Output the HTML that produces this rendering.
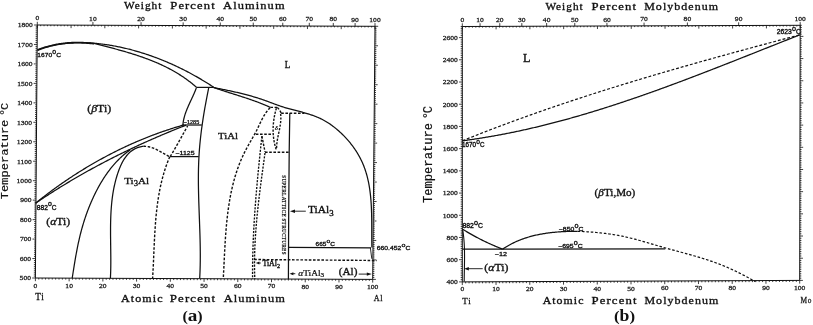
<!DOCTYPE html>
<html><head><meta charset="utf-8"><style>
html,body{margin:0;padding:0;background:#fff;overflow:hidden;}
svg{display:block;filter:grayscale(1);}
</style></head><body>
<svg width="813" height="325" viewBox="0 0 813 325">
<rect width="813" height="325" fill="#fff"/>
<path d="M37.3 25 L375 26.3 L372.7 279.4 L35.4 278 L37.3 25" fill="none" stroke="#111" stroke-width="1"/>
<line x1="32.2" y1="278" x2="35.4" y2="278" stroke="#111" stroke-width="0.8"/>
<line x1="372.7" y1="279.4" x2="375.9" y2="279.4" stroke="#111" stroke-width="0.8"/>
<g transform="translate(31 280.3) scale(0.19 0.17)"><text font-family="Liberation Serif" font-size="40" text-anchor="end" fill="#222" stroke="#222" stroke-width="1.6">500</text></g>
<line x1="33.81" y1="276.05" x2="35.41" y2="276.05" stroke="#111" stroke-width="0.8"/>
<line x1="372.72" y1="277.45" x2="374.32" y2="277.45" stroke="#111" stroke-width="0.8"/>
<line x1="33.83" y1="274.11" x2="35.43" y2="274.11" stroke="#111" stroke-width="0.8"/>
<line x1="372.74" y1="275.51" x2="374.34" y2="275.51" stroke="#111" stroke-width="0.8"/>
<line x1="33.84" y1="272.16" x2="35.44" y2="272.16" stroke="#111" stroke-width="0.8"/>
<line x1="372.75" y1="273.56" x2="374.35" y2="273.56" stroke="#111" stroke-width="0.8"/>
<line x1="33.86" y1="270.22" x2="35.46" y2="270.22" stroke="#111" stroke-width="0.8"/>
<line x1="372.77" y1="271.61" x2="374.37" y2="271.61" stroke="#111" stroke-width="0.8"/>
<line x1="33.87" y1="268.27" x2="35.47" y2="268.27" stroke="#111" stroke-width="0.8"/>
<line x1="372.79" y1="269.67" x2="374.39" y2="269.67" stroke="#111" stroke-width="0.8"/>
<line x1="33.89" y1="266.32" x2="35.49" y2="266.32" stroke="#111" stroke-width="0.8"/>
<line x1="372.81" y1="267.72" x2="374.41" y2="267.72" stroke="#111" stroke-width="0.8"/>
<line x1="33.9" y1="264.38" x2="35.5" y2="264.38" stroke="#111" stroke-width="0.8"/>
<line x1="372.82" y1="265.77" x2="374.42" y2="265.77" stroke="#111" stroke-width="0.8"/>
<line x1="33.92" y1="262.43" x2="35.52" y2="262.43" stroke="#111" stroke-width="0.8"/>
<line x1="372.84" y1="263.82" x2="374.44" y2="263.82" stroke="#111" stroke-width="0.8"/>
<line x1="33.93" y1="260.48" x2="35.53" y2="260.48" stroke="#111" stroke-width="0.8"/>
<line x1="372.86" y1="261.88" x2="374.46" y2="261.88" stroke="#111" stroke-width="0.8"/>
<line x1="32.35" y1="258.54" x2="35.55" y2="258.54" stroke="#111" stroke-width="0.8"/>
<line x1="372.88" y1="259.93" x2="376.08" y2="259.93" stroke="#111" stroke-width="0.8"/>
<g transform="translate(31.15 260.83) scale(0.19 0.17)"><text font-family="Liberation Serif" font-size="40" text-anchor="end" fill="#222" stroke="#222" stroke-width="1.6">600</text></g>
<line x1="33.96" y1="256.59" x2="35.56" y2="256.59" stroke="#111" stroke-width="0.8"/>
<line x1="372.89" y1="257.98" x2="374.49" y2="257.98" stroke="#111" stroke-width="0.8"/>
<line x1="33.98" y1="254.65" x2="35.58" y2="254.65" stroke="#111" stroke-width="0.8"/>
<line x1="372.91" y1="256.04" x2="374.51" y2="256.04" stroke="#111" stroke-width="0.8"/>
<line x1="33.99" y1="252.7" x2="35.59" y2="252.7" stroke="#111" stroke-width="0.8"/>
<line x1="372.93" y1="254.09" x2="374.53" y2="254.09" stroke="#111" stroke-width="0.8"/>
<line x1="34" y1="250.75" x2="35.6" y2="250.75" stroke="#111" stroke-width="0.8"/>
<line x1="372.95" y1="252.14" x2="374.55" y2="252.14" stroke="#111" stroke-width="0.8"/>
<line x1="34.02" y1="248.81" x2="35.62" y2="248.81" stroke="#111" stroke-width="0.8"/>
<line x1="372.97" y1="250.2" x2="374.57" y2="250.2" stroke="#111" stroke-width="0.8"/>
<line x1="34.03" y1="246.86" x2="35.63" y2="246.86" stroke="#111" stroke-width="0.8"/>
<line x1="372.98" y1="248.25" x2="374.58" y2="248.25" stroke="#111" stroke-width="0.8"/>
<line x1="34.05" y1="244.92" x2="35.65" y2="244.92" stroke="#111" stroke-width="0.8"/>
<line x1="373" y1="246.3" x2="374.6" y2="246.3" stroke="#111" stroke-width="0.8"/>
<line x1="34.06" y1="242.97" x2="35.66" y2="242.97" stroke="#111" stroke-width="0.8"/>
<line x1="373.02" y1="244.36" x2="374.62" y2="244.36" stroke="#111" stroke-width="0.8"/>
<line x1="34.08" y1="241.02" x2="35.68" y2="241.02" stroke="#111" stroke-width="0.8"/>
<line x1="373.04" y1="242.41" x2="374.64" y2="242.41" stroke="#111" stroke-width="0.8"/>
<line x1="32.49" y1="239.08" x2="35.69" y2="239.08" stroke="#111" stroke-width="0.8"/>
<line x1="373.05" y1="240.46" x2="376.25" y2="240.46" stroke="#111" stroke-width="0.8"/>
<g transform="translate(31.29 241.37) scale(0.19 0.17)"><text font-family="Liberation Serif" font-size="40" text-anchor="end" fill="#222" stroke="#222" stroke-width="1.6">700</text></g>
<line x1="34.11" y1="237.13" x2="35.71" y2="237.13" stroke="#111" stroke-width="0.8"/>
<line x1="373.07" y1="238.51" x2="374.67" y2="238.51" stroke="#111" stroke-width="0.8"/>
<line x1="34.12" y1="235.18" x2="35.72" y2="235.18" stroke="#111" stroke-width="0.8"/>
<line x1="373.09" y1="236.57" x2="374.69" y2="236.57" stroke="#111" stroke-width="0.8"/>
<line x1="34.14" y1="233.24" x2="35.74" y2="233.24" stroke="#111" stroke-width="0.8"/>
<line x1="373.11" y1="234.62" x2="374.71" y2="234.62" stroke="#111" stroke-width="0.8"/>
<line x1="34.15" y1="231.29" x2="35.75" y2="231.29" stroke="#111" stroke-width="0.8"/>
<line x1="373.12" y1="232.67" x2="374.72" y2="232.67" stroke="#111" stroke-width="0.8"/>
<line x1="34.17" y1="229.35" x2="35.77" y2="229.35" stroke="#111" stroke-width="0.8"/>
<line x1="373.14" y1="230.73" x2="374.74" y2="230.73" stroke="#111" stroke-width="0.8"/>
<line x1="34.18" y1="227.4" x2="35.78" y2="227.4" stroke="#111" stroke-width="0.8"/>
<line x1="373.16" y1="228.78" x2="374.76" y2="228.78" stroke="#111" stroke-width="0.8"/>
<line x1="34.19" y1="225.45" x2="35.79" y2="225.45" stroke="#111" stroke-width="0.8"/>
<line x1="373.18" y1="226.83" x2="374.78" y2="226.83" stroke="#111" stroke-width="0.8"/>
<line x1="34.21" y1="223.51" x2="35.81" y2="223.51" stroke="#111" stroke-width="0.8"/>
<line x1="373.2" y1="224.89" x2="374.8" y2="224.89" stroke="#111" stroke-width="0.8"/>
<line x1="34.22" y1="221.56" x2="35.82" y2="221.56" stroke="#111" stroke-width="0.8"/>
<line x1="373.21" y1="222.94" x2="374.81" y2="222.94" stroke="#111" stroke-width="0.8"/>
<line x1="32.64" y1="219.62" x2="35.84" y2="219.62" stroke="#111" stroke-width="0.8"/>
<line x1="373.23" y1="220.99" x2="376.43" y2="220.99" stroke="#111" stroke-width="0.8"/>
<g transform="translate(31.44 221.91) scale(0.19 0.17)"><text font-family="Liberation Serif" font-size="40" text-anchor="end" fill="#222" stroke="#222" stroke-width="1.6">800</text></g>
<line x1="34.25" y1="217.67" x2="35.85" y2="217.67" stroke="#111" stroke-width="0.8"/>
<line x1="373.25" y1="219.05" x2="374.85" y2="219.05" stroke="#111" stroke-width="0.8"/>
<line x1="34.27" y1="215.72" x2="35.87" y2="215.72" stroke="#111" stroke-width="0.8"/>
<line x1="373.27" y1="217.1" x2="374.87" y2="217.1" stroke="#111" stroke-width="0.8"/>
<line x1="34.28" y1="213.78" x2="35.88" y2="213.78" stroke="#111" stroke-width="0.8"/>
<line x1="373.28" y1="215.15" x2="374.88" y2="215.15" stroke="#111" stroke-width="0.8"/>
<line x1="34.3" y1="211.83" x2="35.9" y2="211.83" stroke="#111" stroke-width="0.8"/>
<line x1="373.3" y1="213.2" x2="374.9" y2="213.2" stroke="#111" stroke-width="0.8"/>
<line x1="34.31" y1="209.88" x2="35.91" y2="209.88" stroke="#111" stroke-width="0.8"/>
<line x1="373.32" y1="211.26" x2="374.92" y2="211.26" stroke="#111" stroke-width="0.8"/>
<line x1="34.33" y1="207.94" x2="35.93" y2="207.94" stroke="#111" stroke-width="0.8"/>
<line x1="373.34" y1="209.31" x2="374.94" y2="209.31" stroke="#111" stroke-width="0.8"/>
<line x1="34.34" y1="205.99" x2="35.94" y2="205.99" stroke="#111" stroke-width="0.8"/>
<line x1="373.35" y1="207.36" x2="374.95" y2="207.36" stroke="#111" stroke-width="0.8"/>
<line x1="34.36" y1="204.05" x2="35.96" y2="204.05" stroke="#111" stroke-width="0.8"/>
<line x1="373.37" y1="205.42" x2="374.97" y2="205.42" stroke="#111" stroke-width="0.8"/>
<line x1="34.37" y1="202.1" x2="35.97" y2="202.1" stroke="#111" stroke-width="0.8"/>
<line x1="373.39" y1="203.47" x2="374.99" y2="203.47" stroke="#111" stroke-width="0.8"/>
<line x1="32.78" y1="200.15" x2="35.98" y2="200.15" stroke="#111" stroke-width="0.8"/>
<line x1="373.41" y1="201.52" x2="376.61" y2="201.52" stroke="#111" stroke-width="0.8"/>
<g transform="translate(31.58 202.45) scale(0.19 0.17)"><text font-family="Liberation Serif" font-size="40" text-anchor="end" fill="#222" stroke="#222" stroke-width="1.6">900</text></g>
<line x1="34.4" y1="198.21" x2="36" y2="198.21" stroke="#111" stroke-width="0.8"/>
<line x1="373.43" y1="199.58" x2="375.03" y2="199.58" stroke="#111" stroke-width="0.8"/>
<line x1="34.41" y1="196.26" x2="36.01" y2="196.26" stroke="#111" stroke-width="0.8"/>
<line x1="373.44" y1="197.63" x2="375.04" y2="197.63" stroke="#111" stroke-width="0.8"/>
<line x1="34.43" y1="194.32" x2="36.03" y2="194.32" stroke="#111" stroke-width="0.8"/>
<line x1="373.46" y1="195.68" x2="375.06" y2="195.68" stroke="#111" stroke-width="0.8"/>
<line x1="34.44" y1="192.37" x2="36.04" y2="192.37" stroke="#111" stroke-width="0.8"/>
<line x1="373.48" y1="193.74" x2="375.08" y2="193.74" stroke="#111" stroke-width="0.8"/>
<line x1="34.46" y1="190.42" x2="36.06" y2="190.42" stroke="#111" stroke-width="0.8"/>
<line x1="373.5" y1="191.79" x2="375.1" y2="191.79" stroke="#111" stroke-width="0.8"/>
<line x1="34.47" y1="188.48" x2="36.07" y2="188.48" stroke="#111" stroke-width="0.8"/>
<line x1="373.51" y1="189.84" x2="375.11" y2="189.84" stroke="#111" stroke-width="0.8"/>
<line x1="34.49" y1="186.53" x2="36.09" y2="186.53" stroke="#111" stroke-width="0.8"/>
<line x1="373.53" y1="187.89" x2="375.13" y2="187.89" stroke="#111" stroke-width="0.8"/>
<line x1="34.5" y1="184.58" x2="36.1" y2="184.58" stroke="#111" stroke-width="0.8"/>
<line x1="373.55" y1="185.95" x2="375.15" y2="185.95" stroke="#111" stroke-width="0.8"/>
<line x1="34.52" y1="182.64" x2="36.12" y2="182.64" stroke="#111" stroke-width="0.8"/>
<line x1="373.57" y1="184" x2="375.17" y2="184" stroke="#111" stroke-width="0.8"/>
<line x1="32.93" y1="180.69" x2="36.13" y2="180.69" stroke="#111" stroke-width="0.8"/>
<line x1="373.58" y1="182.05" x2="376.78" y2="182.05" stroke="#111" stroke-width="0.8"/>
<g transform="translate(31.73 182.99) scale(0.19 0.17)"><text font-family="Liberation Serif" font-size="40" text-anchor="end" fill="#222" stroke="#222" stroke-width="1.6">1000</text></g>
<line x1="34.55" y1="178.75" x2="36.15" y2="178.75" stroke="#111" stroke-width="0.8"/>
<line x1="373.6" y1="180.11" x2="375.2" y2="180.11" stroke="#111" stroke-width="0.8"/>
<line x1="34.56" y1="176.8" x2="36.16" y2="176.8" stroke="#111" stroke-width="0.8"/>
<line x1="373.62" y1="178.16" x2="375.22" y2="178.16" stroke="#111" stroke-width="0.8"/>
<line x1="34.57" y1="174.85" x2="36.17" y2="174.85" stroke="#111" stroke-width="0.8"/>
<line x1="373.64" y1="176.21" x2="375.24" y2="176.21" stroke="#111" stroke-width="0.8"/>
<line x1="34.59" y1="172.91" x2="36.19" y2="172.91" stroke="#111" stroke-width="0.8"/>
<line x1="373.66" y1="174.27" x2="375.26" y2="174.27" stroke="#111" stroke-width="0.8"/>
<line x1="34.6" y1="170.96" x2="36.2" y2="170.96" stroke="#111" stroke-width="0.8"/>
<line x1="373.67" y1="172.32" x2="375.27" y2="172.32" stroke="#111" stroke-width="0.8"/>
<line x1="34.62" y1="169.02" x2="36.22" y2="169.02" stroke="#111" stroke-width="0.8"/>
<line x1="373.69" y1="170.37" x2="375.29" y2="170.37" stroke="#111" stroke-width="0.8"/>
<line x1="34.63" y1="167.07" x2="36.23" y2="167.07" stroke="#111" stroke-width="0.8"/>
<line x1="373.71" y1="168.43" x2="375.31" y2="168.43" stroke="#111" stroke-width="0.8"/>
<line x1="34.65" y1="165.12" x2="36.25" y2="165.12" stroke="#111" stroke-width="0.8"/>
<line x1="373.73" y1="166.48" x2="375.33" y2="166.48" stroke="#111" stroke-width="0.8"/>
<line x1="34.66" y1="163.18" x2="36.26" y2="163.18" stroke="#111" stroke-width="0.8"/>
<line x1="373.74" y1="164.53" x2="375.34" y2="164.53" stroke="#111" stroke-width="0.8"/>
<line x1="33.08" y1="161.23" x2="36.28" y2="161.23" stroke="#111" stroke-width="0.8"/>
<line x1="373.76" y1="162.58" x2="376.96" y2="162.58" stroke="#111" stroke-width="0.8"/>
<g transform="translate(31.88 163.53) scale(0.19 0.17)"><text font-family="Liberation Serif" font-size="40" text-anchor="end" fill="#222" stroke="#222" stroke-width="1.6">1100</text></g>
<line x1="34.69" y1="159.28" x2="36.29" y2="159.28" stroke="#111" stroke-width="0.8"/>
<line x1="373.78" y1="160.64" x2="375.38" y2="160.64" stroke="#111" stroke-width="0.8"/>
<line x1="34.71" y1="157.34" x2="36.31" y2="157.34" stroke="#111" stroke-width="0.8"/>
<line x1="373.8" y1="158.69" x2="375.4" y2="158.69" stroke="#111" stroke-width="0.8"/>
<line x1="34.72" y1="155.39" x2="36.32" y2="155.39" stroke="#111" stroke-width="0.8"/>
<line x1="373.81" y1="156.74" x2="375.41" y2="156.74" stroke="#111" stroke-width="0.8"/>
<line x1="34.74" y1="153.45" x2="36.34" y2="153.45" stroke="#111" stroke-width="0.8"/>
<line x1="373.83" y1="154.8" x2="375.43" y2="154.8" stroke="#111" stroke-width="0.8"/>
<line x1="34.75" y1="151.5" x2="36.35" y2="151.5" stroke="#111" stroke-width="0.8"/>
<line x1="373.85" y1="152.85" x2="375.45" y2="152.85" stroke="#111" stroke-width="0.8"/>
<line x1="34.76" y1="149.55" x2="36.36" y2="149.55" stroke="#111" stroke-width="0.8"/>
<line x1="373.87" y1="150.9" x2="375.47" y2="150.9" stroke="#111" stroke-width="0.8"/>
<line x1="34.78" y1="147.61" x2="36.38" y2="147.61" stroke="#111" stroke-width="0.8"/>
<line x1="373.89" y1="148.96" x2="375.49" y2="148.96" stroke="#111" stroke-width="0.8"/>
<line x1="34.79" y1="145.66" x2="36.39" y2="145.66" stroke="#111" stroke-width="0.8"/>
<line x1="373.9" y1="147.01" x2="375.5" y2="147.01" stroke="#111" stroke-width="0.8"/>
<line x1="34.81" y1="143.72" x2="36.41" y2="143.72" stroke="#111" stroke-width="0.8"/>
<line x1="373.92" y1="145.06" x2="375.52" y2="145.06" stroke="#111" stroke-width="0.8"/>
<line x1="33.22" y1="141.77" x2="36.42" y2="141.77" stroke="#111" stroke-width="0.8"/>
<line x1="373.94" y1="143.12" x2="377.14" y2="143.12" stroke="#111" stroke-width="0.8"/>
<g transform="translate(32.02 144.06) scale(0.19 0.17)"><text font-family="Liberation Serif" font-size="40" text-anchor="end" fill="#222" stroke="#222" stroke-width="1.6">1200</text></g>
<line x1="34.84" y1="139.82" x2="36.44" y2="139.82" stroke="#111" stroke-width="0.8"/>
<line x1="373.96" y1="141.17" x2="375.56" y2="141.17" stroke="#111" stroke-width="0.8"/>
<line x1="34.85" y1="137.88" x2="36.45" y2="137.88" stroke="#111" stroke-width="0.8"/>
<line x1="373.97" y1="139.22" x2="375.57" y2="139.22" stroke="#111" stroke-width="0.8"/>
<line x1="34.87" y1="135.93" x2="36.47" y2="135.93" stroke="#111" stroke-width="0.8"/>
<line x1="373.99" y1="137.27" x2="375.59" y2="137.27" stroke="#111" stroke-width="0.8"/>
<line x1="34.88" y1="133.98" x2="36.48" y2="133.98" stroke="#111" stroke-width="0.8"/>
<line x1="374.01" y1="135.33" x2="375.61" y2="135.33" stroke="#111" stroke-width="0.8"/>
<line x1="34.9" y1="132.04" x2="36.5" y2="132.04" stroke="#111" stroke-width="0.8"/>
<line x1="374.03" y1="133.38" x2="375.63" y2="133.38" stroke="#111" stroke-width="0.8"/>
<line x1="34.91" y1="130.09" x2="36.51" y2="130.09" stroke="#111" stroke-width="0.8"/>
<line x1="374.04" y1="131.43" x2="375.64" y2="131.43" stroke="#111" stroke-width="0.8"/>
<line x1="34.93" y1="128.15" x2="36.53" y2="128.15" stroke="#111" stroke-width="0.8"/>
<line x1="374.06" y1="129.49" x2="375.66" y2="129.49" stroke="#111" stroke-width="0.8"/>
<line x1="34.94" y1="126.2" x2="36.54" y2="126.2" stroke="#111" stroke-width="0.8"/>
<line x1="374.08" y1="127.54" x2="375.68" y2="127.54" stroke="#111" stroke-width="0.8"/>
<line x1="34.95" y1="124.25" x2="36.55" y2="124.25" stroke="#111" stroke-width="0.8"/>
<line x1="374.1" y1="125.59" x2="375.7" y2="125.59" stroke="#111" stroke-width="0.8"/>
<line x1="33.37" y1="122.31" x2="36.57" y2="122.31" stroke="#111" stroke-width="0.8"/>
<line x1="374.12" y1="123.65" x2="377.32" y2="123.65" stroke="#111" stroke-width="0.8"/>
<g transform="translate(32.17 124.6) scale(0.19 0.17)"><text font-family="Liberation Serif" font-size="40" text-anchor="end" fill="#222" stroke="#222" stroke-width="1.6">1300</text></g>
<line x1="34.98" y1="120.36" x2="36.58" y2="120.36" stroke="#111" stroke-width="0.8"/>
<line x1="374.13" y1="121.7" x2="375.73" y2="121.7" stroke="#111" stroke-width="0.8"/>
<line x1="35" y1="118.42" x2="36.6" y2="118.42" stroke="#111" stroke-width="0.8"/>
<line x1="374.15" y1="119.75" x2="375.75" y2="119.75" stroke="#111" stroke-width="0.8"/>
<line x1="35.01" y1="116.47" x2="36.61" y2="116.47" stroke="#111" stroke-width="0.8"/>
<line x1="374.17" y1="117.81" x2="375.77" y2="117.81" stroke="#111" stroke-width="0.8"/>
<line x1="35.03" y1="114.52" x2="36.63" y2="114.52" stroke="#111" stroke-width="0.8"/>
<line x1="374.19" y1="115.86" x2="375.79" y2="115.86" stroke="#111" stroke-width="0.8"/>
<line x1="35.04" y1="112.58" x2="36.64" y2="112.58" stroke="#111" stroke-width="0.8"/>
<line x1="374.2" y1="113.91" x2="375.8" y2="113.91" stroke="#111" stroke-width="0.8"/>
<line x1="35.06" y1="110.63" x2="36.66" y2="110.63" stroke="#111" stroke-width="0.8"/>
<line x1="374.22" y1="111.96" x2="375.82" y2="111.96" stroke="#111" stroke-width="0.8"/>
<line x1="35.07" y1="108.68" x2="36.67" y2="108.68" stroke="#111" stroke-width="0.8"/>
<line x1="374.24" y1="110.02" x2="375.84" y2="110.02" stroke="#111" stroke-width="0.8"/>
<line x1="35.09" y1="106.74" x2="36.69" y2="106.74" stroke="#111" stroke-width="0.8"/>
<line x1="374.26" y1="108.07" x2="375.86" y2="108.07" stroke="#111" stroke-width="0.8"/>
<line x1="35.1" y1="104.79" x2="36.7" y2="104.79" stroke="#111" stroke-width="0.8"/>
<line x1="374.27" y1="106.12" x2="375.87" y2="106.12" stroke="#111" stroke-width="0.8"/>
<line x1="33.52" y1="102.85" x2="36.72" y2="102.85" stroke="#111" stroke-width="0.8"/>
<line x1="374.29" y1="104.18" x2="377.49" y2="104.18" stroke="#111" stroke-width="0.8"/>
<g transform="translate(32.32 105.14) scale(0.19 0.17)"><text font-family="Liberation Serif" font-size="40" text-anchor="end" fill="#222" stroke="#222" stroke-width="1.6">1400</text></g>
<line x1="35.13" y1="100.9" x2="36.73" y2="100.9" stroke="#111" stroke-width="0.8"/>
<line x1="374.31" y1="102.23" x2="375.91" y2="102.23" stroke="#111" stroke-width="0.8"/>
<line x1="35.14" y1="98.95" x2="36.74" y2="98.95" stroke="#111" stroke-width="0.8"/>
<line x1="374.33" y1="100.28" x2="375.93" y2="100.28" stroke="#111" stroke-width="0.8"/>
<line x1="35.16" y1="97.01" x2="36.76" y2="97.01" stroke="#111" stroke-width="0.8"/>
<line x1="374.35" y1="98.34" x2="375.95" y2="98.34" stroke="#111" stroke-width="0.8"/>
<line x1="35.17" y1="95.06" x2="36.77" y2="95.06" stroke="#111" stroke-width="0.8"/>
<line x1="374.36" y1="96.39" x2="375.96" y2="96.39" stroke="#111" stroke-width="0.8"/>
<line x1="35.19" y1="93.12" x2="36.79" y2="93.12" stroke="#111" stroke-width="0.8"/>
<line x1="374.38" y1="94.44" x2="375.98" y2="94.44" stroke="#111" stroke-width="0.8"/>
<line x1="35.2" y1="91.17" x2="36.8" y2="91.17" stroke="#111" stroke-width="0.8"/>
<line x1="374.4" y1="92.5" x2="376" y2="92.5" stroke="#111" stroke-width="0.8"/>
<line x1="35.22" y1="89.22" x2="36.82" y2="89.22" stroke="#111" stroke-width="0.8"/>
<line x1="374.42" y1="90.55" x2="376.02" y2="90.55" stroke="#111" stroke-width="0.8"/>
<line x1="35.23" y1="87.28" x2="36.83" y2="87.28" stroke="#111" stroke-width="0.8"/>
<line x1="374.43" y1="88.6" x2="376.03" y2="88.6" stroke="#111" stroke-width="0.8"/>
<line x1="35.25" y1="85.33" x2="36.85" y2="85.33" stroke="#111" stroke-width="0.8"/>
<line x1="374.45" y1="86.65" x2="376.05" y2="86.65" stroke="#111" stroke-width="0.8"/>
<line x1="33.66" y1="83.38" x2="36.86" y2="83.38" stroke="#111" stroke-width="0.8"/>
<line x1="374.47" y1="84.71" x2="377.67" y2="84.71" stroke="#111" stroke-width="0.8"/>
<g transform="translate(32.46 85.68) scale(0.19 0.17)"><text font-family="Liberation Serif" font-size="40" text-anchor="end" fill="#222" stroke="#222" stroke-width="1.6">1500</text></g>
<line x1="35.28" y1="81.44" x2="36.88" y2="81.44" stroke="#111" stroke-width="0.8"/>
<line x1="374.49" y1="82.76" x2="376.09" y2="82.76" stroke="#111" stroke-width="0.8"/>
<line x1="35.29" y1="79.49" x2="36.89" y2="79.49" stroke="#111" stroke-width="0.8"/>
<line x1="374.5" y1="80.81" x2="376.1" y2="80.81" stroke="#111" stroke-width="0.8"/>
<line x1="35.31" y1="77.55" x2="36.91" y2="77.55" stroke="#111" stroke-width="0.8"/>
<line x1="374.52" y1="78.87" x2="376.12" y2="78.87" stroke="#111" stroke-width="0.8"/>
<line x1="35.32" y1="75.6" x2="36.92" y2="75.6" stroke="#111" stroke-width="0.8"/>
<line x1="374.54" y1="76.92" x2="376.14" y2="76.92" stroke="#111" stroke-width="0.8"/>
<line x1="35.33" y1="73.65" x2="36.93" y2="73.65" stroke="#111" stroke-width="0.8"/>
<line x1="374.56" y1="74.97" x2="376.16" y2="74.97" stroke="#111" stroke-width="0.8"/>
<line x1="35.35" y1="71.71" x2="36.95" y2="71.71" stroke="#111" stroke-width="0.8"/>
<line x1="374.58" y1="73.03" x2="376.18" y2="73.03" stroke="#111" stroke-width="0.8"/>
<line x1="35.36" y1="69.76" x2="36.96" y2="69.76" stroke="#111" stroke-width="0.8"/>
<line x1="374.59" y1="71.08" x2="376.19" y2="71.08" stroke="#111" stroke-width="0.8"/>
<line x1="35.38" y1="67.82" x2="36.98" y2="67.82" stroke="#111" stroke-width="0.8"/>
<line x1="374.61" y1="69.13" x2="376.21" y2="69.13" stroke="#111" stroke-width="0.8"/>
<line x1="35.39" y1="65.87" x2="36.99" y2="65.87" stroke="#111" stroke-width="0.8"/>
<line x1="374.63" y1="67.19" x2="376.23" y2="67.19" stroke="#111" stroke-width="0.8"/>
<line x1="33.81" y1="63.92" x2="37.01" y2="63.92" stroke="#111" stroke-width="0.8"/>
<line x1="374.65" y1="65.24" x2="377.85" y2="65.24" stroke="#111" stroke-width="0.8"/>
<g transform="translate(32.61 66.22) scale(0.19 0.17)"><text font-family="Liberation Serif" font-size="40" text-anchor="end" fill="#222" stroke="#222" stroke-width="1.6">1600</text></g>
<line x1="35.42" y1="61.98" x2="37.02" y2="61.98" stroke="#111" stroke-width="0.8"/>
<line x1="374.66" y1="63.29" x2="376.26" y2="63.29" stroke="#111" stroke-width="0.8"/>
<line x1="35.44" y1="60.03" x2="37.04" y2="60.03" stroke="#111" stroke-width="0.8"/>
<line x1="374.68" y1="61.34" x2="376.28" y2="61.34" stroke="#111" stroke-width="0.8"/>
<line x1="35.45" y1="58.08" x2="37.05" y2="58.08" stroke="#111" stroke-width="0.8"/>
<line x1="374.7" y1="59.4" x2="376.3" y2="59.4" stroke="#111" stroke-width="0.8"/>
<line x1="35.47" y1="56.14" x2="37.07" y2="56.14" stroke="#111" stroke-width="0.8"/>
<line x1="374.72" y1="57.45" x2="376.32" y2="57.45" stroke="#111" stroke-width="0.8"/>
<line x1="35.48" y1="54.19" x2="37.08" y2="54.19" stroke="#111" stroke-width="0.8"/>
<line x1="374.73" y1="55.5" x2="376.33" y2="55.5" stroke="#111" stroke-width="0.8"/>
<line x1="35.5" y1="52.25" x2="37.1" y2="52.25" stroke="#111" stroke-width="0.8"/>
<line x1="374.75" y1="53.56" x2="376.35" y2="53.56" stroke="#111" stroke-width="0.8"/>
<line x1="35.51" y1="50.3" x2="37.11" y2="50.3" stroke="#111" stroke-width="0.8"/>
<line x1="374.77" y1="51.61" x2="376.37" y2="51.61" stroke="#111" stroke-width="0.8"/>
<line x1="35.52" y1="48.35" x2="37.12" y2="48.35" stroke="#111" stroke-width="0.8"/>
<line x1="374.79" y1="49.66" x2="376.39" y2="49.66" stroke="#111" stroke-width="0.8"/>
<line x1="35.54" y1="46.41" x2="37.14" y2="46.41" stroke="#111" stroke-width="0.8"/>
<line x1="374.81" y1="47.72" x2="376.41" y2="47.72" stroke="#111" stroke-width="0.8"/>
<line x1="33.95" y1="44.46" x2="37.15" y2="44.46" stroke="#111" stroke-width="0.8"/>
<line x1="374.82" y1="45.77" x2="378.02" y2="45.77" stroke="#111" stroke-width="0.8"/>
<g transform="translate(32.75 46.76) scale(0.19 0.17)"><text font-family="Liberation Serif" font-size="40" text-anchor="end" fill="#222" stroke="#222" stroke-width="1.6">1700</text></g>
<line x1="35.57" y1="42.52" x2="37.17" y2="42.52" stroke="#111" stroke-width="0.8"/>
<line x1="374.84" y1="43.82" x2="376.44" y2="43.82" stroke="#111" stroke-width="0.8"/>
<line x1="35.58" y1="40.57" x2="37.18" y2="40.57" stroke="#111" stroke-width="0.8"/>
<line x1="374.86" y1="41.88" x2="376.46" y2="41.88" stroke="#111" stroke-width="0.8"/>
<line x1="35.6" y1="38.62" x2="37.2" y2="38.62" stroke="#111" stroke-width="0.8"/>
<line x1="374.88" y1="39.93" x2="376.48" y2="39.93" stroke="#111" stroke-width="0.8"/>
<line x1="35.61" y1="36.68" x2="37.21" y2="36.68" stroke="#111" stroke-width="0.8"/>
<line x1="374.89" y1="37.98" x2="376.49" y2="37.98" stroke="#111" stroke-width="0.8"/>
<line x1="35.63" y1="34.73" x2="37.23" y2="34.73" stroke="#111" stroke-width="0.8"/>
<line x1="374.91" y1="36.03" x2="376.51" y2="36.03" stroke="#111" stroke-width="0.8"/>
<line x1="35.64" y1="32.78" x2="37.24" y2="32.78" stroke="#111" stroke-width="0.8"/>
<line x1="374.93" y1="34.09" x2="376.53" y2="34.09" stroke="#111" stroke-width="0.8"/>
<line x1="35.66" y1="30.84" x2="37.26" y2="30.84" stroke="#111" stroke-width="0.8"/>
<line x1="374.95" y1="32.14" x2="376.55" y2="32.14" stroke="#111" stroke-width="0.8"/>
<line x1="35.67" y1="28.89" x2="37.27" y2="28.89" stroke="#111" stroke-width="0.8"/>
<line x1="374.96" y1="30.19" x2="376.56" y2="30.19" stroke="#111" stroke-width="0.8"/>
<line x1="35.69" y1="26.95" x2="37.29" y2="26.95" stroke="#111" stroke-width="0.8"/>
<line x1="374.98" y1="28.25" x2="376.58" y2="28.25" stroke="#111" stroke-width="0.8"/>
<line x1="34.1" y1="25" x2="37.3" y2="25" stroke="#111" stroke-width="0.8"/>
<line x1="375" y1="26.3" x2="378.2" y2="26.3" stroke="#111" stroke-width="0.8"/>
<g transform="translate(32.9 27.3) scale(0.19 0.17)"><text font-family="Liberation Serif" font-size="40" text-anchor="end" fill="#222" stroke="#222" stroke-width="1.6">1800</text></g>
<line x1="35.4" y1="278" x2="35.4" y2="281.2" stroke="#111" stroke-width="0.8"/>
<line x1="37.3" y1="25" x2="37.3" y2="28" stroke="#111" stroke-width="0.8"/>
<line x1="38.77" y1="278.01" x2="38.77" y2="279.51" stroke="#111" stroke-width="0.8"/>
<line x1="40.68" y1="25.01" x2="40.68" y2="26.21" stroke="#111" stroke-width="0.8"/>
<line x1="42.15" y1="278.03" x2="42.15" y2="279.53" stroke="#111" stroke-width="0.8"/>
<line x1="44.05" y1="25.03" x2="44.05" y2="26.23" stroke="#111" stroke-width="0.8"/>
<line x1="45.52" y1="278.04" x2="45.52" y2="279.54" stroke="#111" stroke-width="0.8"/>
<line x1="47.43" y1="25.04" x2="47.43" y2="26.24" stroke="#111" stroke-width="0.8"/>
<line x1="48.89" y1="278.06" x2="48.89" y2="279.56" stroke="#111" stroke-width="0.8"/>
<line x1="50.81" y1="25.05" x2="50.81" y2="26.25" stroke="#111" stroke-width="0.8"/>
<line x1="52.27" y1="278.07" x2="52.27" y2="279.57" stroke="#111" stroke-width="0.8"/>
<line x1="54.18" y1="25.07" x2="54.18" y2="26.27" stroke="#111" stroke-width="0.8"/>
<line x1="55.64" y1="278.08" x2="55.64" y2="279.58" stroke="#111" stroke-width="0.8"/>
<line x1="57.56" y1="25.08" x2="57.56" y2="26.28" stroke="#111" stroke-width="0.8"/>
<line x1="59.01" y1="278.1" x2="59.01" y2="279.6" stroke="#111" stroke-width="0.8"/>
<line x1="60.94" y1="25.09" x2="60.94" y2="26.29" stroke="#111" stroke-width="0.8"/>
<line x1="62.38" y1="278.11" x2="62.38" y2="279.61" stroke="#111" stroke-width="0.8"/>
<line x1="64.32" y1="25.1" x2="64.32" y2="26.3" stroke="#111" stroke-width="0.8"/>
<line x1="65.76" y1="278.13" x2="65.76" y2="279.63" stroke="#111" stroke-width="0.8"/>
<line x1="67.69" y1="25.12" x2="67.69" y2="26.32" stroke="#111" stroke-width="0.8"/>
<line x1="69.13" y1="278.14" x2="69.13" y2="281.34" stroke="#111" stroke-width="0.8"/>
<line x1="71.07" y1="25.13" x2="71.07" y2="28.13" stroke="#111" stroke-width="0.8"/>
<line x1="72.5" y1="278.15" x2="72.5" y2="279.65" stroke="#111" stroke-width="0.8"/>
<line x1="74.45" y1="25.14" x2="74.45" y2="26.34" stroke="#111" stroke-width="0.8"/>
<line x1="75.88" y1="278.17" x2="75.88" y2="279.67" stroke="#111" stroke-width="0.8"/>
<line x1="77.82" y1="25.16" x2="77.82" y2="26.36" stroke="#111" stroke-width="0.8"/>
<line x1="79.25" y1="278.18" x2="79.25" y2="279.68" stroke="#111" stroke-width="0.8"/>
<line x1="81.2" y1="25.17" x2="81.2" y2="26.37" stroke="#111" stroke-width="0.8"/>
<line x1="82.62" y1="278.2" x2="82.62" y2="279.7" stroke="#111" stroke-width="0.8"/>
<line x1="84.58" y1="25.18" x2="84.58" y2="26.38" stroke="#111" stroke-width="0.8"/>
<line x1="85.99" y1="278.21" x2="85.99" y2="279.71" stroke="#111" stroke-width="0.8"/>
<line x1="87.95" y1="25.2" x2="87.95" y2="26.39" stroke="#111" stroke-width="0.8"/>
<line x1="89.37" y1="278.22" x2="89.37" y2="279.72" stroke="#111" stroke-width="0.8"/>
<line x1="91.33" y1="25.21" x2="91.33" y2="26.41" stroke="#111" stroke-width="0.8"/>
<line x1="92.74" y1="278.24" x2="92.74" y2="279.74" stroke="#111" stroke-width="0.8"/>
<line x1="94.71" y1="25.22" x2="94.71" y2="26.42" stroke="#111" stroke-width="0.8"/>
<line x1="96.11" y1="278.25" x2="96.11" y2="279.75" stroke="#111" stroke-width="0.8"/>
<line x1="98.09" y1="25.23" x2="98.09" y2="26.43" stroke="#111" stroke-width="0.8"/>
<line x1="99.49" y1="278.27" x2="99.49" y2="279.77" stroke="#111" stroke-width="0.8"/>
<line x1="101.46" y1="25.25" x2="101.46" y2="26.45" stroke="#111" stroke-width="0.8"/>
<line x1="102.86" y1="278.28" x2="102.86" y2="281.48" stroke="#111" stroke-width="0.8"/>
<line x1="104.84" y1="25.26" x2="104.84" y2="28.26" stroke="#111" stroke-width="0.8"/>
<line x1="106.23" y1="278.29" x2="106.23" y2="279.79" stroke="#111" stroke-width="0.8"/>
<line x1="108.22" y1="25.27" x2="108.22" y2="26.47" stroke="#111" stroke-width="0.8"/>
<line x1="109.61" y1="278.31" x2="109.61" y2="279.81" stroke="#111" stroke-width="0.8"/>
<line x1="111.59" y1="25.29" x2="111.59" y2="26.49" stroke="#111" stroke-width="0.8"/>
<line x1="112.98" y1="278.32" x2="112.98" y2="279.82" stroke="#111" stroke-width="0.8"/>
<line x1="114.97" y1="25.3" x2="114.97" y2="26.5" stroke="#111" stroke-width="0.8"/>
<line x1="116.35" y1="278.34" x2="116.35" y2="279.84" stroke="#111" stroke-width="0.8"/>
<line x1="118.35" y1="25.31" x2="118.35" y2="26.51" stroke="#111" stroke-width="0.8"/>
<line x1="119.72" y1="278.35" x2="119.72" y2="279.85" stroke="#111" stroke-width="0.8"/>
<line x1="121.72" y1="25.32" x2="121.72" y2="26.52" stroke="#111" stroke-width="0.8"/>
<line x1="123.1" y1="278.36" x2="123.1" y2="279.86" stroke="#111" stroke-width="0.8"/>
<line x1="125.1" y1="25.34" x2="125.1" y2="26.54" stroke="#111" stroke-width="0.8"/>
<line x1="126.47" y1="278.38" x2="126.47" y2="279.88" stroke="#111" stroke-width="0.8"/>
<line x1="128.48" y1="25.35" x2="128.48" y2="26.55" stroke="#111" stroke-width="0.8"/>
<line x1="129.84" y1="278.39" x2="129.84" y2="279.89" stroke="#111" stroke-width="0.8"/>
<line x1="131.86" y1="25.36" x2="131.86" y2="26.56" stroke="#111" stroke-width="0.8"/>
<line x1="133.22" y1="278.41" x2="133.22" y2="279.91" stroke="#111" stroke-width="0.8"/>
<line x1="135.23" y1="25.38" x2="135.23" y2="26.58" stroke="#111" stroke-width="0.8"/>
<line x1="136.59" y1="278.42" x2="136.59" y2="281.62" stroke="#111" stroke-width="0.8"/>
<line x1="138.61" y1="25.39" x2="138.61" y2="28.39" stroke="#111" stroke-width="0.8"/>
<line x1="139.96" y1="278.43" x2="139.96" y2="279.93" stroke="#111" stroke-width="0.8"/>
<line x1="141.99" y1="25.4" x2="141.99" y2="26.6" stroke="#111" stroke-width="0.8"/>
<line x1="143.34" y1="278.45" x2="143.34" y2="279.95" stroke="#111" stroke-width="0.8"/>
<line x1="145.36" y1="25.42" x2="145.36" y2="26.62" stroke="#111" stroke-width="0.8"/>
<line x1="146.71" y1="278.46" x2="146.71" y2="279.96" stroke="#111" stroke-width="0.8"/>
<line x1="148.74" y1="25.43" x2="148.74" y2="26.63" stroke="#111" stroke-width="0.8"/>
<line x1="150.08" y1="278.48" x2="150.08" y2="279.98" stroke="#111" stroke-width="0.8"/>
<line x1="152.12" y1="25.44" x2="152.12" y2="26.64" stroke="#111" stroke-width="0.8"/>
<line x1="153.45" y1="278.49" x2="153.45" y2="279.99" stroke="#111" stroke-width="0.8"/>
<line x1="155.5" y1="25.45" x2="155.5" y2="26.65" stroke="#111" stroke-width="0.8"/>
<line x1="156.83" y1="278.5" x2="156.83" y2="280" stroke="#111" stroke-width="0.8"/>
<line x1="158.87" y1="25.47" x2="158.87" y2="26.67" stroke="#111" stroke-width="0.8"/>
<line x1="160.2" y1="278.52" x2="160.2" y2="280.02" stroke="#111" stroke-width="0.8"/>
<line x1="162.25" y1="25.48" x2="162.25" y2="26.68" stroke="#111" stroke-width="0.8"/>
<line x1="163.57" y1="278.53" x2="163.57" y2="280.03" stroke="#111" stroke-width="0.8"/>
<line x1="165.63" y1="25.49" x2="165.63" y2="26.69" stroke="#111" stroke-width="0.8"/>
<line x1="166.95" y1="278.55" x2="166.95" y2="280.05" stroke="#111" stroke-width="0.8"/>
<line x1="169" y1="25.51" x2="169" y2="26.71" stroke="#111" stroke-width="0.8"/>
<line x1="170.32" y1="278.56" x2="170.32" y2="281.76" stroke="#111" stroke-width="0.8"/>
<line x1="172.38" y1="25.52" x2="172.38" y2="28.52" stroke="#111" stroke-width="0.8"/>
<line x1="173.69" y1="278.57" x2="173.69" y2="280.07" stroke="#111" stroke-width="0.8"/>
<line x1="175.76" y1="25.53" x2="175.76" y2="26.73" stroke="#111" stroke-width="0.8"/>
<line x1="177.07" y1="278.59" x2="177.07" y2="280.09" stroke="#111" stroke-width="0.8"/>
<line x1="179.13" y1="25.55" x2="179.13" y2="26.75" stroke="#111" stroke-width="0.8"/>
<line x1="180.44" y1="278.6" x2="180.44" y2="280.1" stroke="#111" stroke-width="0.8"/>
<line x1="182.51" y1="25.56" x2="182.51" y2="26.76" stroke="#111" stroke-width="0.8"/>
<line x1="183.81" y1="278.62" x2="183.81" y2="280.12" stroke="#111" stroke-width="0.8"/>
<line x1="185.89" y1="25.57" x2="185.89" y2="26.77" stroke="#111" stroke-width="0.8"/>
<line x1="187.19" y1="278.63" x2="187.19" y2="280.13" stroke="#111" stroke-width="0.8"/>
<line x1="189.26" y1="25.59" x2="189.26" y2="26.79" stroke="#111" stroke-width="0.8"/>
<line x1="190.56" y1="278.64" x2="190.56" y2="280.14" stroke="#111" stroke-width="0.8"/>
<line x1="192.64" y1="25.6" x2="192.64" y2="26.8" stroke="#111" stroke-width="0.8"/>
<line x1="193.93" y1="278.66" x2="193.93" y2="280.16" stroke="#111" stroke-width="0.8"/>
<line x1="196.02" y1="25.61" x2="196.02" y2="26.81" stroke="#111" stroke-width="0.8"/>
<line x1="197.3" y1="278.67" x2="197.3" y2="280.17" stroke="#111" stroke-width="0.8"/>
<line x1="199.4" y1="25.62" x2="199.4" y2="26.82" stroke="#111" stroke-width="0.8"/>
<line x1="200.68" y1="278.69" x2="200.68" y2="280.19" stroke="#111" stroke-width="0.8"/>
<line x1="202.77" y1="25.64" x2="202.77" y2="26.84" stroke="#111" stroke-width="0.8"/>
<line x1="204.05" y1="278.7" x2="204.05" y2="281.9" stroke="#111" stroke-width="0.8"/>
<line x1="206.15" y1="25.65" x2="206.15" y2="28.65" stroke="#111" stroke-width="0.8"/>
<line x1="207.42" y1="278.71" x2="207.42" y2="280.21" stroke="#111" stroke-width="0.8"/>
<line x1="209.53" y1="25.66" x2="209.53" y2="26.86" stroke="#111" stroke-width="0.8"/>
<line x1="210.8" y1="278.73" x2="210.8" y2="280.23" stroke="#111" stroke-width="0.8"/>
<line x1="212.9" y1="25.68" x2="212.9" y2="26.88" stroke="#111" stroke-width="0.8"/>
<line x1="214.17" y1="278.74" x2="214.17" y2="280.24" stroke="#111" stroke-width="0.8"/>
<line x1="216.28" y1="25.69" x2="216.28" y2="26.89" stroke="#111" stroke-width="0.8"/>
<line x1="217.54" y1="278.76" x2="217.54" y2="280.26" stroke="#111" stroke-width="0.8"/>
<line x1="219.66" y1="25.7" x2="219.66" y2="26.9" stroke="#111" stroke-width="0.8"/>
<line x1="220.92" y1="278.77" x2="220.92" y2="280.27" stroke="#111" stroke-width="0.8"/>
<line x1="223.04" y1="25.71" x2="223.04" y2="26.91" stroke="#111" stroke-width="0.8"/>
<line x1="224.29" y1="278.78" x2="224.29" y2="280.28" stroke="#111" stroke-width="0.8"/>
<line x1="226.41" y1="25.73" x2="226.41" y2="26.93" stroke="#111" stroke-width="0.8"/>
<line x1="227.66" y1="278.8" x2="227.66" y2="280.3" stroke="#111" stroke-width="0.8"/>
<line x1="229.79" y1="25.74" x2="229.79" y2="26.94" stroke="#111" stroke-width="0.8"/>
<line x1="231.03" y1="278.81" x2="231.03" y2="280.31" stroke="#111" stroke-width="0.8"/>
<line x1="233.17" y1="25.75" x2="233.17" y2="26.95" stroke="#111" stroke-width="0.8"/>
<line x1="234.41" y1="278.83" x2="234.41" y2="280.33" stroke="#111" stroke-width="0.8"/>
<line x1="236.54" y1="25.77" x2="236.54" y2="26.97" stroke="#111" stroke-width="0.8"/>
<line x1="237.78" y1="278.84" x2="237.78" y2="282.04" stroke="#111" stroke-width="0.8"/>
<line x1="239.92" y1="25.78" x2="239.92" y2="28.78" stroke="#111" stroke-width="0.8"/>
<line x1="241.15" y1="278.85" x2="241.15" y2="280.35" stroke="#111" stroke-width="0.8"/>
<line x1="243.3" y1="25.79" x2="243.3" y2="26.99" stroke="#111" stroke-width="0.8"/>
<line x1="244.53" y1="278.87" x2="244.53" y2="280.37" stroke="#111" stroke-width="0.8"/>
<line x1="246.67" y1="25.81" x2="246.67" y2="27.01" stroke="#111" stroke-width="0.8"/>
<line x1="247.9" y1="278.88" x2="247.9" y2="280.38" stroke="#111" stroke-width="0.8"/>
<line x1="250.05" y1="25.82" x2="250.05" y2="27.02" stroke="#111" stroke-width="0.8"/>
<line x1="251.27" y1="278.9" x2="251.27" y2="280.4" stroke="#111" stroke-width="0.8"/>
<line x1="253.43" y1="25.83" x2="253.43" y2="27.03" stroke="#111" stroke-width="0.8"/>
<line x1="254.64" y1="278.91" x2="254.64" y2="280.41" stroke="#111" stroke-width="0.8"/>
<line x1="256.81" y1="25.85" x2="256.81" y2="27.05" stroke="#111" stroke-width="0.8"/>
<line x1="258.02" y1="278.92" x2="258.02" y2="280.42" stroke="#111" stroke-width="0.8"/>
<line x1="260.18" y1="25.86" x2="260.18" y2="27.06" stroke="#111" stroke-width="0.8"/>
<line x1="261.39" y1="278.94" x2="261.39" y2="280.44" stroke="#111" stroke-width="0.8"/>
<line x1="263.56" y1="25.87" x2="263.56" y2="27.07" stroke="#111" stroke-width="0.8"/>
<line x1="264.76" y1="278.95" x2="264.76" y2="280.45" stroke="#111" stroke-width="0.8"/>
<line x1="266.94" y1="25.88" x2="266.94" y2="27.08" stroke="#111" stroke-width="0.8"/>
<line x1="268.14" y1="278.97" x2="268.14" y2="280.47" stroke="#111" stroke-width="0.8"/>
<line x1="270.31" y1="25.9" x2="270.31" y2="27.1" stroke="#111" stroke-width="0.8"/>
<line x1="271.51" y1="278.98" x2="271.51" y2="282.18" stroke="#111" stroke-width="0.8"/>
<line x1="273.69" y1="25.91" x2="273.69" y2="28.91" stroke="#111" stroke-width="0.8"/>
<line x1="274.88" y1="278.99" x2="274.88" y2="280.49" stroke="#111" stroke-width="0.8"/>
<line x1="277.07" y1="25.92" x2="277.07" y2="27.12" stroke="#111" stroke-width="0.8"/>
<line x1="278.26" y1="279.01" x2="278.26" y2="280.51" stroke="#111" stroke-width="0.8"/>
<line x1="280.44" y1="25.94" x2="280.44" y2="27.14" stroke="#111" stroke-width="0.8"/>
<line x1="281.63" y1="279.02" x2="281.63" y2="280.52" stroke="#111" stroke-width="0.8"/>
<line x1="283.82" y1="25.95" x2="283.82" y2="27.15" stroke="#111" stroke-width="0.8"/>
<line x1="285" y1="279.04" x2="285" y2="280.54" stroke="#111" stroke-width="0.8"/>
<line x1="287.2" y1="25.96" x2="287.2" y2="27.16" stroke="#111" stroke-width="0.8"/>
<line x1="288.38" y1="279.05" x2="288.38" y2="280.55" stroke="#111" stroke-width="0.8"/>
<line x1="290.57" y1="25.98" x2="290.57" y2="27.18" stroke="#111" stroke-width="0.8"/>
<line x1="291.75" y1="279.06" x2="291.75" y2="280.56" stroke="#111" stroke-width="0.8"/>
<line x1="293.95" y1="25.99" x2="293.95" y2="27.19" stroke="#111" stroke-width="0.8"/>
<line x1="295.12" y1="279.08" x2="295.12" y2="280.58" stroke="#111" stroke-width="0.8"/>
<line x1="297.33" y1="26" x2="297.33" y2="27.2" stroke="#111" stroke-width="0.8"/>
<line x1="298.49" y1="279.09" x2="298.49" y2="280.59" stroke="#111" stroke-width="0.8"/>
<line x1="300.71" y1="26.01" x2="300.71" y2="27.21" stroke="#111" stroke-width="0.8"/>
<line x1="301.87" y1="279.11" x2="301.87" y2="280.61" stroke="#111" stroke-width="0.8"/>
<line x1="304.08" y1="26.03" x2="304.08" y2="27.23" stroke="#111" stroke-width="0.8"/>
<line x1="305.24" y1="279.12" x2="305.24" y2="282.32" stroke="#111" stroke-width="0.8"/>
<line x1="307.46" y1="26.04" x2="307.46" y2="29.04" stroke="#111" stroke-width="0.8"/>
<line x1="308.61" y1="279.13" x2="308.61" y2="280.63" stroke="#111" stroke-width="0.8"/>
<line x1="310.84" y1="26.05" x2="310.84" y2="27.25" stroke="#111" stroke-width="0.8"/>
<line x1="311.99" y1="279.15" x2="311.99" y2="280.65" stroke="#111" stroke-width="0.8"/>
<line x1="314.21" y1="26.07" x2="314.21" y2="27.27" stroke="#111" stroke-width="0.8"/>
<line x1="315.36" y1="279.16" x2="315.36" y2="280.66" stroke="#111" stroke-width="0.8"/>
<line x1="317.59" y1="26.08" x2="317.59" y2="27.28" stroke="#111" stroke-width="0.8"/>
<line x1="318.73" y1="279.18" x2="318.73" y2="280.68" stroke="#111" stroke-width="0.8"/>
<line x1="320.97" y1="26.09" x2="320.97" y2="27.29" stroke="#111" stroke-width="0.8"/>
<line x1="322.1" y1="279.19" x2="322.1" y2="280.69" stroke="#111" stroke-width="0.8"/>
<line x1="324.35" y1="26.11" x2="324.35" y2="27.3" stroke="#111" stroke-width="0.8"/>
<line x1="325.48" y1="279.2" x2="325.48" y2="280.7" stroke="#111" stroke-width="0.8"/>
<line x1="327.72" y1="26.12" x2="327.72" y2="27.32" stroke="#111" stroke-width="0.8"/>
<line x1="328.85" y1="279.22" x2="328.85" y2="280.72" stroke="#111" stroke-width="0.8"/>
<line x1="331.1" y1="26.13" x2="331.1" y2="27.33" stroke="#111" stroke-width="0.8"/>
<line x1="332.22" y1="279.23" x2="332.22" y2="280.73" stroke="#111" stroke-width="0.8"/>
<line x1="334.48" y1="26.14" x2="334.48" y2="27.34" stroke="#111" stroke-width="0.8"/>
<line x1="335.6" y1="279.25" x2="335.6" y2="280.75" stroke="#111" stroke-width="0.8"/>
<line x1="337.85" y1="26.16" x2="337.85" y2="27.36" stroke="#111" stroke-width="0.8"/>
<line x1="338.97" y1="279.26" x2="338.97" y2="282.46" stroke="#111" stroke-width="0.8"/>
<line x1="341.23" y1="26.17" x2="341.23" y2="29.17" stroke="#111" stroke-width="0.8"/>
<line x1="342.34" y1="279.27" x2="342.34" y2="280.77" stroke="#111" stroke-width="0.8"/>
<line x1="344.61" y1="26.18" x2="344.61" y2="27.38" stroke="#111" stroke-width="0.8"/>
<line x1="345.72" y1="279.29" x2="345.72" y2="280.79" stroke="#111" stroke-width="0.8"/>
<line x1="347.98" y1="26.2" x2="347.98" y2="27.4" stroke="#111" stroke-width="0.8"/>
<line x1="349.09" y1="279.3" x2="349.09" y2="280.8" stroke="#111" stroke-width="0.8"/>
<line x1="351.36" y1="26.21" x2="351.36" y2="27.41" stroke="#111" stroke-width="0.8"/>
<line x1="352.46" y1="279.32" x2="352.46" y2="280.82" stroke="#111" stroke-width="0.8"/>
<line x1="354.74" y1="26.22" x2="354.74" y2="27.42" stroke="#111" stroke-width="0.8"/>
<line x1="355.83" y1="279.33" x2="355.83" y2="280.83" stroke="#111" stroke-width="0.8"/>
<line x1="358.12" y1="26.23" x2="358.12" y2="27.43" stroke="#111" stroke-width="0.8"/>
<line x1="359.21" y1="279.34" x2="359.21" y2="280.84" stroke="#111" stroke-width="0.8"/>
<line x1="361.49" y1="26.25" x2="361.49" y2="27.45" stroke="#111" stroke-width="0.8"/>
<line x1="362.58" y1="279.36" x2="362.58" y2="280.86" stroke="#111" stroke-width="0.8"/>
<line x1="364.87" y1="26.26" x2="364.87" y2="27.46" stroke="#111" stroke-width="0.8"/>
<line x1="365.95" y1="279.37" x2="365.95" y2="280.87" stroke="#111" stroke-width="0.8"/>
<line x1="368.25" y1="26.27" x2="368.25" y2="27.47" stroke="#111" stroke-width="0.8"/>
<line x1="369.33" y1="279.39" x2="369.33" y2="280.89" stroke="#111" stroke-width="0.8"/>
<line x1="371.62" y1="26.29" x2="371.62" y2="27.49" stroke="#111" stroke-width="0.8"/>
<line x1="372.7" y1="279.4" x2="372.7" y2="282.6" stroke="#111" stroke-width="0.8"/>
<line x1="375" y1="26.3" x2="375" y2="29.3" stroke="#111" stroke-width="0.8"/>
<line x1="37.3" y1="21.8" x2="37.3" y2="25" stroke="#111" stroke-width="0.8"/>
<line x1="92.91" y1="22.01" x2="92.91" y2="25.21" stroke="#111" stroke-width="0.8"/>
<line x1="141.06" y1="22.2" x2="141.06" y2="25.4" stroke="#111" stroke-width="0.8"/>
<line x1="183.16" y1="22.36" x2="183.16" y2="25.56" stroke="#111" stroke-width="0.8"/>
<line x1="220.28" y1="22.5" x2="220.28" y2="25.7" stroke="#111" stroke-width="0.8"/>
<line x1="253.26" y1="22.63" x2="253.26" y2="25.83" stroke="#111" stroke-width="0.8"/>
<line x1="282.76" y1="22.74" x2="282.76" y2="25.94" stroke="#111" stroke-width="0.8"/>
<line x1="309.29" y1="22.85" x2="309.29" y2="26.05" stroke="#111" stroke-width="0.8"/>
<line x1="333.29" y1="22.94" x2="333.29" y2="26.14" stroke="#111" stroke-width="0.8"/>
<line x1="355.1" y1="23.02" x2="355.1" y2="26.22" stroke="#111" stroke-width="0.8"/>
<line x1="375" y1="23.1" x2="375" y2="26.3" stroke="#111" stroke-width="0.8"/>
<path d="M462.3 26.5 L800.2 25.3 L799.7 280.4 L462.3 281.9 L462.3 26.5" fill="none" stroke="#111" stroke-width="1"/>
<line x1="459.1" y1="281.9" x2="462.3" y2="281.9" stroke="#111" stroke-width="0.8"/>
<line x1="799.7" y1="280.4" x2="802.9" y2="280.4" stroke="#111" stroke-width="0.8"/>
<g transform="translate(457.9 284.19) scale(0.19 0.17)"><text font-family="Liberation Serif" font-size="40" text-anchor="end" fill="#222" stroke="#222" stroke-width="1.6">400</text></g>
<line x1="460.7" y1="279.68" x2="462.3" y2="279.68" stroke="#111" stroke-width="0.8"/>
<line x1="799.7" y1="278.18" x2="801.3" y2="278.18" stroke="#111" stroke-width="0.8"/>
<line x1="460.7" y1="277.46" x2="462.3" y2="277.46" stroke="#111" stroke-width="0.8"/>
<line x1="799.71" y1="275.96" x2="801.31" y2="275.96" stroke="#111" stroke-width="0.8"/>
<line x1="460.7" y1="275.24" x2="462.3" y2="275.24" stroke="#111" stroke-width="0.8"/>
<line x1="799.71" y1="273.75" x2="801.31" y2="273.75" stroke="#111" stroke-width="0.8"/>
<line x1="460.7" y1="273.02" x2="462.3" y2="273.02" stroke="#111" stroke-width="0.8"/>
<line x1="799.72" y1="271.53" x2="801.32" y2="271.53" stroke="#111" stroke-width="0.8"/>
<line x1="460.7" y1="270.8" x2="462.3" y2="270.8" stroke="#111" stroke-width="0.8"/>
<line x1="799.72" y1="269.31" x2="801.32" y2="269.31" stroke="#111" stroke-width="0.8"/>
<line x1="460.7" y1="268.57" x2="462.3" y2="268.57" stroke="#111" stroke-width="0.8"/>
<line x1="799.73" y1="267.09" x2="801.33" y2="267.09" stroke="#111" stroke-width="0.8"/>
<line x1="460.7" y1="266.35" x2="462.3" y2="266.35" stroke="#111" stroke-width="0.8"/>
<line x1="799.73" y1="264.87" x2="801.33" y2="264.87" stroke="#111" stroke-width="0.8"/>
<line x1="460.7" y1="264.13" x2="462.3" y2="264.13" stroke="#111" stroke-width="0.8"/>
<line x1="799.73" y1="262.65" x2="801.33" y2="262.65" stroke="#111" stroke-width="0.8"/>
<line x1="460.7" y1="261.91" x2="462.3" y2="261.91" stroke="#111" stroke-width="0.8"/>
<line x1="799.74" y1="260.44" x2="801.34" y2="260.44" stroke="#111" stroke-width="0.8"/>
<line x1="459.1" y1="259.69" x2="462.3" y2="259.69" stroke="#111" stroke-width="0.8"/>
<line x1="799.74" y1="258.22" x2="802.94" y2="258.22" stroke="#111" stroke-width="0.8"/>
<g transform="translate(457.9 261.99) scale(0.19 0.17)"><text font-family="Liberation Serif" font-size="40" text-anchor="end" fill="#222" stroke="#222" stroke-width="1.6">600</text></g>
<line x1="460.7" y1="257.47" x2="462.3" y2="257.47" stroke="#111" stroke-width="0.8"/>
<line x1="799.75" y1="256" x2="801.35" y2="256" stroke="#111" stroke-width="0.8"/>
<line x1="460.7" y1="255.25" x2="462.3" y2="255.25" stroke="#111" stroke-width="0.8"/>
<line x1="799.75" y1="253.78" x2="801.35" y2="253.78" stroke="#111" stroke-width="0.8"/>
<line x1="460.7" y1="253.03" x2="462.3" y2="253.03" stroke="#111" stroke-width="0.8"/>
<line x1="799.76" y1="251.56" x2="801.36" y2="251.56" stroke="#111" stroke-width="0.8"/>
<line x1="460.7" y1="250.81" x2="462.3" y2="250.81" stroke="#111" stroke-width="0.8"/>
<line x1="799.76" y1="249.34" x2="801.36" y2="249.34" stroke="#111" stroke-width="0.8"/>
<line x1="460.7" y1="248.59" x2="462.3" y2="248.59" stroke="#111" stroke-width="0.8"/>
<line x1="799.77" y1="247.13" x2="801.37" y2="247.13" stroke="#111" stroke-width="0.8"/>
<line x1="460.7" y1="246.37" x2="462.3" y2="246.37" stroke="#111" stroke-width="0.8"/>
<line x1="799.77" y1="244.91" x2="801.37" y2="244.91" stroke="#111" stroke-width="0.8"/>
<line x1="460.7" y1="244.15" x2="462.3" y2="244.15" stroke="#111" stroke-width="0.8"/>
<line x1="799.77" y1="242.69" x2="801.37" y2="242.69" stroke="#111" stroke-width="0.8"/>
<line x1="460.7" y1="241.92" x2="462.3" y2="241.92" stroke="#111" stroke-width="0.8"/>
<line x1="799.78" y1="240.47" x2="801.38" y2="240.47" stroke="#111" stroke-width="0.8"/>
<line x1="460.7" y1="239.7" x2="462.3" y2="239.7" stroke="#111" stroke-width="0.8"/>
<line x1="799.78" y1="238.25" x2="801.38" y2="238.25" stroke="#111" stroke-width="0.8"/>
<line x1="459.1" y1="237.48" x2="462.3" y2="237.48" stroke="#111" stroke-width="0.8"/>
<line x1="799.79" y1="236.03" x2="802.99" y2="236.03" stroke="#111" stroke-width="0.8"/>
<g transform="translate(457.9 239.78) scale(0.19 0.17)"><text font-family="Liberation Serif" font-size="40" text-anchor="end" fill="#222" stroke="#222" stroke-width="1.6">800</text></g>
<line x1="460.7" y1="235.26" x2="462.3" y2="235.26" stroke="#111" stroke-width="0.8"/>
<line x1="799.79" y1="233.82" x2="801.39" y2="233.82" stroke="#111" stroke-width="0.8"/>
<line x1="460.7" y1="233.04" x2="462.3" y2="233.04" stroke="#111" stroke-width="0.8"/>
<line x1="799.8" y1="231.6" x2="801.4" y2="231.6" stroke="#111" stroke-width="0.8"/>
<line x1="460.7" y1="230.82" x2="462.3" y2="230.82" stroke="#111" stroke-width="0.8"/>
<line x1="799.8" y1="229.38" x2="801.4" y2="229.38" stroke="#111" stroke-width="0.8"/>
<line x1="460.7" y1="228.6" x2="462.3" y2="228.6" stroke="#111" stroke-width="0.8"/>
<line x1="799.8" y1="227.16" x2="801.4" y2="227.16" stroke="#111" stroke-width="0.8"/>
<line x1="460.7" y1="226.38" x2="462.3" y2="226.38" stroke="#111" stroke-width="0.8"/>
<line x1="799.81" y1="224.94" x2="801.41" y2="224.94" stroke="#111" stroke-width="0.8"/>
<line x1="460.7" y1="224.16" x2="462.3" y2="224.16" stroke="#111" stroke-width="0.8"/>
<line x1="799.81" y1="222.73" x2="801.41" y2="222.73" stroke="#111" stroke-width="0.8"/>
<line x1="460.7" y1="221.94" x2="462.3" y2="221.94" stroke="#111" stroke-width="0.8"/>
<line x1="799.82" y1="220.51" x2="801.42" y2="220.51" stroke="#111" stroke-width="0.8"/>
<line x1="460.7" y1="219.72" x2="462.3" y2="219.72" stroke="#111" stroke-width="0.8"/>
<line x1="799.82" y1="218.29" x2="801.42" y2="218.29" stroke="#111" stroke-width="0.8"/>
<line x1="460.7" y1="217.49" x2="462.3" y2="217.49" stroke="#111" stroke-width="0.8"/>
<line x1="799.83" y1="216.07" x2="801.43" y2="216.07" stroke="#111" stroke-width="0.8"/>
<line x1="459.1" y1="215.27" x2="462.3" y2="215.27" stroke="#111" stroke-width="0.8"/>
<line x1="799.83" y1="213.85" x2="803.03" y2="213.85" stroke="#111" stroke-width="0.8"/>
<g transform="translate(457.9 217.57) scale(0.19 0.17)"><text font-family="Liberation Serif" font-size="40" text-anchor="end" fill="#222" stroke="#222" stroke-width="1.6">1000</text></g>
<line x1="460.7" y1="213.05" x2="462.3" y2="213.05" stroke="#111" stroke-width="0.8"/>
<line x1="799.83" y1="211.63" x2="801.43" y2="211.63" stroke="#111" stroke-width="0.8"/>
<line x1="460.7" y1="210.83" x2="462.3" y2="210.83" stroke="#111" stroke-width="0.8"/>
<line x1="799.84" y1="209.42" x2="801.44" y2="209.42" stroke="#111" stroke-width="0.8"/>
<line x1="460.7" y1="208.61" x2="462.3" y2="208.61" stroke="#111" stroke-width="0.8"/>
<line x1="799.84" y1="207.2" x2="801.44" y2="207.2" stroke="#111" stroke-width="0.8"/>
<line x1="460.7" y1="206.39" x2="462.3" y2="206.39" stroke="#111" stroke-width="0.8"/>
<line x1="799.85" y1="204.98" x2="801.45" y2="204.98" stroke="#111" stroke-width="0.8"/>
<line x1="460.7" y1="204.17" x2="462.3" y2="204.17" stroke="#111" stroke-width="0.8"/>
<line x1="799.85" y1="202.76" x2="801.45" y2="202.76" stroke="#111" stroke-width="0.8"/>
<line x1="460.7" y1="201.95" x2="462.3" y2="201.95" stroke="#111" stroke-width="0.8"/>
<line x1="799.86" y1="200.54" x2="801.46" y2="200.54" stroke="#111" stroke-width="0.8"/>
<line x1="460.7" y1="199.73" x2="462.3" y2="199.73" stroke="#111" stroke-width="0.8"/>
<line x1="799.86" y1="198.32" x2="801.46" y2="198.32" stroke="#111" stroke-width="0.8"/>
<line x1="460.7" y1="197.51" x2="462.3" y2="197.51" stroke="#111" stroke-width="0.8"/>
<line x1="799.87" y1="196.11" x2="801.47" y2="196.11" stroke="#111" stroke-width="0.8"/>
<line x1="460.7" y1="195.29" x2="462.3" y2="195.29" stroke="#111" stroke-width="0.8"/>
<line x1="799.87" y1="193.89" x2="801.47" y2="193.89" stroke="#111" stroke-width="0.8"/>
<line x1="459.1" y1="193.07" x2="462.3" y2="193.07" stroke="#111" stroke-width="0.8"/>
<line x1="799.87" y1="191.67" x2="803.07" y2="191.67" stroke="#111" stroke-width="0.8"/>
<g transform="translate(457.9 195.36) scale(0.19 0.17)"><text font-family="Liberation Serif" font-size="40" text-anchor="end" fill="#222" stroke="#222" stroke-width="1.6">1200</text></g>
<line x1="460.7" y1="190.84" x2="462.3" y2="190.84" stroke="#111" stroke-width="0.8"/>
<line x1="799.88" y1="189.45" x2="801.48" y2="189.45" stroke="#111" stroke-width="0.8"/>
<line x1="460.7" y1="188.62" x2="462.3" y2="188.62" stroke="#111" stroke-width="0.8"/>
<line x1="799.88" y1="187.23" x2="801.48" y2="187.23" stroke="#111" stroke-width="0.8"/>
<line x1="460.7" y1="186.4" x2="462.3" y2="186.4" stroke="#111" stroke-width="0.8"/>
<line x1="799.89" y1="185.01" x2="801.49" y2="185.01" stroke="#111" stroke-width="0.8"/>
<line x1="460.7" y1="184.18" x2="462.3" y2="184.18" stroke="#111" stroke-width="0.8"/>
<line x1="799.89" y1="182.8" x2="801.49" y2="182.8" stroke="#111" stroke-width="0.8"/>
<line x1="460.7" y1="181.96" x2="462.3" y2="181.96" stroke="#111" stroke-width="0.8"/>
<line x1="799.9" y1="180.58" x2="801.5" y2="180.58" stroke="#111" stroke-width="0.8"/>
<line x1="460.7" y1="179.74" x2="462.3" y2="179.74" stroke="#111" stroke-width="0.8"/>
<line x1="799.9" y1="178.36" x2="801.5" y2="178.36" stroke="#111" stroke-width="0.8"/>
<line x1="460.7" y1="177.52" x2="462.3" y2="177.52" stroke="#111" stroke-width="0.8"/>
<line x1="799.9" y1="176.14" x2="801.5" y2="176.14" stroke="#111" stroke-width="0.8"/>
<line x1="460.7" y1="175.3" x2="462.3" y2="175.3" stroke="#111" stroke-width="0.8"/>
<line x1="799.91" y1="173.92" x2="801.51" y2="173.92" stroke="#111" stroke-width="0.8"/>
<line x1="460.7" y1="173.08" x2="462.3" y2="173.08" stroke="#111" stroke-width="0.8"/>
<line x1="799.91" y1="171.71" x2="801.51" y2="171.71" stroke="#111" stroke-width="0.8"/>
<line x1="459.1" y1="170.86" x2="462.3" y2="170.86" stroke="#111" stroke-width="0.8"/>
<line x1="799.92" y1="169.49" x2="803.12" y2="169.49" stroke="#111" stroke-width="0.8"/>
<g transform="translate(457.9 173.15) scale(0.19 0.17)"><text font-family="Liberation Serif" font-size="40" text-anchor="end" fill="#222" stroke="#222" stroke-width="1.6">1400</text></g>
<line x1="460.7" y1="168.64" x2="462.3" y2="168.64" stroke="#111" stroke-width="0.8"/>
<line x1="799.92" y1="167.27" x2="801.52" y2="167.27" stroke="#111" stroke-width="0.8"/>
<line x1="460.7" y1="166.41" x2="462.3" y2="166.41" stroke="#111" stroke-width="0.8"/>
<line x1="799.93" y1="165.05" x2="801.53" y2="165.05" stroke="#111" stroke-width="0.8"/>
<line x1="460.7" y1="164.19" x2="462.3" y2="164.19" stroke="#111" stroke-width="0.8"/>
<line x1="799.93" y1="162.83" x2="801.53" y2="162.83" stroke="#111" stroke-width="0.8"/>
<line x1="460.7" y1="161.97" x2="462.3" y2="161.97" stroke="#111" stroke-width="0.8"/>
<line x1="799.93" y1="160.61" x2="801.53" y2="160.61" stroke="#111" stroke-width="0.8"/>
<line x1="460.7" y1="159.75" x2="462.3" y2="159.75" stroke="#111" stroke-width="0.8"/>
<line x1="799.94" y1="158.4" x2="801.54" y2="158.4" stroke="#111" stroke-width="0.8"/>
<line x1="460.7" y1="157.53" x2="462.3" y2="157.53" stroke="#111" stroke-width="0.8"/>
<line x1="799.94" y1="156.18" x2="801.54" y2="156.18" stroke="#111" stroke-width="0.8"/>
<line x1="460.7" y1="155.31" x2="462.3" y2="155.31" stroke="#111" stroke-width="0.8"/>
<line x1="799.95" y1="153.96" x2="801.55" y2="153.96" stroke="#111" stroke-width="0.8"/>
<line x1="460.7" y1="153.09" x2="462.3" y2="153.09" stroke="#111" stroke-width="0.8"/>
<line x1="799.95" y1="151.74" x2="801.55" y2="151.74" stroke="#111" stroke-width="0.8"/>
<line x1="460.7" y1="150.87" x2="462.3" y2="150.87" stroke="#111" stroke-width="0.8"/>
<line x1="799.96" y1="149.52" x2="801.56" y2="149.52" stroke="#111" stroke-width="0.8"/>
<line x1="459.1" y1="148.65" x2="462.3" y2="148.65" stroke="#111" stroke-width="0.8"/>
<line x1="799.96" y1="147.3" x2="803.16" y2="147.3" stroke="#111" stroke-width="0.8"/>
<g transform="translate(457.9 150.94) scale(0.19 0.17)"><text font-family="Liberation Serif" font-size="40" text-anchor="end" fill="#222" stroke="#222" stroke-width="1.6">1600</text></g>
<line x1="460.7" y1="146.43" x2="462.3" y2="146.43" stroke="#111" stroke-width="0.8"/>
<line x1="799.97" y1="145.09" x2="801.57" y2="145.09" stroke="#111" stroke-width="0.8"/>
<line x1="460.7" y1="144.21" x2="462.3" y2="144.21" stroke="#111" stroke-width="0.8"/>
<line x1="799.97" y1="142.87" x2="801.57" y2="142.87" stroke="#111" stroke-width="0.8"/>
<line x1="460.7" y1="141.99" x2="462.3" y2="141.99" stroke="#111" stroke-width="0.8"/>
<line x1="799.97" y1="140.65" x2="801.57" y2="140.65" stroke="#111" stroke-width="0.8"/>
<line x1="460.7" y1="139.76" x2="462.3" y2="139.76" stroke="#111" stroke-width="0.8"/>
<line x1="799.98" y1="138.43" x2="801.58" y2="138.43" stroke="#111" stroke-width="0.8"/>
<line x1="460.7" y1="137.54" x2="462.3" y2="137.54" stroke="#111" stroke-width="0.8"/>
<line x1="799.98" y1="136.21" x2="801.58" y2="136.21" stroke="#111" stroke-width="0.8"/>
<line x1="460.7" y1="135.32" x2="462.3" y2="135.32" stroke="#111" stroke-width="0.8"/>
<line x1="799.99" y1="133.99" x2="801.59" y2="133.99" stroke="#111" stroke-width="0.8"/>
<line x1="460.7" y1="133.1" x2="462.3" y2="133.1" stroke="#111" stroke-width="0.8"/>
<line x1="799.99" y1="131.78" x2="801.59" y2="131.78" stroke="#111" stroke-width="0.8"/>
<line x1="460.7" y1="130.88" x2="462.3" y2="130.88" stroke="#111" stroke-width="0.8"/>
<line x1="800" y1="129.56" x2="801.6" y2="129.56" stroke="#111" stroke-width="0.8"/>
<line x1="460.7" y1="128.66" x2="462.3" y2="128.66" stroke="#111" stroke-width="0.8"/>
<line x1="800" y1="127.34" x2="801.6" y2="127.34" stroke="#111" stroke-width="0.8"/>
<line x1="459.1" y1="126.44" x2="462.3" y2="126.44" stroke="#111" stroke-width="0.8"/>
<line x1="800" y1="125.12" x2="803.2" y2="125.12" stroke="#111" stroke-width="0.8"/>
<g transform="translate(457.9 128.73) scale(0.19 0.17)"><text font-family="Liberation Serif" font-size="40" text-anchor="end" fill="#222" stroke="#222" stroke-width="1.6">1800</text></g>
<line x1="460.7" y1="124.22" x2="462.3" y2="124.22" stroke="#111" stroke-width="0.8"/>
<line x1="800.01" y1="122.9" x2="801.61" y2="122.9" stroke="#111" stroke-width="0.8"/>
<line x1="460.7" y1="122" x2="462.3" y2="122" stroke="#111" stroke-width="0.8"/>
<line x1="800.01" y1="120.69" x2="801.61" y2="120.69" stroke="#111" stroke-width="0.8"/>
<line x1="460.7" y1="119.78" x2="462.3" y2="119.78" stroke="#111" stroke-width="0.8"/>
<line x1="800.02" y1="118.47" x2="801.62" y2="118.47" stroke="#111" stroke-width="0.8"/>
<line x1="460.7" y1="117.56" x2="462.3" y2="117.56" stroke="#111" stroke-width="0.8"/>
<line x1="800.02" y1="116.25" x2="801.62" y2="116.25" stroke="#111" stroke-width="0.8"/>
<line x1="460.7" y1="115.33" x2="462.3" y2="115.33" stroke="#111" stroke-width="0.8"/>
<line x1="800.03" y1="114.03" x2="801.63" y2="114.03" stroke="#111" stroke-width="0.8"/>
<line x1="460.7" y1="113.11" x2="462.3" y2="113.11" stroke="#111" stroke-width="0.8"/>
<line x1="800.03" y1="111.81" x2="801.63" y2="111.81" stroke="#111" stroke-width="0.8"/>
<line x1="460.7" y1="110.89" x2="462.3" y2="110.89" stroke="#111" stroke-width="0.8"/>
<line x1="800.03" y1="109.59" x2="801.63" y2="109.59" stroke="#111" stroke-width="0.8"/>
<line x1="460.7" y1="108.67" x2="462.3" y2="108.67" stroke="#111" stroke-width="0.8"/>
<line x1="800.04" y1="107.38" x2="801.64" y2="107.38" stroke="#111" stroke-width="0.8"/>
<line x1="460.7" y1="106.45" x2="462.3" y2="106.45" stroke="#111" stroke-width="0.8"/>
<line x1="800.04" y1="105.16" x2="801.64" y2="105.16" stroke="#111" stroke-width="0.8"/>
<line x1="459.1" y1="104.23" x2="462.3" y2="104.23" stroke="#111" stroke-width="0.8"/>
<line x1="800.05" y1="102.94" x2="803.25" y2="102.94" stroke="#111" stroke-width="0.8"/>
<g transform="translate(457.9 106.53) scale(0.19 0.17)"><text font-family="Liberation Serif" font-size="40" text-anchor="end" fill="#222" stroke="#222" stroke-width="1.6">2000</text></g>
<line x1="460.7" y1="102.01" x2="462.3" y2="102.01" stroke="#111" stroke-width="0.8"/>
<line x1="800.05" y1="100.72" x2="801.65" y2="100.72" stroke="#111" stroke-width="0.8"/>
<line x1="460.7" y1="99.79" x2="462.3" y2="99.79" stroke="#111" stroke-width="0.8"/>
<line x1="800.06" y1="98.5" x2="801.66" y2="98.5" stroke="#111" stroke-width="0.8"/>
<line x1="460.7" y1="97.57" x2="462.3" y2="97.57" stroke="#111" stroke-width="0.8"/>
<line x1="800.06" y1="96.28" x2="801.66" y2="96.28" stroke="#111" stroke-width="0.8"/>
<line x1="460.7" y1="95.35" x2="462.3" y2="95.35" stroke="#111" stroke-width="0.8"/>
<line x1="800.07" y1="94.07" x2="801.67" y2="94.07" stroke="#111" stroke-width="0.8"/>
<line x1="460.7" y1="93.13" x2="462.3" y2="93.13" stroke="#111" stroke-width="0.8"/>
<line x1="800.07" y1="91.85" x2="801.67" y2="91.85" stroke="#111" stroke-width="0.8"/>
<line x1="460.7" y1="90.91" x2="462.3" y2="90.91" stroke="#111" stroke-width="0.8"/>
<line x1="800.07" y1="89.63" x2="801.67" y2="89.63" stroke="#111" stroke-width="0.8"/>
<line x1="460.7" y1="88.68" x2="462.3" y2="88.68" stroke="#111" stroke-width="0.8"/>
<line x1="800.08" y1="87.41" x2="801.68" y2="87.41" stroke="#111" stroke-width="0.8"/>
<line x1="460.7" y1="86.46" x2="462.3" y2="86.46" stroke="#111" stroke-width="0.8"/>
<line x1="800.08" y1="85.19" x2="801.68" y2="85.19" stroke="#111" stroke-width="0.8"/>
<line x1="460.7" y1="84.24" x2="462.3" y2="84.24" stroke="#111" stroke-width="0.8"/>
<line x1="800.09" y1="82.97" x2="801.69" y2="82.97" stroke="#111" stroke-width="0.8"/>
<line x1="459.1" y1="82.02" x2="462.3" y2="82.02" stroke="#111" stroke-width="0.8"/>
<line x1="800.09" y1="80.76" x2="803.29" y2="80.76" stroke="#111" stroke-width="0.8"/>
<g transform="translate(457.9 84.32) scale(0.19 0.17)"><text font-family="Liberation Serif" font-size="40" text-anchor="end" fill="#222" stroke="#222" stroke-width="1.6">2200</text></g>
<line x1="460.7" y1="79.8" x2="462.3" y2="79.8" stroke="#111" stroke-width="0.8"/>
<line x1="800.1" y1="78.54" x2="801.7" y2="78.54" stroke="#111" stroke-width="0.8"/>
<line x1="460.7" y1="77.58" x2="462.3" y2="77.58" stroke="#111" stroke-width="0.8"/>
<line x1="800.1" y1="76.32" x2="801.7" y2="76.32" stroke="#111" stroke-width="0.8"/>
<line x1="460.7" y1="75.36" x2="462.3" y2="75.36" stroke="#111" stroke-width="0.8"/>
<line x1="800.1" y1="74.1" x2="801.7" y2="74.1" stroke="#111" stroke-width="0.8"/>
<line x1="460.7" y1="73.14" x2="462.3" y2="73.14" stroke="#111" stroke-width="0.8"/>
<line x1="800.11" y1="71.88" x2="801.71" y2="71.88" stroke="#111" stroke-width="0.8"/>
<line x1="460.7" y1="70.92" x2="462.3" y2="70.92" stroke="#111" stroke-width="0.8"/>
<line x1="800.11" y1="69.67" x2="801.71" y2="69.67" stroke="#111" stroke-width="0.8"/>
<line x1="460.7" y1="68.7" x2="462.3" y2="68.7" stroke="#111" stroke-width="0.8"/>
<line x1="800.12" y1="67.45" x2="801.72" y2="67.45" stroke="#111" stroke-width="0.8"/>
<line x1="460.7" y1="66.48" x2="462.3" y2="66.48" stroke="#111" stroke-width="0.8"/>
<line x1="800.12" y1="65.23" x2="801.72" y2="65.23" stroke="#111" stroke-width="0.8"/>
<line x1="460.7" y1="64.25" x2="462.3" y2="64.25" stroke="#111" stroke-width="0.8"/>
<line x1="800.13" y1="63.01" x2="801.73" y2="63.01" stroke="#111" stroke-width="0.8"/>
<line x1="460.7" y1="62.03" x2="462.3" y2="62.03" stroke="#111" stroke-width="0.8"/>
<line x1="800.13" y1="60.79" x2="801.73" y2="60.79" stroke="#111" stroke-width="0.8"/>
<line x1="459.1" y1="59.81" x2="462.3" y2="59.81" stroke="#111" stroke-width="0.8"/>
<line x1="800.13" y1="58.57" x2="803.33" y2="58.57" stroke="#111" stroke-width="0.8"/>
<g transform="translate(457.9 62.11) scale(0.19 0.17)"><text font-family="Liberation Serif" font-size="40" text-anchor="end" fill="#222" stroke="#222" stroke-width="1.6">2400</text></g>
<line x1="460.7" y1="57.59" x2="462.3" y2="57.59" stroke="#111" stroke-width="0.8"/>
<line x1="800.14" y1="56.36" x2="801.74" y2="56.36" stroke="#111" stroke-width="0.8"/>
<line x1="460.7" y1="55.37" x2="462.3" y2="55.37" stroke="#111" stroke-width="0.8"/>
<line x1="800.14" y1="54.14" x2="801.74" y2="54.14" stroke="#111" stroke-width="0.8"/>
<line x1="460.7" y1="53.15" x2="462.3" y2="53.15" stroke="#111" stroke-width="0.8"/>
<line x1="800.15" y1="51.92" x2="801.75" y2="51.92" stroke="#111" stroke-width="0.8"/>
<line x1="460.7" y1="50.93" x2="462.3" y2="50.93" stroke="#111" stroke-width="0.8"/>
<line x1="800.15" y1="49.7" x2="801.75" y2="49.7" stroke="#111" stroke-width="0.8"/>
<line x1="460.7" y1="48.71" x2="462.3" y2="48.71" stroke="#111" stroke-width="0.8"/>
<line x1="800.16" y1="47.48" x2="801.76" y2="47.48" stroke="#111" stroke-width="0.8"/>
<line x1="460.7" y1="46.49" x2="462.3" y2="46.49" stroke="#111" stroke-width="0.8"/>
<line x1="800.16" y1="45.26" x2="801.76" y2="45.26" stroke="#111" stroke-width="0.8"/>
<line x1="460.7" y1="44.27" x2="462.3" y2="44.27" stroke="#111" stroke-width="0.8"/>
<line x1="800.17" y1="43.05" x2="801.77" y2="43.05" stroke="#111" stroke-width="0.8"/>
<line x1="460.7" y1="42.05" x2="462.3" y2="42.05" stroke="#111" stroke-width="0.8"/>
<line x1="800.17" y1="40.83" x2="801.77" y2="40.83" stroke="#111" stroke-width="0.8"/>
<line x1="460.7" y1="39.83" x2="462.3" y2="39.83" stroke="#111" stroke-width="0.8"/>
<line x1="800.17" y1="38.61" x2="801.77" y2="38.61" stroke="#111" stroke-width="0.8"/>
<line x1="459.1" y1="37.6" x2="462.3" y2="37.6" stroke="#111" stroke-width="0.8"/>
<line x1="800.18" y1="36.39" x2="803.38" y2="36.39" stroke="#111" stroke-width="0.8"/>
<g transform="translate(457.9 39.9) scale(0.19 0.17)"><text font-family="Liberation Serif" font-size="40" text-anchor="end" fill="#222" stroke="#222" stroke-width="1.6">2600</text></g>
<line x1="460.7" y1="35.38" x2="462.3" y2="35.38" stroke="#111" stroke-width="0.8"/>
<line x1="800.18" y1="34.17" x2="801.78" y2="34.17" stroke="#111" stroke-width="0.8"/>
<line x1="460.7" y1="33.16" x2="462.3" y2="33.16" stroke="#111" stroke-width="0.8"/>
<line x1="800.19" y1="31.95" x2="801.79" y2="31.95" stroke="#111" stroke-width="0.8"/>
<line x1="460.7" y1="30.94" x2="462.3" y2="30.94" stroke="#111" stroke-width="0.8"/>
<line x1="800.19" y1="29.74" x2="801.79" y2="29.74" stroke="#111" stroke-width="0.8"/>
<line x1="460.7" y1="28.72" x2="462.3" y2="28.72" stroke="#111" stroke-width="0.8"/>
<line x1="800.2" y1="27.52" x2="801.8" y2="27.52" stroke="#111" stroke-width="0.8"/>
<line x1="460.7" y1="26.5" x2="462.3" y2="26.5" stroke="#111" stroke-width="0.8"/>
<line x1="800.2" y1="25.3" x2="801.8" y2="25.3" stroke="#111" stroke-width="0.8"/>
<line x1="462.3" y1="281.9" x2="462.3" y2="285.1" stroke="#111" stroke-width="0.8"/>
<line x1="462.3" y1="26.5" x2="462.3" y2="29.5" stroke="#111" stroke-width="0.8"/>
<line x1="465.67" y1="281.88" x2="465.67" y2="283.38" stroke="#111" stroke-width="0.8"/>
<line x1="465.68" y1="26.49" x2="465.68" y2="27.69" stroke="#111" stroke-width="0.8"/>
<line x1="469.05" y1="281.87" x2="469.05" y2="283.37" stroke="#111" stroke-width="0.8"/>
<line x1="469.06" y1="26.48" x2="469.06" y2="27.68" stroke="#111" stroke-width="0.8"/>
<line x1="472.42" y1="281.85" x2="472.42" y2="283.35" stroke="#111" stroke-width="0.8"/>
<line x1="472.44" y1="26.46" x2="472.44" y2="27.66" stroke="#111" stroke-width="0.8"/>
<line x1="475.8" y1="281.84" x2="475.8" y2="283.34" stroke="#111" stroke-width="0.8"/>
<line x1="475.82" y1="26.45" x2="475.82" y2="27.65" stroke="#111" stroke-width="0.8"/>
<line x1="479.17" y1="281.82" x2="479.17" y2="283.32" stroke="#111" stroke-width="0.8"/>
<line x1="479.19" y1="26.44" x2="479.19" y2="27.64" stroke="#111" stroke-width="0.8"/>
<line x1="482.54" y1="281.81" x2="482.54" y2="283.31" stroke="#111" stroke-width="0.8"/>
<line x1="482.57" y1="26.43" x2="482.57" y2="27.63" stroke="#111" stroke-width="0.8"/>
<line x1="485.92" y1="281.79" x2="485.92" y2="283.29" stroke="#111" stroke-width="0.8"/>
<line x1="485.95" y1="26.42" x2="485.95" y2="27.62" stroke="#111" stroke-width="0.8"/>
<line x1="489.29" y1="281.78" x2="489.29" y2="283.28" stroke="#111" stroke-width="0.8"/>
<line x1="489.33" y1="26.4" x2="489.33" y2="27.6" stroke="#111" stroke-width="0.8"/>
<line x1="492.67" y1="281.76" x2="492.67" y2="283.26" stroke="#111" stroke-width="0.8"/>
<line x1="492.71" y1="26.39" x2="492.71" y2="27.59" stroke="#111" stroke-width="0.8"/>
<line x1="496.04" y1="281.75" x2="496.04" y2="284.95" stroke="#111" stroke-width="0.8"/>
<line x1="496.09" y1="26.38" x2="496.09" y2="29.38" stroke="#111" stroke-width="0.8"/>
<line x1="499.41" y1="281.74" x2="499.41" y2="283.24" stroke="#111" stroke-width="0.8"/>
<line x1="499.47" y1="26.37" x2="499.47" y2="27.57" stroke="#111" stroke-width="0.8"/>
<line x1="502.79" y1="281.72" x2="502.79" y2="283.22" stroke="#111" stroke-width="0.8"/>
<line x1="502.85" y1="26.36" x2="502.85" y2="27.56" stroke="#111" stroke-width="0.8"/>
<line x1="506.16" y1="281.7" x2="506.16" y2="283.2" stroke="#111" stroke-width="0.8"/>
<line x1="506.23" y1="26.34" x2="506.23" y2="27.54" stroke="#111" stroke-width="0.8"/>
<line x1="509.54" y1="281.69" x2="509.54" y2="283.19" stroke="#111" stroke-width="0.8"/>
<line x1="509.61" y1="26.33" x2="509.61" y2="27.53" stroke="#111" stroke-width="0.8"/>
<line x1="512.91" y1="281.67" x2="512.91" y2="283.17" stroke="#111" stroke-width="0.8"/>
<line x1="512.99" y1="26.32" x2="512.99" y2="27.52" stroke="#111" stroke-width="0.8"/>
<line x1="516.28" y1="281.66" x2="516.28" y2="283.16" stroke="#111" stroke-width="0.8"/>
<line x1="516.36" y1="26.31" x2="516.36" y2="27.51" stroke="#111" stroke-width="0.8"/>
<line x1="519.66" y1="281.64" x2="519.66" y2="283.14" stroke="#111" stroke-width="0.8"/>
<line x1="519.74" y1="26.3" x2="519.74" y2="27.5" stroke="#111" stroke-width="0.8"/>
<line x1="523.03" y1="281.63" x2="523.03" y2="283.13" stroke="#111" stroke-width="0.8"/>
<line x1="523.12" y1="26.28" x2="523.12" y2="27.48" stroke="#111" stroke-width="0.8"/>
<line x1="526.41" y1="281.62" x2="526.41" y2="283.12" stroke="#111" stroke-width="0.8"/>
<line x1="526.5" y1="26.27" x2="526.5" y2="27.47" stroke="#111" stroke-width="0.8"/>
<line x1="529.78" y1="281.6" x2="529.78" y2="284.8" stroke="#111" stroke-width="0.8"/>
<line x1="529.88" y1="26.26" x2="529.88" y2="29.26" stroke="#111" stroke-width="0.8"/>
<line x1="533.15" y1="281.58" x2="533.15" y2="283.08" stroke="#111" stroke-width="0.8"/>
<line x1="533.26" y1="26.25" x2="533.26" y2="27.45" stroke="#111" stroke-width="0.8"/>
<line x1="536.53" y1="281.57" x2="536.53" y2="283.07" stroke="#111" stroke-width="0.8"/>
<line x1="536.64" y1="26.24" x2="536.64" y2="27.44" stroke="#111" stroke-width="0.8"/>
<line x1="539.9" y1="281.56" x2="539.9" y2="283.06" stroke="#111" stroke-width="0.8"/>
<line x1="540.02" y1="26.22" x2="540.02" y2="27.42" stroke="#111" stroke-width="0.8"/>
<line x1="543.28" y1="281.54" x2="543.28" y2="283.04" stroke="#111" stroke-width="0.8"/>
<line x1="543.4" y1="26.21" x2="543.4" y2="27.41" stroke="#111" stroke-width="0.8"/>
<line x1="546.65" y1="281.52" x2="546.65" y2="283.02" stroke="#111" stroke-width="0.8"/>
<line x1="546.78" y1="26.2" x2="546.78" y2="27.4" stroke="#111" stroke-width="0.8"/>
<line x1="550.02" y1="281.51" x2="550.02" y2="283.01" stroke="#111" stroke-width="0.8"/>
<line x1="550.15" y1="26.19" x2="550.15" y2="27.39" stroke="#111" stroke-width="0.8"/>
<line x1="553.4" y1="281.5" x2="553.4" y2="283" stroke="#111" stroke-width="0.8"/>
<line x1="553.53" y1="26.18" x2="553.53" y2="27.38" stroke="#111" stroke-width="0.8"/>
<line x1="556.77" y1="281.48" x2="556.77" y2="282.98" stroke="#111" stroke-width="0.8"/>
<line x1="556.91" y1="26.16" x2="556.91" y2="27.36" stroke="#111" stroke-width="0.8"/>
<line x1="560.15" y1="281.46" x2="560.15" y2="282.96" stroke="#111" stroke-width="0.8"/>
<line x1="560.29" y1="26.15" x2="560.29" y2="27.35" stroke="#111" stroke-width="0.8"/>
<line x1="563.52" y1="281.45" x2="563.52" y2="284.65" stroke="#111" stroke-width="0.8"/>
<line x1="563.67" y1="26.14" x2="563.67" y2="29.14" stroke="#111" stroke-width="0.8"/>
<line x1="566.89" y1="281.43" x2="566.89" y2="282.93" stroke="#111" stroke-width="0.8"/>
<line x1="567.05" y1="26.13" x2="567.05" y2="27.33" stroke="#111" stroke-width="0.8"/>
<line x1="570.27" y1="281.42" x2="570.27" y2="282.92" stroke="#111" stroke-width="0.8"/>
<line x1="570.43" y1="26.12" x2="570.43" y2="27.32" stroke="#111" stroke-width="0.8"/>
<line x1="573.64" y1="281.4" x2="573.64" y2="282.9" stroke="#111" stroke-width="0.8"/>
<line x1="573.81" y1="26.1" x2="573.81" y2="27.3" stroke="#111" stroke-width="0.8"/>
<line x1="577.02" y1="281.39" x2="577.02" y2="282.89" stroke="#111" stroke-width="0.8"/>
<line x1="577.19" y1="26.09" x2="577.19" y2="27.29" stroke="#111" stroke-width="0.8"/>
<line x1="580.39" y1="281.38" x2="580.39" y2="282.88" stroke="#111" stroke-width="0.8"/>
<line x1="580.57" y1="26.08" x2="580.57" y2="27.28" stroke="#111" stroke-width="0.8"/>
<line x1="583.76" y1="281.36" x2="583.76" y2="282.86" stroke="#111" stroke-width="0.8"/>
<line x1="583.94" y1="26.07" x2="583.94" y2="27.27" stroke="#111" stroke-width="0.8"/>
<line x1="587.14" y1="281.34" x2="587.14" y2="282.84" stroke="#111" stroke-width="0.8"/>
<line x1="587.32" y1="26.06" x2="587.32" y2="27.26" stroke="#111" stroke-width="0.8"/>
<line x1="590.51" y1="281.33" x2="590.51" y2="282.83" stroke="#111" stroke-width="0.8"/>
<line x1="590.7" y1="26.04" x2="590.7" y2="27.24" stroke="#111" stroke-width="0.8"/>
<line x1="593.89" y1="281.31" x2="593.89" y2="282.81" stroke="#111" stroke-width="0.8"/>
<line x1="594.08" y1="26.03" x2="594.08" y2="27.23" stroke="#111" stroke-width="0.8"/>
<line x1="597.26" y1="281.3" x2="597.26" y2="284.5" stroke="#111" stroke-width="0.8"/>
<line x1="597.46" y1="26.02" x2="597.46" y2="29.02" stroke="#111" stroke-width="0.8"/>
<line x1="600.63" y1="281.28" x2="600.63" y2="282.78" stroke="#111" stroke-width="0.8"/>
<line x1="600.84" y1="26.01" x2="600.84" y2="27.21" stroke="#111" stroke-width="0.8"/>
<line x1="604.01" y1="281.27" x2="604.01" y2="282.77" stroke="#111" stroke-width="0.8"/>
<line x1="604.22" y1="26" x2="604.22" y2="27.2" stroke="#111" stroke-width="0.8"/>
<line x1="607.38" y1="281.25" x2="607.38" y2="282.75" stroke="#111" stroke-width="0.8"/>
<line x1="607.6" y1="25.98" x2="607.6" y2="27.18" stroke="#111" stroke-width="0.8"/>
<line x1="610.76" y1="281.24" x2="610.76" y2="282.74" stroke="#111" stroke-width="0.8"/>
<line x1="610.98" y1="25.97" x2="610.98" y2="27.17" stroke="#111" stroke-width="0.8"/>
<line x1="614.13" y1="281.22" x2="614.13" y2="282.72" stroke="#111" stroke-width="0.8"/>
<line x1="614.36" y1="25.96" x2="614.36" y2="27.16" stroke="#111" stroke-width="0.8"/>
<line x1="617.5" y1="281.21" x2="617.5" y2="282.71" stroke="#111" stroke-width="0.8"/>
<line x1="617.73" y1="25.95" x2="617.73" y2="27.15" stroke="#111" stroke-width="0.8"/>
<line x1="620.88" y1="281.19" x2="620.88" y2="282.69" stroke="#111" stroke-width="0.8"/>
<line x1="621.11" y1="25.94" x2="621.11" y2="27.14" stroke="#111" stroke-width="0.8"/>
<line x1="624.25" y1="281.18" x2="624.25" y2="282.68" stroke="#111" stroke-width="0.8"/>
<line x1="624.49" y1="25.92" x2="624.49" y2="27.12" stroke="#111" stroke-width="0.8"/>
<line x1="627.63" y1="281.16" x2="627.63" y2="282.66" stroke="#111" stroke-width="0.8"/>
<line x1="627.87" y1="25.91" x2="627.87" y2="27.11" stroke="#111" stroke-width="0.8"/>
<line x1="631" y1="281.15" x2="631" y2="284.35" stroke="#111" stroke-width="0.8"/>
<line x1="631.25" y1="25.9" x2="631.25" y2="28.9" stroke="#111" stroke-width="0.8"/>
<line x1="634.37" y1="281.13" x2="634.37" y2="282.63" stroke="#111" stroke-width="0.8"/>
<line x1="634.63" y1="25.89" x2="634.63" y2="27.09" stroke="#111" stroke-width="0.8"/>
<line x1="637.75" y1="281.12" x2="637.75" y2="282.62" stroke="#111" stroke-width="0.8"/>
<line x1="638.01" y1="25.88" x2="638.01" y2="27.08" stroke="#111" stroke-width="0.8"/>
<line x1="641.12" y1="281.11" x2="641.12" y2="282.61" stroke="#111" stroke-width="0.8"/>
<line x1="641.39" y1="25.86" x2="641.39" y2="27.06" stroke="#111" stroke-width="0.8"/>
<line x1="644.5" y1="281.09" x2="644.5" y2="282.59" stroke="#111" stroke-width="0.8"/>
<line x1="644.77" y1="25.85" x2="644.77" y2="27.05" stroke="#111" stroke-width="0.8"/>
<line x1="647.87" y1="281.07" x2="647.87" y2="282.57" stroke="#111" stroke-width="0.8"/>
<line x1="648.15" y1="25.84" x2="648.15" y2="27.04" stroke="#111" stroke-width="0.8"/>
<line x1="651.24" y1="281.06" x2="651.24" y2="282.56" stroke="#111" stroke-width="0.8"/>
<line x1="651.52" y1="25.83" x2="651.52" y2="27.03" stroke="#111" stroke-width="0.8"/>
<line x1="654.62" y1="281.04" x2="654.62" y2="282.54" stroke="#111" stroke-width="0.8"/>
<line x1="654.9" y1="25.82" x2="654.9" y2="27.02" stroke="#111" stroke-width="0.8"/>
<line x1="657.99" y1="281.03" x2="657.99" y2="282.53" stroke="#111" stroke-width="0.8"/>
<line x1="658.28" y1="25.8" x2="658.28" y2="27" stroke="#111" stroke-width="0.8"/>
<line x1="661.37" y1="281.01" x2="661.37" y2="282.51" stroke="#111" stroke-width="0.8"/>
<line x1="661.66" y1="25.79" x2="661.66" y2="26.99" stroke="#111" stroke-width="0.8"/>
<line x1="664.74" y1="281" x2="664.74" y2="284.2" stroke="#111" stroke-width="0.8"/>
<line x1="665.04" y1="25.78" x2="665.04" y2="28.78" stroke="#111" stroke-width="0.8"/>
<line x1="668.11" y1="280.98" x2="668.11" y2="282.48" stroke="#111" stroke-width="0.8"/>
<line x1="668.42" y1="25.77" x2="668.42" y2="26.97" stroke="#111" stroke-width="0.8"/>
<line x1="671.49" y1="280.97" x2="671.49" y2="282.47" stroke="#111" stroke-width="0.8"/>
<line x1="671.8" y1="25.76" x2="671.8" y2="26.96" stroke="#111" stroke-width="0.8"/>
<line x1="674.86" y1="280.95" x2="674.86" y2="282.45" stroke="#111" stroke-width="0.8"/>
<line x1="675.18" y1="25.74" x2="675.18" y2="26.94" stroke="#111" stroke-width="0.8"/>
<line x1="678.24" y1="280.94" x2="678.24" y2="282.44" stroke="#111" stroke-width="0.8"/>
<line x1="678.56" y1="25.73" x2="678.56" y2="26.93" stroke="#111" stroke-width="0.8"/>
<line x1="681.61" y1="280.92" x2="681.61" y2="282.42" stroke="#111" stroke-width="0.8"/>
<line x1="681.93" y1="25.72" x2="681.93" y2="26.92" stroke="#111" stroke-width="0.8"/>
<line x1="684.98" y1="280.91" x2="684.98" y2="282.41" stroke="#111" stroke-width="0.8"/>
<line x1="685.31" y1="25.71" x2="685.31" y2="26.91" stroke="#111" stroke-width="0.8"/>
<line x1="688.36" y1="280.89" x2="688.36" y2="282.39" stroke="#111" stroke-width="0.8"/>
<line x1="688.69" y1="25.7" x2="688.69" y2="26.9" stroke="#111" stroke-width="0.8"/>
<line x1="691.73" y1="280.88" x2="691.73" y2="282.38" stroke="#111" stroke-width="0.8"/>
<line x1="692.07" y1="25.68" x2="692.07" y2="26.88" stroke="#111" stroke-width="0.8"/>
<line x1="695.11" y1="280.87" x2="695.11" y2="282.37" stroke="#111" stroke-width="0.8"/>
<line x1="695.45" y1="25.67" x2="695.45" y2="26.87" stroke="#111" stroke-width="0.8"/>
<line x1="698.48" y1="280.85" x2="698.48" y2="284.05" stroke="#111" stroke-width="0.8"/>
<line x1="698.83" y1="25.66" x2="698.83" y2="28.66" stroke="#111" stroke-width="0.8"/>
<line x1="701.85" y1="280.83" x2="701.85" y2="282.33" stroke="#111" stroke-width="0.8"/>
<line x1="702.21" y1="25.65" x2="702.21" y2="26.85" stroke="#111" stroke-width="0.8"/>
<line x1="705.23" y1="280.82" x2="705.23" y2="282.32" stroke="#111" stroke-width="0.8"/>
<line x1="705.59" y1="25.64" x2="705.59" y2="26.84" stroke="#111" stroke-width="0.8"/>
<line x1="708.6" y1="280.8" x2="708.6" y2="282.3" stroke="#111" stroke-width="0.8"/>
<line x1="708.97" y1="25.62" x2="708.97" y2="26.82" stroke="#111" stroke-width="0.8"/>
<line x1="711.98" y1="280.79" x2="711.98" y2="282.29" stroke="#111" stroke-width="0.8"/>
<line x1="712.35" y1="25.61" x2="712.35" y2="26.81" stroke="#111" stroke-width="0.8"/>
<line x1="715.35" y1="280.77" x2="715.35" y2="282.27" stroke="#111" stroke-width="0.8"/>
<line x1="715.73" y1="25.6" x2="715.73" y2="26.8" stroke="#111" stroke-width="0.8"/>
<line x1="718.72" y1="280.76" x2="718.72" y2="282.26" stroke="#111" stroke-width="0.8"/>
<line x1="719.1" y1="25.59" x2="719.1" y2="26.79" stroke="#111" stroke-width="0.8"/>
<line x1="722.1" y1="280.75" x2="722.1" y2="282.25" stroke="#111" stroke-width="0.8"/>
<line x1="722.48" y1="25.58" x2="722.48" y2="26.78" stroke="#111" stroke-width="0.8"/>
<line x1="725.47" y1="280.73" x2="725.47" y2="282.23" stroke="#111" stroke-width="0.8"/>
<line x1="725.86" y1="25.56" x2="725.86" y2="26.76" stroke="#111" stroke-width="0.8"/>
<line x1="728.85" y1="280.71" x2="728.85" y2="282.21" stroke="#111" stroke-width="0.8"/>
<line x1="729.24" y1="25.55" x2="729.24" y2="26.75" stroke="#111" stroke-width="0.8"/>
<line x1="732.22" y1="280.7" x2="732.22" y2="283.9" stroke="#111" stroke-width="0.8"/>
<line x1="732.62" y1="25.54" x2="732.62" y2="28.54" stroke="#111" stroke-width="0.8"/>
<line x1="735.59" y1="280.68" x2="735.59" y2="282.18" stroke="#111" stroke-width="0.8"/>
<line x1="736" y1="25.53" x2="736" y2="26.73" stroke="#111" stroke-width="0.8"/>
<line x1="738.97" y1="280.67" x2="738.97" y2="282.17" stroke="#111" stroke-width="0.8"/>
<line x1="739.38" y1="25.52" x2="739.38" y2="26.72" stroke="#111" stroke-width="0.8"/>
<line x1="742.34" y1="280.65" x2="742.34" y2="282.15" stroke="#111" stroke-width="0.8"/>
<line x1="742.76" y1="25.5" x2="742.76" y2="26.7" stroke="#111" stroke-width="0.8"/>
<line x1="745.72" y1="280.64" x2="745.72" y2="282.14" stroke="#111" stroke-width="0.8"/>
<line x1="746.14" y1="25.49" x2="746.14" y2="26.69" stroke="#111" stroke-width="0.8"/>
<line x1="749.09" y1="280.62" x2="749.09" y2="282.12" stroke="#111" stroke-width="0.8"/>
<line x1="749.52" y1="25.48" x2="749.52" y2="26.68" stroke="#111" stroke-width="0.8"/>
<line x1="752.46" y1="280.61" x2="752.46" y2="282.11" stroke="#111" stroke-width="0.8"/>
<line x1="752.89" y1="25.47" x2="752.89" y2="26.67" stroke="#111" stroke-width="0.8"/>
<line x1="755.84" y1="280.59" x2="755.84" y2="282.09" stroke="#111" stroke-width="0.8"/>
<line x1="756.27" y1="25.46" x2="756.27" y2="26.66" stroke="#111" stroke-width="0.8"/>
<line x1="759.21" y1="280.58" x2="759.21" y2="282.08" stroke="#111" stroke-width="0.8"/>
<line x1="759.65" y1="25.44" x2="759.65" y2="26.64" stroke="#111" stroke-width="0.8"/>
<line x1="762.59" y1="280.56" x2="762.59" y2="282.06" stroke="#111" stroke-width="0.8"/>
<line x1="763.03" y1="25.43" x2="763.03" y2="26.63" stroke="#111" stroke-width="0.8"/>
<line x1="765.96" y1="280.55" x2="765.96" y2="283.75" stroke="#111" stroke-width="0.8"/>
<line x1="766.41" y1="25.42" x2="766.41" y2="28.42" stroke="#111" stroke-width="0.8"/>
<line x1="769.33" y1="280.53" x2="769.33" y2="282.03" stroke="#111" stroke-width="0.8"/>
<line x1="769.79" y1="25.41" x2="769.79" y2="26.61" stroke="#111" stroke-width="0.8"/>
<line x1="772.71" y1="280.52" x2="772.71" y2="282.02" stroke="#111" stroke-width="0.8"/>
<line x1="773.17" y1="25.4" x2="773.17" y2="26.6" stroke="#111" stroke-width="0.8"/>
<line x1="776.08" y1="280.5" x2="776.08" y2="282" stroke="#111" stroke-width="0.8"/>
<line x1="776.55" y1="25.38" x2="776.55" y2="26.58" stroke="#111" stroke-width="0.8"/>
<line x1="779.46" y1="280.49" x2="779.46" y2="281.99" stroke="#111" stroke-width="0.8"/>
<line x1="779.93" y1="25.37" x2="779.93" y2="26.57" stroke="#111" stroke-width="0.8"/>
<line x1="782.83" y1="280.47" x2="782.83" y2="281.97" stroke="#111" stroke-width="0.8"/>
<line x1="783.31" y1="25.36" x2="783.31" y2="26.56" stroke="#111" stroke-width="0.8"/>
<line x1="786.2" y1="280.46" x2="786.2" y2="281.96" stroke="#111" stroke-width="0.8"/>
<line x1="786.68" y1="25.35" x2="786.68" y2="26.55" stroke="#111" stroke-width="0.8"/>
<line x1="789.58" y1="280.44" x2="789.58" y2="281.94" stroke="#111" stroke-width="0.8"/>
<line x1="790.06" y1="25.34" x2="790.06" y2="26.54" stroke="#111" stroke-width="0.8"/>
<line x1="792.95" y1="280.43" x2="792.95" y2="281.93" stroke="#111" stroke-width="0.8"/>
<line x1="793.44" y1="25.32" x2="793.44" y2="26.52" stroke="#111" stroke-width="0.8"/>
<line x1="796.33" y1="280.41" x2="796.33" y2="281.91" stroke="#111" stroke-width="0.8"/>
<line x1="796.82" y1="25.31" x2="796.82" y2="26.51" stroke="#111" stroke-width="0.8"/>
<line x1="799.7" y1="280.4" x2="799.7" y2="283.6" stroke="#111" stroke-width="0.8"/>
<line x1="800.2" y1="25.3" x2="800.2" y2="28.3" stroke="#111" stroke-width="0.8"/>
<line x1="462.3" y1="23.3" x2="462.3" y2="26.5" stroke="#111" stroke-width="0.8"/>
<line x1="480.05" y1="23.24" x2="480.05" y2="26.44" stroke="#111" stroke-width="0.8"/>
<line x1="499.77" y1="23.17" x2="499.77" y2="26.37" stroke="#111" stroke-width="0.8"/>
<line x1="521.82" y1="23.09" x2="521.82" y2="26.29" stroke="#111" stroke-width="0.8"/>
<line x1="546.63" y1="23" x2="546.63" y2="26.2" stroke="#111" stroke-width="0.8"/>
<line x1="574.76" y1="22.9" x2="574.76" y2="26.1" stroke="#111" stroke-width="0.8"/>
<line x1="606.93" y1="22.79" x2="606.93" y2="25.99" stroke="#111" stroke-width="0.8"/>
<line x1="644.06" y1="22.65" x2="644.06" y2="25.85" stroke="#111" stroke-width="0.8"/>
<line x1="687.4" y1="22.5" x2="687.4" y2="25.7" stroke="#111" stroke-width="0.8"/>
<line x1="738.65" y1="22.32" x2="738.65" y2="25.52" stroke="#111" stroke-width="0.8"/>
<line x1="800.2" y1="22.1" x2="800.2" y2="25.3" stroke="#111" stroke-width="0.8"/>
<g transform="translate(37.3 20.3) scale(0.19 0.17)"><text font-family="Liberation Serif" font-size="40" text-anchor="middle" fill="#222" stroke="#222" stroke-width="1.6">0</text></g>
<g transform="translate(462.3 21.99) scale(0.19 0.17)"><text font-family="Liberation Serif" font-size="40" text-anchor="middle" fill="#222" stroke="#222" stroke-width="1.6">0</text></g>
<g transform="translate(92.91 20.52) scale(0.19 0.17)"><text font-family="Liberation Serif" font-size="40" text-anchor="middle" fill="#222" stroke="#222" stroke-width="1.6">10</text></g>
<g transform="translate(480.05 21.94) scale(0.19 0.17)"><text font-family="Liberation Serif" font-size="40" text-anchor="middle" fill="#222" stroke="#222" stroke-width="1.6">10</text></g>
<g transform="translate(141.06 20.71) scale(0.19 0.17)"><text font-family="Liberation Serif" font-size="40" text-anchor="middle" fill="#222" stroke="#222" stroke-width="1.6">20</text></g>
<g transform="translate(499.77 21.88) scale(0.19 0.17)"><text font-family="Liberation Serif" font-size="40" text-anchor="middle" fill="#222" stroke="#222" stroke-width="1.6">20</text></g>
<g transform="translate(183.16 20.88) scale(0.19 0.17)"><text font-family="Liberation Serif" font-size="40" text-anchor="middle" fill="#222" stroke="#222" stroke-width="1.6">30</text></g>
<g transform="translate(521.82 21.82) scale(0.19 0.17)"><text font-family="Liberation Serif" font-size="40" text-anchor="middle" fill="#222" stroke="#222" stroke-width="1.6">30</text></g>
<g transform="translate(220.28 21.03) scale(0.19 0.17)"><text font-family="Liberation Serif" font-size="40" text-anchor="middle" fill="#222" stroke="#222" stroke-width="1.6">40</text></g>
<g transform="translate(546.63 21.74) scale(0.19 0.17)"><text font-family="Liberation Serif" font-size="40" text-anchor="middle" fill="#222" stroke="#222" stroke-width="1.6">40</text></g>
<g transform="translate(253.26 21.16) scale(0.19 0.17)"><text font-family="Liberation Serif" font-size="40" text-anchor="middle" fill="#222" stroke="#222" stroke-width="1.6">50</text></g>
<g transform="translate(574.76 21.66) scale(0.19 0.17)"><text font-family="Liberation Serif" font-size="40" text-anchor="middle" fill="#222" stroke="#222" stroke-width="1.6">50</text></g>
<g transform="translate(282.76 21.28) scale(0.19 0.17)"><text font-family="Liberation Serif" font-size="40" text-anchor="middle" fill="#222" stroke="#222" stroke-width="1.6">60</text></g>
<g transform="translate(606.93 21.56) scale(0.19 0.17)"><text font-family="Liberation Serif" font-size="40" text-anchor="middle" fill="#222" stroke="#222" stroke-width="1.6">60</text></g>
<g transform="translate(309.29 21.38) scale(0.19 0.17)"><text font-family="Liberation Serif" font-size="40" text-anchor="middle" fill="#222" stroke="#222" stroke-width="1.6">70</text></g>
<g transform="translate(644.06 21.45) scale(0.19 0.17)"><text font-family="Liberation Serif" font-size="40" text-anchor="middle" fill="#222" stroke="#222" stroke-width="1.6">70</text></g>
<g transform="translate(333.29 21.48) scale(0.19 0.17)"><text font-family="Liberation Serif" font-size="40" text-anchor="middle" fill="#222" stroke="#222" stroke-width="1.6">80</text></g>
<g transform="translate(687.4 21.32) scale(0.19 0.17)"><text font-family="Liberation Serif" font-size="40" text-anchor="middle" fill="#222" stroke="#222" stroke-width="1.6">80</text></g>
<g transform="translate(355.1 21.57) scale(0.19 0.17)"><text font-family="Liberation Serif" font-size="40" text-anchor="middle" fill="#222" stroke="#222" stroke-width="1.6">90</text></g>
<g transform="translate(738.65 21.17) scale(0.19 0.17)"><text font-family="Liberation Serif" font-size="40" text-anchor="middle" fill="#222" stroke="#222" stroke-width="1.6">90</text></g>
<g transform="translate(375 21.65) scale(0.19 0.17)"><text font-family="Liberation Serif" font-size="40" text-anchor="middle" fill="#222" stroke="#222" stroke-width="1.6">100</text></g>
<g transform="translate(800.2 20.98) scale(0.19 0.17)"><text font-family="Liberation Serif" font-size="40" text-anchor="middle" fill="#222" stroke="#222" stroke-width="1.6">100</text></g>
<g transform="translate(35.4 287.6) scale(0.19 0.17)"><text font-family="Liberation Serif" font-size="40" text-anchor="middle" fill="#222" stroke="#222" stroke-width="1.6">0</text></g>
<g transform="translate(462.3 291.1) scale(0.19 0.17)"><text font-family="Liberation Serif" font-size="40" text-anchor="middle" fill="#222" stroke="#222" stroke-width="1.6">0</text></g>
<g transform="translate(69.13 287.72) scale(0.19 0.17)"><text font-family="Liberation Serif" font-size="40" text-anchor="middle" fill="#222" stroke="#222" stroke-width="1.6">10</text></g>
<g transform="translate(496.04 290.98) scale(0.19 0.17)"><text font-family="Liberation Serif" font-size="40" text-anchor="middle" fill="#222" stroke="#222" stroke-width="1.6">10</text></g>
<g transform="translate(102.86 287.84) scale(0.19 0.17)"><text font-family="Liberation Serif" font-size="40" text-anchor="middle" fill="#222" stroke="#222" stroke-width="1.6">20</text></g>
<g transform="translate(529.78 290.86) scale(0.19 0.17)"><text font-family="Liberation Serif" font-size="40" text-anchor="middle" fill="#222" stroke="#222" stroke-width="1.6">20</text></g>
<g transform="translate(136.59 287.96) scale(0.19 0.17)"><text font-family="Liberation Serif" font-size="40" text-anchor="middle" fill="#222" stroke="#222" stroke-width="1.6">30</text></g>
<g transform="translate(563.52 290.74) scale(0.19 0.17)"><text font-family="Liberation Serif" font-size="40" text-anchor="middle" fill="#222" stroke="#222" stroke-width="1.6">30</text></g>
<g transform="translate(170.32 288.08) scale(0.19 0.17)"><text font-family="Liberation Serif" font-size="40" text-anchor="middle" fill="#222" stroke="#222" stroke-width="1.6">40</text></g>
<g transform="translate(597.26 290.62) scale(0.19 0.17)"><text font-family="Liberation Serif" font-size="40" text-anchor="middle" fill="#222" stroke="#222" stroke-width="1.6">40</text></g>
<g transform="translate(204.05 288.2) scale(0.19 0.17)"><text font-family="Liberation Serif" font-size="40" text-anchor="middle" fill="#222" stroke="#222" stroke-width="1.6">50</text></g>
<g transform="translate(631 290.5) scale(0.19 0.17)"><text font-family="Liberation Serif" font-size="40" text-anchor="middle" fill="#222" stroke="#222" stroke-width="1.6">50</text></g>
<g transform="translate(237.78 288.32) scale(0.19 0.17)"><text font-family="Liberation Serif" font-size="40" text-anchor="middle" fill="#222" stroke="#222" stroke-width="1.6">60</text></g>
<g transform="translate(664.74 290.38) scale(0.19 0.17)"><text font-family="Liberation Serif" font-size="40" text-anchor="middle" fill="#222" stroke="#222" stroke-width="1.6">60</text></g>
<g transform="translate(271.51 288.44) scale(0.19 0.17)"><text font-family="Liberation Serif" font-size="40" text-anchor="middle" fill="#222" stroke="#222" stroke-width="1.6">70</text></g>
<g transform="translate(698.48 290.26) scale(0.19 0.17)"><text font-family="Liberation Serif" font-size="40" text-anchor="middle" fill="#222" stroke="#222" stroke-width="1.6">70</text></g>
<g transform="translate(305.24 288.56) scale(0.19 0.17)"><text font-family="Liberation Serif" font-size="40" text-anchor="middle" fill="#222" stroke="#222" stroke-width="1.6">80</text></g>
<g transform="translate(732.22 290.14) scale(0.19 0.17)"><text font-family="Liberation Serif" font-size="40" text-anchor="middle" fill="#222" stroke="#222" stroke-width="1.6">80</text></g>
<g transform="translate(338.97 288.68) scale(0.19 0.17)"><text font-family="Liberation Serif" font-size="40" text-anchor="middle" fill="#222" stroke="#222" stroke-width="1.6">90</text></g>
<g transform="translate(765.96 290.02) scale(0.19 0.17)"><text font-family="Liberation Serif" font-size="40" text-anchor="middle" fill="#222" stroke="#222" stroke-width="1.6">90</text></g>
<g transform="translate(372.7 288.8) scale(0.19 0.17)"><text font-family="Liberation Serif" font-size="40" text-anchor="middle" fill="#222" stroke="#222" stroke-width="1.6">100</text></g>
<g transform="translate(799.7 289.9) scale(0.19 0.17)"><text font-family="Liberation Serif" font-size="40" text-anchor="middle" fill="#222" stroke="#222" stroke-width="1.6">100</text></g>
<path d="M37.4 50 L38.35 49.64 L39.31 49.3 L40.27 48.96 L41.23 48.64 L42.19 48.32 L43.15 48.01 L44.12 47.72 L45.08 47.43 L46.05 47.15 L47.02 46.88 L47.99 46.62 L48.96 46.37 L49.93 46.13 L50.91 45.89 L51.88 45.67 L52.86 45.45 L53.83 45.24 L54.81 45.04 L55.79 44.85 L56.77 44.67 L57.76 44.5 L58.74 44.33 L59.72 44.17 L60.71 44.02 L61.69 43.88 L62.68 43.75 L63.67 43.63 L64.65 43.51 L65.64 43.4 L66.63 43.3 L67.62 43.2 L68.62 43.11 L69.61 43.04 L70.6 42.96 L71.59 42.9 L72.59 42.84 L73.58 42.79 L74.58 42.75 L75.57 42.71 L76.57 42.68 L77.56 42.66 L78.56 42.64 L79.56 42.64 L80.55 42.63 L81.55 42.64 L82.55 42.65 L83.54 42.67 L84.54 42.69 L85.54 42.72 L86.54 42.76 L87.54 42.8 L88.54 42.85 L89.53 42.9 L90.53 42.96 L91.53 43.03 L92.53 43.1 L93.53 43.18 L94.52 43.26 L95.52 43.35 L96.52 43.45 L97.52 43.55 L98.51 43.65 L99.51 43.76 L100.51 43.88 L101.5 44 L102.5 44.12 L103.49 44.25 L104.49 44.39 L105.48 44.53 L106.48 44.67 L107.47 44.82 L108.46 44.98 L109.45 45.14 L110.44 45.3 L111.43 45.47 L112.42 45.64 L113.41 45.82 L114.4 46 L115.39 46.18 L116.38 46.37 L117.36 46.57 L118.35 46.77 L119.33 46.97 L120.32 47.18 L121.3 47.39 L122.28 47.6 L123.26 47.82 L124.24 48.05 L125.22 48.28 L126.2 48.51 L127.18 48.74 L128.16 48.99 L129.13 49.23 L130.11 49.48 L131.08 49.73 L132.05 49.99 L133.03 50.25 L134 50.52 L134.97 50.78 L135.94 51.06 L136.9 51.33 L137.87 51.62 L138.84 51.9 L139.8 52.19 L140.77 52.48 L141.73 52.78 L142.69 53.08 L143.65 53.38 L144.61 53.69 L145.57 54 L146.52 54.32 L147.48 54.64 L148.43 54.96 L149.39 55.29 L150.34 55.62 L151.29 55.95 L152.24 56.29 L153.19 56.63 L154.13 56.98 L155.08 57.32 L156.02 57.68 L156.96 58.03 L157.91 58.39 L158.85 58.75 L159.78 59.12 L160.72 59.49 L161.66 59.86 L162.59 60.24 L163.52 60.62 L164.45 61 L165.38 61.39 L166.31 61.78 L167.24 62.17 L168.16 62.57 L169.09 62.97 L170.01 63.37 L170.93 63.78 L171.85 64.19 L172.77 64.6 L173.68 65.02 L174.6 65.44 L175.51 65.86 L176.42 66.29 L177.33 66.72 L178.24 67.15 L179.14 67.58 L180.05 68.02 L180.95 68.46 L181.85 68.91 L182.75 69.35 L183.64 69.81 L184.54 70.26 L185.43 70.71 L186.32 71.17 L187.21 71.64 L188.1 72.1 L188.99 72.57 L189.87 73.04 L190.75 73.51 L191.63 73.99 L192.51 74.47 L193.39 74.95 L194.26 75.43 L195.13 75.92 L196 76.41 L196.87 76.91 L197.74 77.4 L198.6 77.9 L199.47 78.4 L200.33 78.9 L201.18 79.41 L202.04 79.92 L202.9 80.43 L203.75 80.94 L204.6 81.46 L205.44 81.98 L206.29 82.5 L207.13 83.02 L207.97 83.55 L208.81 84.08 L209.65 84.61 L210.48 85.14 L211.32 85.68 L212.15 86.22 L212.97 86.76 L213.8 87.3" fill="none" stroke="#111" stroke-width="1.25"/>
<path d="M37.4 50.2 L38.34 49.81 L39.29 49.43 L40.24 49.07 L41.19 48.71 L42.15 48.37 L43.11 48.03 L44.07 47.71 L45.03 47.4 L46 47.1 L46.97 46.81 L47.94 46.53 L48.92 46.26 L49.9 46 L50.88 45.75 L51.86 45.51 L52.84 45.28 L53.83 45.06 L54.82 44.86 L55.81 44.66 L56.8 44.47 L57.8 44.29 L58.79 44.12 L59.79 43.96 L60.79 43.81 L61.79 43.67 L62.79 43.54 L63.79 43.42 L64.8 43.31 L65.8 43.2 L66.81 43.11 L67.82 43.02 L68.82 42.95 L69.83 42.88 L70.84 42.82 L71.85 42.77 L72.87 42.73 L73.88 42.69 L74.89 42.67 L75.9 42.65 L76.91 42.65 L77.93 42.65 L78.94 42.65 L79.95 42.67 L80.97 42.69 L81.98 42.73 L82.99 42.77 L84.01 42.81 L85.02 42.87 L86.03 42.93 L87.04 43 L88.05 43.08 L89.06 43.17 L90.07 43.26 L91.08 43.36 L92.09 43.47 L93.09 43.58 L94.1 43.7" fill="none" stroke="#111" stroke-width="1.8"/>
<path d="M94.1 43.4 L95.07 43.65 L96.04 43.9 L97.01 44.15 L97.98 44.39 L98.95 44.64 L99.92 44.89 L100.89 45.14 L101.87 45.39 L102.84 45.64 L103.81 45.89 L104.79 46.15 L105.76 46.4 L106.73 46.65 L107.71 46.91 L108.68 47.16 L109.66 47.42 L110.63 47.67 L111.6 47.93 L112.58 48.19 L113.55 48.45 L114.53 48.71 L115.5 48.98 L116.47 49.24 L117.45 49.51 L118.42 49.78 L119.39 50.05 L120.36 50.32 L121.33 50.59 L122.3 50.87 L123.27 51.14 L124.24 51.42 L125.21 51.7 L126.18 51.99 L127.14 52.27 L128.11 52.56 L129.08 52.85 L130.04 53.14 L131 53.44 L131.97 53.74 L132.93 54.04 L133.89 54.34 L134.85 54.65 L135.81 54.96 L136.76 55.27 L137.72 55.59 L138.67 55.9 L139.63 56.23 L140.58 56.55 L141.53 56.88 L142.48 57.21 L143.42 57.55 L144.37 57.88 L145.31 58.23 L146.25 58.57 L147.19 58.92 L148.13 59.28 L149.07 59.63 L150 59.99 L150.94 60.36 L151.87 60.73 L152.8 61.1 L153.72 61.48 L154.65 61.86 L155.57 62.25 L156.49 62.64 L157.41 63.04 L158.33 63.44 L159.24 63.84 L160.15 64.25 L161.06 64.66 L161.97 65.08 L162.87 65.51 L163.77 65.94 L164.67 66.37 L165.57 66.81 L166.46 67.26 L167.35 67.71 L168.24 68.16 L169.13 68.62 L170.01 69.09 L170.89 69.56 L171.77 70.04 L172.64 70.52 L173.51 71.01 L174.38 71.5 L175.24 72 L176.11 72.51 L176.96 73.02 L177.82 73.54 L178.67 74.07 L179.52 74.6 L180.36 75.14 L181.21 75.68 L182.04 76.23 L182.88 76.79 L183.71 77.35 L184.54 77.92 L185.36 78.5 L186.18 79.09 L187 79.68 L187.81 80.27 L188.62 80.88 L189.43 81.49 L190.23 82.11 L191.03 82.73 L191.82 83.36 L192.61 84 L193.4 84.65 L194.18 85.3 L194.96 85.96 L195.73 86.63 L196.5 87.3" fill="none" stroke="#111" stroke-width="1.25"/>
<line x1="196.5" y1="87.4" x2="213.8" y2="87.4" stroke="#111" stroke-width="1.25"/>
<path d="M213.6 87.5 L214.58 87.7 L215.57 87.89 L216.55 88.09 L217.53 88.29 L218.52 88.49 L219.5 88.68 L220.49 88.88 L221.47 89.08 L222.45 89.29 L223.44 89.49 L224.42 89.69 L225.4 89.9 L226.39 90.1 L227.37 90.31 L228.35 90.52 L229.34 90.73 L230.32 90.94 L231.3 91.15 L232.28 91.37 L233.26 91.59 L234.24 91.81 L235.22 92.03 L236.2 92.25 L237.18 92.48 L238.16 92.71 L239.13 92.94 L240.11 93.17 L241.09 93.41 L242.06 93.65 L243.03 93.89 L244.01 94.14 L244.98 94.39 L245.95 94.64 L246.92 94.89 L247.89 95.15 L248.85 95.42 L249.82 95.68 L250.78 95.95 L251.75 96.22 L252.71 96.5 L253.67 96.78 L254.63 97.06 L255.59 97.35 L256.55 97.65 L257.5 97.94 L258.45 98.25 L259.41 98.55 L260.36 98.86 L261.3 99.18 L262.25 99.5 L263.2 99.82 L264.14 100.15 L265.08 100.49 L266.02 100.83 L266.96 101.17 L267.9 101.52 L268.83 101.87 L269.77 102.22 L270.7 102.58 L271.64 102.93 L272.57 103.28 L273.51 103.64 L274.44 103.99 L275.38 104.34 L276.32 104.68 L277.26 105.02 L278.2 105.36 L279.14 105.69 L280.09 106.01 L281.04 106.33 L281.99 106.64 L282.95 106.95 L283.91 107.24 L284.87 107.53 L285.83 107.81 L286.8 108.09 L287.77 108.37 L288.74 108.63 L289.71 108.9 L290.68 109.16 L291.65 109.42 L292.62 109.67 L293.6 109.93 L294.57 110.18 L295.55 110.43 L296.52 110.69 L297.5 110.94 L298.47 111.19 L299.44 111.44 L300.41 111.7 L301.38 111.96 L302.35 112.22 L303.32 112.49 L304.28 112.75 L305.25 113.03 L306.21 113.31 L307.16 113.59 L308.12 113.88 L309.07 114.17 L310.02 114.48 L310.96 114.79 L311.9 115.11 L312.84 115.43 L313.77 115.77 L314.7 116.12 L315.62 116.47 L316.54 116.84 L317.45 117.22 L318.36 117.61 L319.26 118.01 L320.16 118.42 L321.05 118.85 L321.93 119.29 L322.81 119.75 L323.68 120.22 L324.55 120.7 L325.41 121.19 L326.26 121.69 L327.11 122.21 L327.95 122.74 L328.78 123.28 L329.61 123.83 L330.43 124.39 L331.25 124.97 L332.06 125.55 L332.86 126.15 L333.66 126.75 L334.45 127.37 L335.24 127.99 L336.01 128.62 L336.79 129.27 L337.55 129.92 L338.31 130.58 L339.07 131.25 L339.82 131.92 L340.56 132.61 L341.3 133.3 L342.03 134 L342.75 134.71 L343.47 135.43 L344.18 136.15 L344.88 136.88 L345.57 137.62 L346.26 138.37 L346.94 139.12 L347.62 139.88 L348.28 140.64 L348.94 141.41 L349.59 142.19 L350.23 142.98 L350.87 143.77 L351.49 144.57 L352.11 145.37 L352.72 146.18 L353.31 147 L353.9 147.82 L354.48 148.65 L355.05 149.49 L355.62 150.33 L356.17 151.17 L356.71 152.02 L357.24 152.88 L357.76 153.74 L358.27 154.6 L358.77 155.47 L359.26 156.35 L359.74 157.23 L360.2 158.11 L360.66 159 L361.1 159.9 L361.54 160.8 L361.96 161.7 L362.37 162.61 L362.76 163.52 L363.15 164.43 L363.53 165.35 L363.89 166.27 L364.24 167.2 L364.58 168.13 L364.92 169.06 L365.24 170 L365.55 170.94 L365.85 171.88 L366.14 172.83 L366.42 173.78 L366.69 174.74 L366.96 175.69 L367.21 176.65 L367.45 177.61 L367.69 178.58 L367.92 179.55 L368.13 180.52 L368.34 181.49 L368.54 182.47 L368.74 183.45 L368.92 184.43 L369.1 185.41 L369.27 186.4 L369.43 187.38 L369.59 188.37 L369.74 189.36 L369.88 190.36 L370.01 191.35 L370.14 192.35 L370.26 193.35 L370.38 194.35 L370.48 195.35 L370.59 196.35 L370.69 197.36 L370.78 198.36 L370.86 199.37 L370.94 200.38 L371.02 201.39 L371.09 202.4 L371.16 203.41 L371.22 204.42 L371.28 205.43 L371.33 206.45 L371.38 207.46 L371.42 208.47 L371.47 209.49 L371.5 210.5 L371.54 211.52 L371.57 212.53 L371.6 213.55 L371.62 214.57 L371.64 215.58 L371.66 216.6 L371.68 217.61 L371.7 218.63 L371.71 219.64 L371.72 220.66 L371.73 221.67 L371.74 222.68 L371.74 223.7 L371.75 224.71 L371.75 225.72 L371.76 226.73 L371.76 227.74 L371.76 228.75 L371.76 229.75 L371.76 230.76 L371.76 231.76 L371.76 232.77 L371.77 233.77 L371.77 234.77 L371.77 235.77 L371.77 236.77 L371.78 237.76 L371.78 238.75 L371.79 239.75 L371.79 240.73 L371.8 241.72 L371.81 242.71 L371.83 243.69 L371.84 244.67 L371.86 245.65 L371.88 246.63 L371.9 247.6" fill="none" stroke="#111" stroke-width="1.25"/>
<path d="M213.6 87.5 L214.55 87.83 L215.49 88.16 L216.44 88.49 L217.39 88.81 L218.34 89.13 L219.29 89.45 L220.25 89.76 L221.2 90.08 L222.15 90.39 L223.11 90.7 L224.06 91.01 L225.02 91.32 L225.97 91.62 L226.93 91.93 L227.89 92.23 L228.84 92.54 L229.8 92.84 L230.76 93.14 L231.72 93.44 L232.67 93.75 L233.63 94.05 L234.59 94.35 L235.55 94.65 L236.51 94.95 L237.46 95.26 L238.42 95.56 L239.38 95.87 L240.33 96.17 L241.29 96.48 L242.24 96.79 L243.2 97.1 L244.15 97.41 L245.11 97.72 L246.06 98.03 L247.01 98.35 L247.96 98.67 L248.92 98.99 L249.86 99.32 L250.81 99.64 L251.76 99.97 L252.71 100.31 L253.65 100.64 L254.6 100.98 L255.54 101.32 L256.48 101.67 L257.42 102.02 L258.36 102.37 L259.3 102.73 L260.23 103.09 L261.16 103.46 L262.1 103.83 L263.03 104.21 L263.96 104.59 L264.88 104.97 L265.81 105.36 L266.73 105.76 L267.65 106.16 L268.57 106.57 L269.49 106.98 L270.4 107.4" fill="none" stroke="#111" stroke-width="1.25"/>
<path d="M196.5 87.4 L196.16 88.34 L195.81 89.28 L195.45 90.21 L195.07 91.14 L194.69 92.06 L194.3 92.98 L193.9 93.9 L193.49 94.82 L193.08 95.74 L192.66 96.65 L192.24 97.57 L191.81 98.48 L191.39 99.39 L190.96 100.3 L190.53 101.21 L190.11 102.13 L189.69 103.04 L189.27 103.95 L188.85 104.87 L188.44 105.79 L188.04 106.71 L187.64 107.63 L187.25 108.55 L186.88 109.48 L186.51 110.41 L186.15 111.35 L185.81 112.29 L185.47 113.23 L185.16 114.18 L184.85 115.13 L184.57 116.09 L184.3 117.05 L184.05 118.02 L183.82 119 L183.61 119.98 L183.42 120.97 L183.26 121.96 L183.11 122.97 L182.99 123.98 L182.9 125" fill="none" stroke="#111" stroke-width="1.25"/>
<path d="M208.8 87.5 L208.6 88.48 L208.4 89.47 L208.2 90.45 L208 91.44 L207.8 92.43 L207.6 93.41 L207.41 94.4 L207.21 95.38 L207.02 96.37 L206.83 97.36 L206.64 98.34 L206.45 99.33 L206.26 100.32 L206.08 101.3 L205.89 102.29 L205.71 103.28 L205.53 104.27 L205.35 105.25 L205.17 106.24 L204.99 107.23 L204.82 108.22 L204.65 109.21 L204.48 110.2 L204.31 111.19 L204.14 112.17 L203.97 113.16 L203.81 114.15 L203.65 115.14 L203.49 116.13 L203.33 117.12 L203.17 118.11 L203.02 119.11 L202.87 120.1 L202.72 121.09 L202.57 122.08 L202.42 123.07 L202.28 124.06 L202.14 125.05 L202 126.05 L201.86 127.04 L201.73 128.03 L201.59 129.02 L201.46 130.02 L201.34 131.01 L201.21 132 L201.09 133 L200.97 133.99 L200.85 134.99 L200.73 135.98 L200.62 136.97 L200.51 137.97 L200.4 138.96 L200.3 139.96 L200.2 140.95 L200.1 141.95 L200 142.95 L199.9 143.94 L199.81 144.94 L199.72 145.93 L199.64 146.93 L199.56 147.93 L199.47 148.92 L199.4 149.92 L199.32 150.92 L199.25 151.92 L199.18 152.92 L199.12 153.91 L199.06 154.91 L199 155.91 L198.94 156.91 L198.89 157.91 L198.84 158.91 L198.79 159.91 L198.75 160.91 L198.7 161.91 L198.67 162.91 L198.63 163.91 L198.6 164.91 L198.57 165.91 L198.54 166.91 L198.51 167.91 L198.49 168.91 L198.47 169.91 L198.45 170.92 L198.44 171.92 L198.42 172.92 L198.41 173.92 L198.4 174.92 L198.4 175.93 L198.39 176.93 L198.39 177.93 L198.39 178.94 L198.39 179.94 L198.39 180.94 L198.4 181.95 L198.4 182.95 L198.41 183.95 L198.42 184.96 L198.43 185.96 L198.45 186.96 L198.46 187.97 L198.48 188.97 L198.5 189.98 L198.52 190.98 L198.54 191.98 L198.56 192.99 L198.58 193.99 L198.61 195 L198.63 196 L198.66 197.01 L198.69 198.01 L198.71 199.02 L198.74 200.02 L198.77 201.03 L198.8 202.03 L198.84 203.04 L198.87 204.04 L198.9 205.05 L198.94 206.05 L198.97 207.06 L199.01 208.07 L199.04 209.07 L199.08 210.08 L199.11 211.08 L199.15 212.09 L199.19 213.09 L199.22 214.1 L199.26 215.1 L199.3 216.11 L199.33 217.11 L199.37 218.12 L199.41 219.13 L199.45 220.13 L199.48 221.14 L199.52 222.14 L199.56 223.15 L199.59 224.15 L199.63 225.16 L199.66 226.16 L199.7 227.17 L199.73 228.17 L199.77 229.18 L199.8 230.19 L199.83 231.19 L199.87 232.2 L199.9 233.2 L199.93 234.21 L199.96 235.21 L199.99 236.21 L200.01 237.22 L200.04 238.22 L200.07 239.23 L200.09 240.23 L200.11 241.24 L200.14 242.24 L200.16 243.25 L200.18 244.25 L200.19 245.25 L200.21 246.26 L200.23 247.26 L200.24 248.27 L200.25 249.27 L200.26 250.27 L200.27 251.28 L200.28 252.28 L200.29 253.28 L200.29 254.28 L200.29 255.29 L200.29 256.29 L200.29 257.29 L200.28 258.29 L200.28 259.3 L200.27 260.3 L200.26 261.3 L200.25 262.3 L200.23 263.3 L200.21 264.3 L200.2 265.31 L200.17 266.31 L200.15 267.31 L200.12 268.31 L200.09 269.31 L200.06 270.31 L200.02 271.31 L199.99 272.31 L199.95 273.31 L199.9 274.31 L199.86 275.3 L199.81 276.3 L199.76 277.3 L199.7 278.3" fill="none" stroke="#111" stroke-width="1.25"/>
<line x1="182.7" y1="125" x2="201.8" y2="125" stroke="#111" stroke-width="1.25"/>
<line x1="170.2" y1="156.6" x2="198.7" y2="156.6" stroke="#111" stroke-width="1.25"/>
<path d="M35.6 203.2 L36.38 202.57 L37.15 201.95 L37.93 201.32 L38.71 200.7 L39.49 200.08 L40.27 199.46 L41.06 198.84 L41.84 198.23 L42.63 197.61 L43.42 197 L44.21 196.39 L45 195.78 L45.79 195.17 L46.59 194.57 L47.38 193.96 L48.18 193.36 L48.98 192.76 L49.78 192.16 L50.58 191.56 L51.38 190.97 L52.19 190.37 L52.99 189.78 L53.8 189.19 L54.61 188.6 L55.42 188.01 L56.23 187.43 L57.04 186.84 L57.86 186.26 L58.67 185.68 L59.49 185.1 L60.31 184.53 L61.13 183.95 L61.95 183.38 L62.77 182.81 L63.59 182.24 L64.42 181.67 L65.24 181.11 L66.07 180.54 L66.9 179.98 L67.73 179.42 L68.56 178.86 L69.39 178.31 L70.23 177.75 L71.06 177.2 L71.9 176.65 L72.74 176.1 L73.58 175.55 L74.42 175.01 L75.26 174.47 L76.1 173.93 L76.95 173.39 L77.79 172.85 L78.64 172.31 L79.49 171.78 L80.33 171.25 L81.18 170.72 L82.04 170.19 L82.89 169.67 L83.74 169.14 L84.6 168.62 L85.45 168.1 L86.31 167.58 L87.17 167.07 L88.03 166.55 L88.89 166.04 L89.75 165.53 L90.62 165.02 L91.48 164.52 L92.35 164.01 L93.22 163.51 L94.08 163.01 L94.95 162.51 L95.82 162.02 L96.69 161.53 L97.57 161.03 L98.44 160.54 L99.32 160.06 L100.19 159.57 L101.07 159.09 L101.95 158.61 L102.83 158.13 L103.71 157.65 L104.59 157.18 L105.47 156.7 L106.36 156.23 L107.24 155.76 L108.13 155.3 L109.02 154.83 L109.9 154.37 L110.79 153.91 L111.68 153.45 L112.57 153 L113.47 152.55 L114.36 152.09 L115.25 151.64 L116.15 151.2 L117.05 150.75 L117.94 150.31 L118.84 149.87 L119.74 149.43 L120.64 149 L121.55 148.56 L122.45 148.13 L123.35 147.7 L124.26 147.28 L125.16 146.85 L126.07 146.43 L126.98 146.01 L127.88 145.59 L128.79 145.17 L129.7 144.76 L130.62 144.35 L131.53 143.94 L132.44 143.54 L133.36 143.13 L134.27 142.73 L135.19 142.33 L136.11 141.93 L137.02 141.54 L137.94 141.15 L138.86 140.76 L139.78 140.37 L140.7 139.98 L141.63 139.6 L142.55 139.22 L143.48 138.84 L144.4 138.46 L145.33 138.09 L146.25 137.72 L147.18 137.35 L148.11 136.98 L149.04 136.62 L149.97 136.26 L150.9 135.9 L151.83 135.54 L152.77 135.19 L153.7 134.84 L154.64 134.49 L155.57 134.14 L156.51 133.79 L157.45 133.45 L158.38 133.11 L159.32 132.78 L160.26 132.44 L161.2 132.11 L162.14 131.78 L163.09 131.45 L164.03 131.13 L164.97 130.8 L165.92 130.49 L166.86 130.17 L167.81 129.85 L168.75 129.54 L169.7 129.23 L170.65 128.92 L171.6 128.62 L172.55 128.32 L173.5 128.02 L174.45 127.72 L175.4 127.43 L176.35 127.14 L177.31 126.85 L178.26 126.56 L179.22 126.28 L180.17 126 L181.13 125.72 L182.08 125.44 L183.04 125.17 L184 124.9" fill="none" stroke="#111" stroke-width="1.25"/>
<path d="M35.6 203.2 L36.43 202.63 L37.26 202.07 L38.1 201.51 L38.93 200.95 L39.77 200.39 L40.6 199.83 L41.44 199.27 L42.28 198.71 L43.12 198.16 L43.96 197.6 L44.8 197.05 L45.64 196.5 L46.48 195.95 L47.32 195.4 L48.16 194.86 L49.01 194.31 L49.85 193.77 L50.7 193.22 L51.54 192.68 L52.39 192.14 L53.24 191.6 L54.09 191.06 L54.94 190.53 L55.79 189.99 L56.64 189.46 L57.49 188.92 L58.34 188.39 L59.2 187.86 L60.05 187.33 L60.91 186.8 L61.76 186.28 L62.62 185.75 L63.47 185.23 L64.33 184.71 L65.19 184.18 L66.05 183.66 L66.91 183.15 L67.77 182.63 L68.63 182.11 L69.49 181.6 L70.36 181.08 L71.22 180.57 L72.09 180.06 L72.95 179.55 L73.82 179.04 L74.68 178.53 L75.55 178.03 L76.42 177.52 L77.29 177.02 L78.16 176.52 L79.03 176.01 L79.9 175.51 L80.77 175.02 L81.64 174.52 L82.51 174.02 L83.39 173.53 L84.26 173.03 L85.14 172.54 L86.01 172.05 L86.89 171.56 L87.77 171.07 L88.64 170.58 L89.52 170.1 L90.4 169.61 L91.28 169.13 L92.16 168.64 L93.04 168.16 L93.92 167.68 L94.81 167.2 L95.69 166.73 L96.57 166.25 L97.46 165.77 L98.34 165.3 L99.23 164.83 L100.12 164.36 L101 163.88 L101.89 163.42 L102.78 162.95 L103.67 162.48 L104.56 162.01 L105.45 161.55 L106.34 161.09 L107.23 160.62 L108.12 160.16 L109.01 159.7 L109.91 159.25 L110.8 158.79 L111.7 158.33 L112.59 157.88 L113.49 157.42 L114.38 156.97 L115.28 156.52 L116.18 156.07 L117.08 155.62 L117.98 155.17 L118.88 154.73 L119.78 154.28 L120.68 153.84 L121.58 153.39 L122.48 152.95 L123.38 152.51 L124.28 152.07 L125.19 151.63 L126.09 151.19 L127 150.76 L127.9 150.32 L128.81 149.89 L129.72 149.46 L130.62 149.03 L131.53 148.6 L132.44 148.17 L133.35 147.74 L134.26 147.31 L135.17 146.89 L136.08 146.46 L136.99 146.04 L137.9 145.62 L138.81 145.19 L139.72 144.77 L140.64 144.36 L141.55 143.94 L142.47 143.52 L143.38 143.11 L144.3 142.69 L145.21 142.28 L146.13 141.87 L147.04 141.46 L147.96 141.05 L148.88 140.64 L149.8 140.23 L150.72 139.82 L151.64 139.42 L152.56 139.01 L153.48 138.61 L154.4 138.21 L155.32 137.81 L156.24 137.41 L157.16 137.01 L158.09 136.61 L159.01 136.22 L159.94 135.82 L160.86 135.43 L161.78 135.03 L162.71 134.64 L163.64 134.25 L164.56 133.86 L165.49 133.47 L166.42 133.09 L167.35 132.7 L168.27 132.31 L169.2 131.93 L170.13 131.55 L171.06 131.16 L171.99 130.78 L172.92 130.4 L173.85 130.02 L174.79 129.65 L175.72 129.27 L176.65 128.9 L177.58 128.52 L178.52 128.15 L179.45 127.78 L180.38 127.4 L181.32 127.03 L182.25 126.66 L183.19 126.3 L184.13 125.93 L185.06 125.56 L186 125.2" fill="none" stroke="#111" stroke-width="1.25"/>
<path d="M130.4 149.7 L129.58 150.28 L128.76 150.87 L127.95 151.46 L127.16 152.07 L126.36 152.68 L125.58 153.31 L124.81 153.94 L124.04 154.58 L123.28 155.23 L122.53 155.89 L121.79 156.55 L121.06 157.22 L120.33 157.9 L119.61 158.59 L118.9 159.29 L118.19 159.99 L117.5 160.7 L116.81 161.42 L116.12 162.15 L115.45 162.88 L114.78 163.62 L114.12 164.36 L113.47 165.12 L112.82 165.87 L112.18 166.64 L111.55 167.41 L110.92 168.19 L110.3 168.97 L109.69 169.76 L109.09 170.55 L108.49 171.35 L107.9 172.16 L107.31 172.97 L106.73 173.78 L106.16 174.6 L105.59 175.43 L105.03 176.26 L104.48 177.09 L103.93 177.93 L103.39 178.77 L102.86 179.62 L102.33 180.47 L101.8 181.33 L101.29 182.18 L100.78 183.05 L100.27 183.91 L99.77 184.78 L99.28 185.66 L98.79 186.53 L98.3 187.41 L97.83 188.29 L97.35 189.18 L96.89 190.06 L96.42 190.95 L95.97 191.84 L95.52 192.74 L95.07 193.63 L94.63 194.53 L94.19 195.43 L93.76 196.34 L93.34 197.24 L92.92 198.15 L92.5 199.06 L92.09 199.97 L91.69 200.89 L91.29 201.8 L90.89 202.72 L90.5 203.64 L90.12 204.56 L89.73 205.49 L89.36 206.41 L88.99 207.34 L88.62 208.27 L88.26 209.2 L87.9 210.14 L87.55 211.07 L87.2 212.01 L86.86 212.95 L86.52 213.89 L86.19 214.83 L85.86 215.77 L85.54 216.72 L85.22 217.66 L84.9 218.61 L84.59 219.56 L84.29 220.51 L83.98 221.46 L83.69 222.42 L83.39 223.37 L83.11 224.33 L82.82 225.29 L82.54 226.25 L82.27 227.21 L81.99 228.17 L81.73 229.13 L81.46 230.1 L81.21 231.06 L80.95 232.03 L80.7 232.99 L80.45 233.96 L80.21 234.93 L79.97 235.9 L79.74 236.87 L79.51 237.84 L79.28 238.82 L79.06 239.79 L78.84 240.77 L78.62 241.74 L78.41 242.72 L78.2 243.7 L77.99 244.67 L77.79 245.65 L77.59 246.63 L77.39 247.61 L77.2 248.59 L77.01 249.57 L76.82 250.56 L76.63 251.54 L76.45 252.52 L76.27 253.5 L76.09 254.49 L75.91 255.47 L75.73 256.46 L75.56 257.44 L75.39 258.43 L75.22 259.42 L75.05 260.4 L74.89 261.39 L74.72 262.38 L74.56 263.37 L74.39 264.35 L74.23 265.34 L74.07 266.33 L73.91 267.32 L73.75 268.31 L73.6 269.3 L73.44 270.29 L73.28 271.27 L73.13 272.26 L72.97 273.25 L72.82 274.24 L72.66 275.23 L72.51 276.22 L72.35 277.21 L72.2 278.2" fill="none" stroke="#111" stroke-width="1.25"/>
<path d="M143.5 146.3 L142.41 146.44 L141.35 146.62 L140.32 146.83 L139.32 147.09 L138.35 147.38 L137.4 147.71 L136.49 148.07 L135.59 148.47 L134.73 148.9 L133.89 149.36 L133.07 149.86 L132.28 150.38 L131.51 150.93 L130.77 151.51 L130.05 152.12 L129.35 152.75 L128.67 153.41 L128.01 154.09 L127.38 154.8 L126.76 155.52 L126.16 156.27 L125.59 157.04 L125.03 157.82 L124.49 158.63 L123.96 159.45 L123.46 160.29 L122.97 161.14 L122.49 162.01 L122.03 162.89 L121.59 163.78 L121.15 164.68 L120.74 165.59 L120.33 166.51 L119.94 167.44 L119.56 168.38 L119.19 169.32 L118.84 170.27 L118.49 171.22 L118.15 172.18 L117.82 173.14 L117.51 174.09 L117.2 175.06 L116.9 176.02 L116.61 176.99 L116.32 177.95 L116.05 178.92 L115.78 179.89 L115.53 180.87 L115.28 181.84 L115.04 182.82 L114.81 183.8 L114.58 184.78 L114.36 185.76 L114.15 186.75 L113.95 187.73 L113.76 188.72 L113.57 189.71 L113.39 190.7 L113.22 191.69 L113.05 192.69 L112.89 193.68 L112.74 194.68 L112.59 195.68 L112.45 196.67 L112.32 197.67 L112.19 198.68 L112.07 199.68 L111.95 200.68 L111.84 201.69 L111.74 202.69 L111.64 203.7 L111.54 204.71 L111.46 205.72 L111.37 206.73 L111.29 207.74 L111.22 208.75 L111.15 209.76 L111.08 210.77 L111.02 211.79 L110.97 212.8 L110.92 213.81 L110.87 214.83 L110.82 215.85 L110.78 216.86 L110.75 217.88 L110.71 218.9 L110.68 219.91 L110.66 220.93 L110.63 221.95 L110.61 222.97 L110.6 223.99 L110.58 225 L110.57 226.02 L110.56 227.04 L110.55 228.06 L110.55 229.08 L110.55 230.1 L110.55 231.12 L110.55 232.14 L110.55 233.16 L110.55 234.17 L110.56 235.19 L110.57 236.21 L110.58 237.23 L110.59 238.25 L110.6 239.26 L110.61 240.28 L110.62 241.3 L110.63 242.31 L110.65 243.33 L110.66 244.34 L110.67 245.35 L110.69 246.37 L110.7 247.38 L110.71 248.39 L110.73 249.4 L110.74 250.41 L110.75 251.42 L110.76 252.43 L110.77 253.44 L110.78 254.44 L110.79 255.45 L110.8 256.45 L110.81 257.46 L110.81 258.46 L110.81 259.46 L110.81 260.46 L110.81 261.46 L110.81 262.45 L110.81 263.45 L110.8 264.44 L110.79 265.44 L110.78 266.43 L110.77 267.42 L110.75 268.41 L110.73 269.39 L110.71 270.38 L110.68 271.36 L110.65 272.35 L110.62 273.33 L110.58 274.3 L110.54 275.28 L110.5 276.26 L110.45 277.23 L110.4 278.2" fill="none" stroke="#111" stroke-width="1.25"/>
<path d="M143.5 146.3 L144.55 146.29 L145.58 146.33 L146.6 146.42 L147.61 146.56 L148.61 146.74 L149.59 146.96 L150.57 147.22 L151.53 147.52 L152.49 147.85 L153.44 148.21 L154.38 148.59 L155.31 149.01 L156.24 149.44 L157.16 149.89 L158.08 150.36 L158.99 150.84 L159.9 151.34 L160.8 151.84 L161.7 152.35 L162.6 152.86 L163.5 153.36 L164.4 153.87 L165.3 154.37 L166.19 154.87 L167.09 155.35 L167.99 155.82 L168.89 156.27 L169.8 156.7" fill="none" stroke="#111" stroke-width="1.4" stroke-dasharray="2.6 1.6"/>
<path d="M170.2 156.6 L170.72 155.74 L171.24 154.88 L171.75 154.01 L172.27 153.15 L172.78 152.28 L173.29 151.42 L173.8 150.55 L174.3 149.68 L174.81 148.81 L175.31 147.94 L175.81 147.06 L176.31 146.19 L176.81 145.32 L177.3 144.44 L177.8 143.57 L178.29 142.69 L178.79 141.81 L179.28 140.94 L179.77 140.06 L180.26 139.18 L180.75 138.3 L181.24 137.42 L181.73 136.55 L182.22 135.67 L182.71 134.79 L183.2 133.91 L183.68 133.03 L184.17 132.15 L184.66 131.27 L185.15 130.39 L185.64 129.51 L186.13 128.63 L186.62 127.76 L187.11 126.88 L187.6 126" fill="none" stroke="#111" stroke-width="1.4" stroke-dasharray="2.6 1.6"/>
<path d="M169.8 156.7 L169.4 157.62 L169.01 158.55 L168.63 159.48 L168.26 160.4 L167.89 161.34 L167.53 162.27 L167.18 163.21 L166.83 164.14 L166.49 165.08 L166.15 166.03 L165.82 166.97 L165.5 167.91 L165.19 168.86 L164.88 169.81 L164.58 170.76 L164.28 171.72 L163.99 172.67 L163.71 173.63 L163.43 174.59 L163.15 175.55 L162.89 176.51 L162.63 177.47 L162.37 178.44 L162.12 179.4 L161.88 180.37 L161.64 181.34 L161.4 182.31 L161.17 183.28 L160.95 184.26 L160.73 185.23 L160.52 186.21 L160.31 187.19 L160.11 188.17 L159.91 189.15 L159.71 190.13 L159.52 191.11 L159.34 192.1 L159.16 193.08 L158.98 194.07 L158.81 195.06 L158.64 196.05 L158.48 197.04 L158.32 198.03 L158.17 199.02 L158.02 200.01 L157.87 201.01 L157.73 202 L157.59 203 L157.45 203.99 L157.32 204.99 L157.19 205.99 L157.07 206.99 L156.94 207.99 L156.83 208.99 L156.71 209.99 L156.6 210.99 L156.49 212 L156.39 213 L156.28 214 L156.18 215.01 L156.09 216.01 L155.99 217.02 L155.9 218.02 L155.81 219.03 L155.73 220.04 L155.64 221.05 L155.56 222.05 L155.48 223.06 L155.41 224.07 L155.33 225.08 L155.26 226.09 L155.19 227.1 L155.12 228.11 L155.06 229.12 L154.99 230.12 L154.93 231.13 L154.87 232.14 L154.81 233.15 L154.75 234.16 L154.69 235.17 L154.64 236.18 L154.58 237.19 L154.53 238.2 L154.48 239.21 L154.43 240.22 L154.38 241.23 L154.33 242.24 L154.28 243.25 L154.24 244.26 L154.19 245.27 L154.15 246.27 L154.1 247.28 L154.06 248.29 L154.01 249.3 L153.97 250.3 L153.93 251.31 L153.88 252.31 L153.84 253.32 L153.8 254.32 L153.75 255.33 L153.71 256.33 L153.67 257.33 L153.62 258.34 L153.58 259.34 L153.54 260.34 L153.49 261.34 L153.45 262.34 L153.4 263.34 L153.36 264.33 L153.31 265.33 L153.26 266.33 L153.21 267.32 L153.16 268.32 L153.11 269.31 L153.06 270.3 L153.01 271.29 L152.95 272.28 L152.9 273.27 L152.84 274.26 L152.78 275.25 L152.72 276.23 L152.66 277.22 L152.6 278.2" fill="none" stroke="#111" stroke-width="1.4" stroke-dasharray="2.6 1.6"/>
<path d="M270.1 107.7 L269.38 108.43 L268.68 109.17 L268.02 109.94 L267.38 110.71 L266.77 111.5 L266.18 112.3 L265.61 113.12 L265.07 113.94 L264.54 114.78 L264.03 115.63 L263.53 116.48 L263.05 117.34 L262.59 118.21 L262.13 119.09 L261.68 119.97 L261.24 120.86 L260.81 121.75 L260.38 122.65 L259.95 123.54 L259.52 124.44 L259.1 125.34 L258.67 126.24 L258.24 127.14 L257.81 128.04 L257.37 128.94 L256.92 129.83 L256.47 130.72 L256 131.6 L255.53 132.49 L255.06 133.37 L254.58 134.25 L254.09 135.13 L253.6 136 L253.11 136.88 L252.62 137.75 L252.12 138.62 L251.62 139.5 L251.12 140.37 L250.62 141.24 L250.12 142.11 L249.62 142.98 L249.13 143.86 L248.63 144.73 L248.14 145.61 L247.65 146.48 L247.17 147.36 L246.69 148.24 L246.22 149.12 L245.75 150 L245.29 150.89 L244.84 151.78 L244.39 152.67 L243.95 153.57 L243.52 154.47 L243.09 155.37 L242.67 156.27 L242.26 157.17 L241.85 158.08 L241.45 158.99 L241.06 159.91 L240.67 160.82 L240.29 161.74 L239.92 162.66 L239.55 163.58 L239.19 164.51 L238.84 165.44 L238.49 166.37 L238.15 167.3 L237.81 168.23 L237.48 169.17 L237.16 170.11 L236.84 171.05 L236.53 171.99 L236.22 172.94 L235.92 173.89 L235.62 174.83 L235.33 175.79 L235.04 176.74 L234.76 177.69 L234.49 178.65 L234.22 179.61 L233.96 180.57 L233.7 181.53 L233.44 182.49 L233.2 183.46 L232.95 184.43 L232.71 185.4 L232.48 186.37 L232.25 187.34 L232.03 188.31 L231.81 189.29 L231.59 190.26 L231.38 191.24 L231.17 192.22 L230.97 193.2 L230.77 194.19 L230.58 195.17 L230.39 196.15 L230.21 197.14 L230.02 198.13 L229.85 199.12 L229.67 200.1 L229.51 201.1 L229.34 202.09 L229.18 203.08 L229.02 204.07 L228.87 205.07 L228.72 206.06 L228.57 207.06 L228.43 208.06 L228.29 209.06 L228.15 210.06 L228.02 211.06 L227.89 212.06 L227.76 213.06 L227.63 214.06 L227.51 215.07 L227.39 216.07 L227.28 217.07 L227.17 218.08 L227.06 219.08 L226.95 220.09 L226.85 221.1 L226.75 222.1 L226.65 223.11 L226.55 224.12 L226.46 225.13 L226.36 226.13 L226.27 227.14 L226.19 228.15 L226.1 229.16 L226.02 230.17 L225.94 231.18 L225.86 232.19 L225.78 233.2 L225.71 234.21 L225.63 235.22 L225.56 236.23 L225.49 237.24 L225.42 238.25 L225.36 239.26 L225.29 240.27 L225.23 241.28 L225.17 242.28 L225.1 243.29 L225.04 244.3 L224.99 245.31 L224.93 246.32 L224.87 247.32 L224.82 248.33 L224.76 249.34 L224.71 250.34 L224.65 251.35 L224.6 252.36 L224.55 253.36 L224.5 254.36 L224.45 255.37 L224.4 256.37 L224.35 257.37 L224.3 258.37 L224.25 259.37 L224.2 260.37 L224.15 261.37 L224.11 262.37 L224.06 263.37 L224.01 264.36 L223.96 265.36 L223.91 266.35 L223.86 267.35 L223.82 268.34 L223.77 269.33 L223.72 270.32 L223.67 271.31 L223.62 272.3 L223.57 273.29 L223.51 274.27 L223.46 275.26 L223.41 276.24 L223.35 277.22 L223.3 278.2" fill="none" stroke="#111" stroke-width="1.4" stroke-dasharray="2.6 1.6"/>
<path d="M270.4 107.4 L277.3 107.4" fill="none" stroke="#111" stroke-width="1.4" stroke-dasharray="2.6 1.6"/>
<path d="M277.3 107.4 L278.01 108.12 L278.67 108.88 L279.27 109.67 L279.83 110.5 L280.34 111.36 L280.79 112.26 L281.2 113.2" fill="none" stroke="#111" stroke-width="1.4" stroke-dasharray="2.6 1.6"/>
<path d="M281.2 113.3 L304.5 113.3" fill="none" stroke="#111" stroke-width="1.4" stroke-dasharray="2.6 1.6"/>
<path d="M276.4 108.2 L276.11 109.18 L275.84 110.17 L275.57 111.16 L275.32 112.16 L275.08 113.15 L274.86 114.15 L274.65 115.16 L274.45 116.16 L274.26 117.17 L274.09 118.18 L273.93 119.19 L273.78 120.2 L273.65 121.21 L273.53 122.23 L273.42 123.24 L273.33 124.26 L273.26 125.28 L273.2 126.3 L273.15 127.32 L273.12 128.34 L273.1 129.36 L273.1 130.38 L273.12 131.39 L273.15 132.41 L273.19 133.43 L273.25 134.45 L273.33 135.47 L273.43 136.48 L273.54 137.5 L273.66 138.51 L273.81 139.52 L273.97 140.53 L274.14 141.54 L274.34 142.54 L274.55 143.54 L274.78 144.54 L275.03 145.54 L275.29 146.54 L275.58 147.53 L275.88 148.52 L276.2 149.5" fill="none" stroke="#111" stroke-width="1.4" stroke-dasharray="2.2 1.4"/>
<path d="M280.6 113.8 L280.71 114.8 L280.79 115.8 L280.84 116.79 L280.86 117.79 L280.85 118.78 L280.81 119.77 L280.75 120.76 L280.67 121.75 L280.57 122.74 L280.45 123.73 L280.31 124.72 L280.16 125.71 L279.99 126.69 L279.81 127.68 L279.62 128.67 L279.43 129.65 L279.22 130.64 L279.02 131.63 L278.81 132.61 L278.6 133.6 L278.39 134.59 L278.18 135.57 L277.98 136.56 L277.79 137.55 L277.6 138.54 L277.42 139.53 L277.26 140.52 L277.1 141.51 L276.97 142.51 L276.85 143.5 L276.75 144.5 L276.67 145.5 L276.61 146.49 L276.58 147.49 L276.58 148.5 L276.6 149.5" fill="none" stroke="#111" stroke-width="1.4" stroke-dasharray="2.2 1.4"/>
<path d="M255.8 134.3 L272.4 134.3" fill="none" stroke="#111" stroke-width="1.4" stroke-dasharray="2.6 1.6"/>
<path d="M261.9 136.2 L261.79 137.2 L261.69 138.19 L261.58 139.19 L261.47 140.18 L261.36 141.18 L261.26 142.17 L261.15 143.17 L261.04 144.16 L260.94 145.16 L260.83 146.15 L260.73 147.15 L260.62 148.14 L260.52 149.14 L260.41 150.14 L260.31 151.13 L260.2 152.13 L260.1 153.12 L260 154.12 L259.89 155.12 L259.79 156.11 L259.69 157.11 L259.58 158.1 L259.48 159.1 L259.38 160.1 L259.28 161.09 L259.18 162.09 L259.08 163.08 L258.98 164.08 L258.88 165.08 L258.78 166.07 L258.68 167.07 L258.58 168.07 L258.48 169.06 L258.39 170.06 L258.29 171.06 L258.19 172.05 L258.1 173.05 L258 174.05 L257.91 175.05 L257.81 176.04 L257.72 177.04 L257.62 178.04 L257.53 179.03 L257.44 180.03 L257.35 181.03 L257.26 182.03 L257.17 183.02 L257.08 184.02 L256.99 185.02 L256.9 186.02 L256.81 187.01 L256.72 188.01 L256.63 189.01 L256.55 190.01 L256.46 191 L256.38 192 L256.29 193 L256.21 194 L256.13 195 L256.04 195.99 L255.96 196.99 L255.88 197.99 L255.8 198.99 L255.72 199.99 L255.64 200.99 L255.57 201.98 L255.49 202.98 L255.41 203.98 L255.34 204.98 L255.26 205.98 L255.19 206.98 L255.12 207.98 L255.04 208.97 L254.97 209.97 L254.9 210.97 L254.83 211.97 L254.76 212.97 L254.69 213.97 L254.63 214.97 L254.56 215.97 L254.5 216.97 L254.43 217.96 L254.37 218.96 L254.31 219.96 L254.24 220.96 L254.18 221.96 L254.12 222.96 L254.07 223.96 L254.01 224.96 L253.95 225.96 L253.89 226.96 L253.84 227.96 L253.79 228.96 L253.73 229.96 L253.68 230.96 L253.63 231.96 L253.58 232.96 L253.53 233.96 L253.49 234.96 L253.44 235.96 L253.39 236.96 L253.35 237.96 L253.31 238.96 L253.26 239.96 L253.22 240.96 L253.18 241.96 L253.15 242.96 L253.11 243.96 L253.07 244.96 L253.04 245.96 L253 246.96 L252.97 247.96 L252.94 248.96 L252.91 249.96 L252.88 250.96 L252.85 251.96 L252.82 252.96 L252.8 253.96 L252.78 254.97 L252.75 255.97 L252.73 256.97 L252.71 257.97 L252.69 258.97 L252.67 259.97 L252.66 260.97 L252.64 261.97 L252.63 262.97 L252.62 263.98 L252.61 264.98 L252.6 265.98 L252.59 266.98 L252.58 267.98 L252.58 268.98 L252.57 269.98 L252.57 270.99 L252.57 271.99 L252.57 272.99 L252.57 273.99 L252.57 274.99 L252.58 275.99 L252.58 277 L252.59 278 L252.6 279" fill="none" stroke="#111" stroke-width="1.35" stroke-dasharray="2.1 1.3"/>
<path d="M261.9 136.2 L265 151.8" fill="none" stroke="#111" stroke-width="1.4" stroke-dasharray="2.4 1.4"/>
<path d="M265 152.3 L289.2 152.3" fill="none" stroke="#111" stroke-width="1.4" stroke-dasharray="2.6 1.6"/>
<path d="M265 153 L264.86 153.99 L264.73 154.99 L264.59 155.98 L264.45 156.98 L264.32 157.98 L264.18 158.97 L264.04 159.97 L263.9 160.96 L263.77 161.96 L263.63 162.95 L263.49 163.95 L263.36 164.94 L263.22 165.94 L263.08 166.93 L262.95 167.93 L262.81 168.92 L262.68 169.92 L262.54 170.92 L262.4 171.91 L262.27 172.91 L262.13 173.9 L262 174.9 L261.87 175.9 L261.73 176.89 L261.6 177.89 L261.47 178.88 L261.33 179.88 L261.2 180.88 L261.07 181.87 L260.94 182.87 L260.81 183.87 L260.68 184.86 L260.55 185.86 L260.42 186.86 L260.3 187.85 L260.17 188.85 L260.04 189.85 L259.92 190.85 L259.8 191.84 L259.67 192.84 L259.55 193.84 L259.43 194.84 L259.31 195.83 L259.19 196.83 L259.07 197.83 L258.95 198.83 L258.83 199.82 L258.71 200.82 L258.6 201.82 L258.49 202.82 L258.37 203.82 L258.26 204.82 L258.15 205.81 L258.04 206.81 L257.93 207.81 L257.82 208.81 L257.72 209.81 L257.61 210.81 L257.51 211.81 L257.41 212.81 L257.31 213.8 L257.21 214.8 L257.11 215.8 L257.01 216.8 L256.92 217.8 L256.82 218.8 L256.73 219.8 L256.64 220.8 L256.55 221.8 L256.46 222.8 L256.38 223.8 L256.29 224.8 L256.21 225.8 L256.13 226.8 L256.05 227.8 L255.97 228.8 L255.89 229.81 L255.82 230.81 L255.75 231.81 L255.68 232.81 L255.61 233.81 L255.54 234.81 L255.47 235.81 L255.41 236.81 L255.35 237.82 L255.29 238.82 L255.23 239.82 L255.18 240.82 L255.12 241.82 L255.07 242.83 L255.02 243.83 L254.97 244.83 L254.93 245.83 L254.89 246.84 L254.85 247.84 L254.81 248.84 L254.77 249.85 L254.74 250.85 L254.71 251.85 L254.68 252.86 L254.65 253.86 L254.62 254.86 L254.6 255.87 L254.58 256.87 L254.56 257.88 L254.55 258.88 L254.54 259.89 L254.53 260.89 L254.52 261.9 L254.51 262.9 L254.51 263.91 L254.51 264.91 L254.51 265.92 L254.52 266.92 L254.53 267.93 L254.54 268.93 L254.55 269.94 L254.57 270.95 L254.59 271.95 L254.61 272.96 L254.63 273.96 L254.66 274.97 L254.69 275.98 L254.72 276.99 L254.76 277.99 L254.8 279" fill="none" stroke="#111" stroke-width="1.35" stroke-dasharray="2.1 1.3"/>
<path d="M289.8 113.3 L289.2 152 L288.7 211 L288.4 279.3" fill="none" stroke="#111" stroke-width="1.25"/>
<line x1="288.6" y1="247.3" x2="371" y2="247.8" stroke="#111" stroke-width="1.25"/>
<path d="M370.4 247.9 L371.8 258.8" fill="none" stroke="#111" stroke-width="0.9"/>
<path d="M254.2 259.5 L376.6 260.5" fill="none" stroke="#111" stroke-width="1.4" stroke-dasharray="2.6 1.6"/>
<line x1="294" y1="211.2" x2="305.8" y2="211.2" stroke="#111" stroke-width="0.9"/>
<path d="M290 211.2 L295 209.4 L295 213 Z" fill="#111"/>
<line x1="258.68" y1="263" x2="260.8" y2="263" stroke="#111" stroke-width="0.9"/>
<path d="M255.8 263 L259.4 261.5 L259.4 264.5 Z" fill="#111"/>
<line x1="292.64" y1="273.7" x2="295.3" y2="273.7" stroke="#111" stroke-width="0.9"/>
<path d="M289.6 273.7 L293.4 272.2 L293.4 275.2 Z" fill="#111"/>
<line x1="367.8" y1="274.1" x2="358.7" y2="274.1" stroke="#111" stroke-width="0.9"/>
<path d="M371.8 274.1 L366.8 272.4 L366.8 275.8 Z" fill="#111"/>
<path d="M462.4 140.8 L463.33 140.42 L464.25 140.05 L465.18 139.67 L466.11 139.3 L467.04 138.93 L467.97 138.55 L468.9 138.18 L469.83 137.81 L470.76 137.44 L471.68 137.07 L472.61 136.7 L473.54 136.33 L474.47 135.96 L475.4 135.6 L476.34 135.23 L477.27 134.86 L478.2 134.5 L479.13 134.13 L480.06 133.77 L480.99 133.4 L481.92 133.04 L482.86 132.67 L483.79 132.31 L484.72 131.95 L485.65 131.59 L486.59 131.23 L487.52 130.87 L488.45 130.51 L489.39 130.15 L490.32 129.79 L491.25 129.43 L492.19 129.08 L493.12 128.72 L494.06 128.36 L494.99 128.01 L495.93 127.65 L496.86 127.3 L497.8 126.94 L498.73 126.59 L499.67 126.24 L500.61 125.89 L501.54 125.53 L502.48 125.18 L503.41 124.83 L504.35 124.48 L505.29 124.13 L506.23 123.79 L507.16 123.44 L508.1 123.09 L509.04 122.74 L509.98 122.4 L510.92 122.05 L511.85 121.7 L512.79 121.36 L513.73 121.01 L514.67 120.67 L515.61 120.33 L516.55 119.98 L517.49 119.64 L518.43 119.3 L519.37 118.96 L520.31 118.62 L521.25 118.28 L522.19 117.94 L523.13 117.6 L524.07 117.26 L525.01 116.92 L525.95 116.58 L526.89 116.25 L527.84 115.91 L528.78 115.57 L529.72 115.24 L530.66 114.9 L531.6 114.57 L532.55 114.23 L533.49 113.9 L534.43 113.57 L535.37 113.23 L536.32 112.9 L537.26 112.57 L538.2 112.24 L539.15 111.91 L540.09 111.58 L541.04 111.25 L541.98 110.92 L542.92 110.59 L543.87 110.26 L544.81 109.93 L545.76 109.61 L546.7 109.28 L547.65 108.95 L548.59 108.63 L549.54 108.3 L550.49 107.98 L551.43 107.65 L552.38 107.33 L553.32 107 L554.27 106.68 L555.22 106.36 L556.16 106.04 L557.11 105.71 L558.06 105.39 L559 105.07 L559.95 104.75 L560.9 104.43 L561.85 104.11 L562.79 103.79 L563.74 103.48 L564.69 103.16 L565.64 102.84 L566.59 102.52 L567.54 102.21 L568.49 101.89 L569.43 101.57 L570.38 101.26 L571.33 100.94 L572.28 100.63 L573.23 100.32 L574.18 100 L575.13 99.69 L576.08 99.38 L577.03 99.06 L577.98 98.75 L578.93 98.44 L579.88 98.13 L580.83 97.82 L581.78 97.51 L582.73 97.2 L583.69 96.89 L584.64 96.58 L585.59 96.27 L586.54 95.96 L587.49 95.66 L588.44 95.35 L589.39 95.04 L590.35 94.73 L591.3 94.43 L592.25 94.12 L593.2 93.82 L594.16 93.51 L595.11 93.21 L596.06 92.9 L597.01 92.6 L597.97 92.3 L598.92 91.99 L599.87 91.69 L600.83 91.39 L601.78 91.09 L602.74 90.79 L603.69 90.48 L604.64 90.18 L605.6 89.88 L606.55 89.58 L607.51 89.28 L608.46 88.98 L609.42 88.69 L610.37 88.39 L611.33 88.09 L612.28 87.79 L613.24 87.49 L614.19 87.2 L615.15 86.9 L616.1 86.6 L617.06 86.31 L618.01 86.01 L618.97 85.72 L619.93 85.42 L620.88 85.13 L621.84 84.84 L622.79 84.54 L623.75 84.25 L624.71 83.96 L625.66 83.66 L626.62 83.37 L627.58 83.08 L628.53 82.79 L629.49 82.5 L630.45 82.2 L631.41 81.91 L632.36 81.62 L633.32 81.33 L634.28 81.04 L635.24 80.75 L636.19 80.47 L637.15 80.18 L638.11 79.89 L639.07 79.6 L640.03 79.31 L640.99 79.03 L641.94 78.74 L642.9 78.45 L643.86 78.17 L644.82 77.88 L645.78 77.59 L646.74 77.31 L647.7 77.02 L648.66 76.74 L649.61 76.45 L650.57 76.17 L651.53 75.89 L652.49 75.6 L653.45 75.32 L654.41 75.04 L655.37 74.75 L656.33 74.47 L657.29 74.19 L658.25 73.91 L659.21 73.63 L660.17 73.34 L661.13 73.06 L662.09 72.78 L663.05 72.5 L664.01 72.22 L664.98 71.94 L665.94 71.66 L666.9 71.38 L667.86 71.1 L668.82 70.83 L669.78 70.55 L670.74 70.27 L671.7 69.99 L672.66 69.71 L673.63 69.44 L674.59 69.16 L675.55 68.88 L676.51 68.61 L677.47 68.33 L678.43 68.05 L679.4 67.78 L680.36 67.5 L681.32 67.23 L682.28 66.95 L683.24 66.68 L684.21 66.4 L685.17 66.13 L686.13 65.85 L687.09 65.58 L688.06 65.31 L689.02 65.03 L689.98 64.76 L690.94 64.49 L691.91 64.21 L692.87 63.94 L693.83 63.67 L694.8 63.4 L695.76 63.13 L696.72 62.86 L697.69 62.58 L698.65 62.31 L699.61 62.04 L700.58 61.77 L701.54 61.5 L702.5 61.23 L703.47 60.96 L704.43 60.69 L705.39 60.42 L706.36 60.15 L707.32 59.88 L708.28 59.62 L709.25 59.35 L710.21 59.08 L711.18 58.81 L712.14 58.54 L713.1 58.27 L714.07 58.01 L715.03 57.74 L716 57.47 L716.96 57.21 L717.93 56.94 L718.89 56.67 L719.85 56.41 L720.82 56.14 L721.78 55.87 L722.75 55.61 L723.71 55.34 L724.68 55.08 L725.64 54.81 L726.61 54.55 L727.57 54.28 L728.54 54.02 L729.5 53.75 L730.47 53.49 L731.43 53.22 L732.4 52.96 L733.36 52.69 L734.33 52.43 L735.29 52.17 L736.26 51.9 L737.22 51.64 L738.19 51.38 L739.15 51.11 L740.12 50.85 L741.08 50.59 L742.05 50.33 L743.01 50.06 L743.98 49.8 L744.94 49.54 L745.91 49.28 L746.87 49.02 L747.84 48.75 L748.81 48.49 L749.77 48.23 L750.74 47.97 L751.7 47.71 L752.67 47.45 L753.63 47.19 L754.6 46.93 L755.57 46.67 L756.53 46.41 L757.5 46.15 L758.46 45.89 L759.43 45.63 L760.39 45.37 L761.36 45.11 L762.33 44.85 L763.29 44.59 L764.26 44.33 L765.22 44.07 L766.19 43.81 L767.16 43.55 L768.12 43.29 L769.09 43.03 L770.05 42.77 L771.02 42.52 L771.98 42.26 L772.95 42 L773.92 41.74 L774.88 41.48 L775.85 41.22 L776.81 40.97 L777.78 40.71 L778.75 40.45 L779.71 40.19 L780.68 39.94 L781.65 39.68 L782.61 39.42 L783.58 39.16 L784.54 38.91 L785.51 38.65 L786.48 38.39 L787.44 38.13 L788.41 37.88 L789.37 37.62 L790.34 37.36 L791.31 37.11 L792.27 36.85 L793.24 36.59 L794.2 36.34 L795.17 36.08 L796.14 35.82 L797.1 35.57 L798.07 35.31 L799.03 35.06 L800 34.8" fill="none" stroke="#111" stroke-width="1.2" stroke-dasharray="2.9 1.9"/>
<path d="M462.4 140.8 L463.4 140.67 L464.4 140.53 L465.4 140.4 L466.4 140.26 L467.4 140.13 L468.4 139.99 L469.4 139.85 L470.39 139.71 L471.39 139.56 L472.39 139.42 L473.38 139.27 L474.38 139.13 L475.38 138.98 L476.37 138.83 L477.37 138.67 L478.36 138.52 L479.36 138.37 L480.35 138.21 L481.34 138.05 L482.34 137.89 L483.33 137.73 L484.32 137.57 L485.31 137.41 L486.31 137.24 L487.3 137.08 L488.29 136.91 L489.28 136.74 L490.27 136.57 L491.26 136.4 L492.25 136.22 L493.24 136.05 L494.23 135.87 L495.21 135.69 L496.2 135.51 L497.19 135.33 L498.18 135.15 L499.16 134.97 L500.15 134.78 L501.14 134.6 L502.12 134.41 L503.11 134.22 L504.09 134.03 L505.08 133.84 L506.06 133.65 L507.05 133.46 L508.03 133.26 L509.01 133.06 L510 132.87 L510.98 132.67 L511.96 132.47 L512.94 132.27 L513.92 132.06 L514.9 131.86 L515.89 131.65 L516.87 131.45 L517.85 131.24 L518.83 131.03 L519.81 130.82 L520.78 130.61 L521.76 130.39 L522.74 130.18 L523.72 129.96 L524.7 129.75 L525.68 129.53 L526.65 129.31 L527.63 129.09 L528.61 128.87 L529.58 128.64 L530.56 128.42 L531.53 128.2 L532.51 127.97 L533.48 127.74 L534.46 127.51 L535.43 127.28 L536.41 127.05 L537.38 126.82 L538.35 126.59 L539.33 126.35 L540.3 126.11 L541.27 125.88 L542.24 125.64 L543.21 125.4 L544.19 125.16 L545.16 124.92 L546.13 124.68 L547.1 124.43 L548.07 124.19 L549.04 123.94 L550.01 123.69 L550.98 123.45 L551.95 123.2 L552.91 122.95 L553.88 122.69 L554.85 122.44 L555.82 122.19 L556.79 121.93 L557.75 121.68 L558.72 121.42 L559.69 121.16 L560.65 120.9 L561.62 120.64 L562.59 120.38 L563.55 120.12 L564.52 119.86 L565.48 119.59 L566.45 119.33 L567.41 119.06 L568.37 118.8 L569.34 118.53 L570.3 118.26 L571.26 117.99 L572.23 117.72 L573.19 117.45 L574.15 117.17 L575.11 116.9 L576.08 116.62 L577.04 116.35 L578 116.07 L578.96 115.79 L579.92 115.51 L580.88 115.23 L581.84 114.95 L582.8 114.67 L583.76 114.39 L584.72 114.1 L585.68 113.82 L586.64 113.53 L587.6 113.25 L588.56 112.96 L589.52 112.67 L590.47 112.38 L591.43 112.09 L592.39 111.8 L593.35 111.51 L594.3 111.22 L595.26 110.93 L596.22 110.63 L597.17 110.34 L598.13 110.04 L599.08 109.74 L600.04 109.45 L600.99 109.15 L601.95 108.85 L602.9 108.55 L603.86 108.25 L604.81 107.94 L605.77 107.64 L606.72 107.34 L607.67 107.03 L608.63 106.73 L609.58 106.42 L610.53 106.12 L611.49 105.81 L612.44 105.5 L613.39 105.19 L614.34 104.88 L615.3 104.57 L616.25 104.26 L617.2 103.95 L618.15 103.63 L619.1 103.32 L620.05 103.01 L621 102.69 L621.95 102.37 L622.9 102.06 L623.85 101.74 L624.8 101.42 L625.75 101.1 L626.7 100.78 L627.65 100.46 L628.6 100.14 L629.55 99.82 L630.5 99.5 L631.44 99.18 L632.39 98.85 L633.34 98.53 L634.29 98.2 L635.23 97.88 L636.18 97.55 L637.13 97.23 L638.08 96.9 L639.02 96.57 L639.97 96.24 L640.91 95.91 L641.86 95.58 L642.81 95.25 L643.75 94.92 L644.7 94.59 L645.64 94.25 L646.59 93.92 L647.53 93.59 L648.48 93.25 L649.42 92.92 L650.37 92.58 L651.31 92.25 L652.26 91.91 L653.2 91.57 L654.14 91.23 L655.09 90.9 L656.03 90.56 L656.97 90.22 L657.92 89.88 L658.86 89.54 L659.8 89.2 L660.74 88.85 L661.69 88.51 L662.63 88.17 L663.57 87.83 L664.51 87.48 L665.45 87.14 L666.4 86.79 L667.34 86.45 L668.28 86.1 L669.22 85.76 L670.16 85.41 L671.1 85.06 L672.04 84.71 L672.98 84.37 L673.92 84.02 L674.86 83.67 L675.8 83.32 L676.74 82.97 L677.68 82.62 L678.62 82.27 L679.56 81.92 L680.5 81.57 L681.44 81.21 L682.38 80.86 L683.32 80.51 L684.26 80.15 L685.2 79.8 L686.14 79.45 L687.07 79.09 L688.01 78.74 L688.95 78.38 L689.89 78.03 L690.83 77.67 L691.76 77.31 L692.7 76.96 L693.64 76.6 L694.58 76.24 L695.51 75.88 L696.45 75.53 L697.39 75.17 L698.32 74.81 L699.26 74.45 L700.2 74.09 L701.13 73.73 L702.07 73.37 L703.01 73.01 L703.94 72.65 L704.88 72.29 L705.82 71.93 L706.75 71.56 L707.69 71.2 L708.62 70.84 L709.56 70.48 L710.49 70.12 L711.43 69.75 L712.36 69.39 L713.3 69.03 L714.23 68.66 L715.17 68.3 L716.1 67.93 L717.04 67.57 L717.97 67.2 L718.91 66.84 L719.84 66.47 L720.78 66.11 L721.71 65.74 L722.65 65.38 L723.58 65.01 L724.51 64.65 L725.45 64.28 L726.38 63.91 L727.32 63.55 L728.25 63.18 L729.18 62.81 L730.12 62.45 L731.05 62.08 L731.98 61.71 L732.92 61.34 L733.85 60.98 L734.78 60.61 L735.72 60.24 L736.65 59.87 L737.58 59.5 L738.52 59.13 L739.45 58.77 L740.38 58.4 L741.31 58.03 L742.25 57.66 L743.18 57.29 L744.11 56.92 L745.04 56.55 L745.98 56.18 L746.91 55.81 L747.84 55.44 L748.77 55.07 L749.71 54.7 L750.64 54.34 L751.57 53.97 L752.5 53.6 L753.43 53.23 L754.37 52.86 L755.3 52.49 L756.23 52.12 L757.16 51.75 L758.09 51.38 L759.03 51.01 L759.96 50.64 L760.89 50.27 L761.82 49.9 L762.75 49.53 L763.68 49.16 L764.62 48.79 L765.55 48.42 L766.48 48.05 L767.41 47.68 L768.34 47.31 L769.27 46.94 L770.2 46.57 L771.14 46.2 L772.07 45.83 L773 45.46 L773.93 45.09 L774.86 44.72 L775.79 44.35 L776.72 43.98 L777.65 43.62 L778.58 43.25 L779.52 42.88 L780.45 42.51 L781.38 42.14 L782.31 41.77 L783.24 41.4 L784.17 41.04 L785.1 40.67 L786.03 40.3 L786.96 39.93 L787.9 39.56 L788.83 39.2 L789.76 38.83 L790.69 38.46 L791.62 38.09 L792.55 37.73 L793.48 37.36 L794.41 36.99 L795.34 36.63 L796.27 36.26 L797.21 35.9 L798.14 35.53 L799.07 35.16 L800 34.8" fill="none" stroke="#111" stroke-width="1.25"/>
<path d="M462.6 229.2 L463.46 229.74 L464.33 230.27 L465.2 230.8 L466.07 231.33 L466.94 231.85 L467.82 232.37 L468.7 232.88 L469.58 233.39 L470.46 233.9 L471.35 234.4 L472.24 234.9 L473.13 235.39 L474.02 235.88 L474.91 236.37 L475.81 236.85 L476.71 237.33 L477.61 237.8 L478.51 238.28 L479.41 238.74 L480.32 239.21 L481.23 239.67 L482.14 240.12 L483.05 240.57 L483.96 241.02 L484.88 241.47 L485.8 241.91 L486.72 242.34 L487.64 242.78 L488.56 243.21 L489.49 243.63 L490.41 244.05 L491.34 244.47 L492.27 244.89 L493.2 245.3 L494.14 245.7 L495.07 246.11 L496.01 246.51 L496.94 246.9 L497.88 247.29 L498.82 247.68 L499.77 248.07 L500.71 248.45 L501.65 248.83 L502.6 249.2" fill="none" stroke="#111" stroke-width="1.25"/>
<path d="M462.6 229.2 L462.77 230.2 L462.92 231.2 L463.07 232.2 L463.21 233.2 L463.34 234.2 L463.46 235.2 L463.58 236.2 L463.69 237.21 L463.78 238.21 L463.88 239.21 L463.96 240.21 L464.04 241.22 L464.11 242.22 L464.18 243.23 L464.23 244.23 L464.29 245.24 L464.33 246.24 L464.38 247.25 L464.41 248.25 L464.44 249.26 L464.47 250.26 L464.49 251.27 L464.51 252.28 L464.52 253.28 L464.53 254.29 L464.54 255.3 L464.54 256.31 L464.54 257.31 L464.54 258.32 L464.53 259.33 L464.53 260.34 L464.52 261.34 L464.5 262.35 L464.49 263.36 L464.47 264.37 L464.46 265.38 L464.44 266.38 L464.42 267.39 L464.4 268.4 L464.38 269.41 L464.36 270.42 L464.34 271.42 L464.32 272.43 L464.3 273.44 L464.28 274.45 L464.27 275.46 L464.25 276.46 L464.24 277.47 L464.23 278.48 L464.21 279.49 L464.21 280.49 L464.2 281.5" fill="none" stroke="#111" stroke-width="1.1"/>
<line x1="462.6" y1="249.2" x2="665.3" y2="248.8" stroke="#111" stroke-width="1.25"/>
<path d="M502.6 249.2 L503.44 248.63 L504.29 248.07 L505.14 247.52 L505.99 246.98 L506.86 246.45 L507.72 245.94 L508.59 245.44 L509.47 244.94 L510.35 244.46 L511.24 243.99 L512.13 243.53 L513.02 243.08 L513.92 242.65 L514.83 242.22 L515.73 241.8 L516.65 241.39 L517.56 241 L518.48 240.61 L519.41 240.23 L520.33 239.86 L521.26 239.51 L522.2 239.16 L523.14 238.82 L524.08 238.49 L525.02 238.17 L525.97 237.86 L526.92 237.56 L527.88 237.26 L528.84 236.98 L529.8 236.7 L530.76 236.44 L531.73 236.18 L532.69 235.93 L533.66 235.68 L534.64 235.45 L535.61 235.22 L536.59 235 L537.57 234.79 L538.55 234.59 L539.54 234.39 L540.52 234.2 L541.51 234.02 L542.5 233.85 L543.49 233.68 L544.48 233.52 L545.48 233.36 L546.47 233.22 L547.47 233.08 L548.47 232.94 L549.47 232.81 L550.47 232.69 L551.47 232.58 L552.47 232.47 L553.47 232.36 L554.47 232.26 L555.48 232.17 L556.48 232.08 L557.48 232 L558.49 231.92 L559.49 231.85 L560.5 231.78 L561.5 231.72 L562.51 231.66 L563.51 231.61 L564.52 231.56 L565.52 231.52 L566.52 231.48 L567.52 231.45 L568.53 231.42 L569.53 231.39 L570.53 231.37 L571.53 231.35 L572.53 231.33 L573.52 231.32 L574.52 231.31 L575.51 231.3 L576.51 231.3 L577.5 231.3" fill="none" stroke="#111" stroke-width="1.25"/>
<path d="M577.5 231.3 L578.5 231.34 L579.5 231.38 L580.5 231.43 L581.49 231.47 L582.49 231.52 L583.49 231.57 L584.49 231.63 L585.49 231.69 L586.49 231.75 L587.49 231.81 L588.49 231.87 L589.49 231.94 L590.49 232.01 L591.49 232.09 L592.49 232.16 L593.49 232.24 L594.49 232.33 L595.49 232.41 L596.49 232.5 L597.49 232.59 L598.49 232.69 L599.49 232.79 L600.48 232.9 L601.48 233 L602.48 233.11 L603.48 233.23 L604.47 233.35 L605.47 233.47 L606.46 233.6 L607.46 233.73 L608.45 233.86 L609.44 234 L610.43 234.14 L611.42 234.29 L612.41 234.44 L613.4 234.6 L614.39 234.76 L615.38 234.92 L616.37 235.09 L617.35 235.27 L618.34 235.45 L619.32 235.63 L620.3 235.82 L621.29 236.01 L622.27 236.21 L623.25 236.41 L624.22 236.62 L625.2 236.84 L626.18 237.05 L627.15 237.28 L628.13 237.5 L629.1 237.73 L630.07 237.97 L631.04 238.21 L632.01 238.45 L632.98 238.69 L633.95 238.94 L634.92 239.19 L635.88 239.45 L636.85 239.71 L637.82 239.97 L638.78 240.23 L639.75 240.5 L640.71 240.76 L641.67 241.03 L642.64 241.31 L643.6 241.58 L644.56 241.86 L645.53 242.13 L646.49 242.41 L647.45 242.69 L648.41 242.97 L649.37 243.25 L650.33 243.53 L651.29 243.82 L652.25 244.1 L653.21 244.38 L654.17 244.67 L655.13 244.95 L656.1 245.23 L657.06 245.52 L658.02 245.8 L658.98 246.08 L659.94 246.36 L660.9 246.64 L661.86 246.92 L662.82 247.2 L663.79 247.48 L664.75 247.75 L665.71 248.02 L666.68 248.29 L667.64 248.56 L668.6 248.83 L669.57 249.1 L670.53 249.36 L671.5 249.63 L672.46 249.89 L673.43 250.16 L674.4 250.42 L675.36 250.68 L676.33 250.94 L677.3 251.2 L678.26 251.46 L679.23 251.72 L680.19 251.98 L681.16 252.24 L682.13 252.51 L683.09 252.77 L684.06 253.03 L685.03 253.29 L685.99 253.56 L686.96 253.82 L687.92 254.09 L688.89 254.36 L689.85 254.63 L690.82 254.9 L691.78 255.17 L692.75 255.44 L693.71 255.72 L694.67 255.99 L695.63 256.27 L696.59 256.55 L697.55 256.83 L698.51 257.12 L699.47 257.4 L700.43 257.69 L701.39 257.99 L702.34 258.28 L703.3 258.58 L704.26 258.88 L705.21 259.18 L706.16 259.48 L707.11 259.79 L708.06 260.1 L709.01 260.42 L709.96 260.74 L710.91 261.06 L711.85 261.39 L712.8 261.71 L713.74 262.05 L714.68 262.38 L715.62 262.73 L716.56 263.07 L717.5 263.42 L718.44 263.77 L719.37 264.13 L720.3 264.49 L721.23 264.86 L722.16 265.23 L723.09 265.61 L724.02 265.99 L724.94 266.38 L725.86 266.77 L726.79 267.16 L727.7 267.56 L728.62 267.96 L729.54 268.37 L730.45 268.78 L731.37 269.2 L732.28 269.62 L733.19 270.04 L734.09 270.46 L735 270.89 L735.9 271.33 L736.81 271.77 L737.71 272.21 L738.61 272.65 L739.51 273.1 L740.4 273.55 L741.3 274 L742.19 274.46 L743.08 274.92 L743.97 275.38 L744.86 275.84 L745.75 276.31 L746.63 276.78 L747.52 277.25 L748.4 277.73 L749.28 278.2 L750.16 278.68 L751.04 279.16 L751.91 279.65 L752.79 280.13 L753.66 280.62 L754.53 281.11 L755.4 281.6" fill="none" stroke="#111" stroke-width="1.2" stroke-dasharray="2.6 1.8"/>
<line x1="467.88" y1="268.7" x2="482.7" y2="268.7" stroke="#111" stroke-width="0.9"/>
<path d="M464.2 268.7 L468.8 267 L468.8 270.4 Z" fill="#111"/>
<g transform="translate(124.08 8.60) scale(0.2828 0.2778)"><text x="0" y="0" font-family="Liberation Serif" font-size="40" font-weight="normal" font-style="normal" fill="#111" stroke="#111" stroke-width="1.2" letter-spacing="3.5">Weight</text></g>
<g transform="translate(170.30 8.60) scale(0.3149 0.2778)"><text x="0" y="0" font-family="Liberation Serif" font-size="40" font-weight="normal" font-style="normal" fill="#111" stroke="#111" stroke-width="1.2" letter-spacing="3.5">Percent</text></g>
<g transform="translate(223.10 8.60) scale(0.3111 0.2778)"><text x="0" y="0" font-family="Liberation Serif" font-size="40" font-weight="normal" font-style="normal" fill="#111" stroke="#111" stroke-width="1.2" letter-spacing="3.5">Aluminum</text></g>
<g transform="translate(545.38 10.20) scale(0.2828 0.2815)"><text x="0" y="0" font-family="Liberation Serif" font-size="40" font-weight="normal" font-style="normal" fill="#111" stroke="#111" stroke-width="1.2" letter-spacing="3.5">Weight</text></g>
<g transform="translate(591.40 10.20) scale(0.3170 0.2815)"><text x="0" y="0" font-family="Liberation Serif" font-size="40" font-weight="normal" font-style="normal" fill="#111" stroke="#111" stroke-width="1.2" letter-spacing="3.5">Percent</text></g>
<g transform="translate(644.20 10.20) scale(0.2988 0.2815)"><text x="0" y="0" font-family="Liberation Serif" font-size="40" font-weight="normal" font-style="normal" fill="#111" stroke="#111" stroke-width="1.2" letter-spacing="3.5">Molybdenum</text></g>
<g transform="translate(121.10 301.80) scale(0.3015 0.2815)"><text x="0" y="0" font-family="Liberation Serif" font-size="40" font-weight="normal" font-style="normal" fill="#111" stroke="#111" stroke-width="1.2" letter-spacing="3.5">Atomic</text></g>
<g transform="translate(169.80 301.80) scale(0.3213 0.2815)"><text x="0" y="0" font-family="Liberation Serif" font-size="40" font-weight="normal" font-style="normal" fill="#111" stroke="#111" stroke-width="1.2" letter-spacing="3.5">Percent</text></g>
<g transform="translate(223.70 301.80) scale(0.3101 0.2815)"><text x="0" y="0" font-family="Liberation Serif" font-size="40" font-weight="normal" font-style="normal" fill="#111" stroke="#111" stroke-width="1.2" letter-spacing="3.5">Aluminum</text></g>
<g transform="translate(542.70 303.80) scale(0.2964 0.2852)"><text x="0" y="0" font-family="Liberation Serif" font-size="40" font-weight="normal" font-style="normal" fill="#111" stroke="#111" stroke-width="1.2" letter-spacing="3.5">Atomic</text></g>
<g transform="translate(591.50 303.80) scale(0.3191 0.2852)"><text x="0" y="0" font-family="Liberation Serif" font-size="40" font-weight="normal" font-style="normal" fill="#111" stroke="#111" stroke-width="1.2" letter-spacing="3.5">Percent</text></g>
<g transform="translate(644.40 303.80) scale(0.2996 0.2852)"><text x="0" y="0" font-family="Liberation Serif" font-size="40" font-weight="normal" font-style="normal" fill="#111" stroke="#111" stroke-width="1.2" letter-spacing="3.5">Molybdenum</text></g>
<g transform="translate(35.20 299.65) scale(0.2289 0.2500)"><text x="0" y="0" font-family="Liberation Serif" font-size="40" font-weight="normal" font-style="normal" fill="#111" stroke="#111" stroke-width="1.2" letter-spacing="3.5">Ti</text></g>
<g transform="translate(373.70 301.47) scale(0.2023 0.2300)"><text x="0" y="0" font-family="Liberation Serif" font-size="40" font-weight="normal" font-style="normal" fill="#111" stroke="#111" stroke-width="1.2" letter-spacing="3.5">Al</text></g>
<g transform="translate(800.60 302.97) scale(0.1845 0.2286)"><text x="0" y="0" font-family="Liberation Serif" font-size="40" font-weight="normal" font-style="normal" fill="#111" stroke="#111" stroke-width="1.2" letter-spacing="3.5">Mo</text></g>
<g transform="translate(462.30 303.57) scale(0.2237 0.2321)"><text x="0" y="0" font-family="Liberation Serif" font-size="40" font-weight="normal" font-style="normal" fill="#111" stroke="#111" stroke-width="1.2" letter-spacing="3.5">Ti</text></g>
<g transform="translate(8.45 199.20) rotate(-90) scale(0.3019 0.2686)"><text x="0" y="0" font-family="Liberation Mono" font-size="40" font-weight="normal" font-style="normal" fill="#111" stroke="#111" stroke-width="0.6">Temperature<tspan dx="12">°</tspan><tspan dx="-4">C</tspan></text></g>
<g transform="translate(432.02 203.00) rotate(-90) scale(0.3031 0.2971)"><text x="0" y="0" font-family="Liberation Mono" font-size="40" font-weight="normal" font-style="normal" fill="#111" stroke="#111" stroke-width="0.6">Temperature<tspan dx="12">°</tspan><tspan dx="-4">C</tspan></text></g>
<g transform="translate(284.70 67.74) scale(0.2304 0.2643)"><text x="0" y="0" font-family="Liberation Serif" font-size="40" font-weight="normal" font-style="normal" fill="#111" stroke="#111" stroke-width="1.3">L</text></g>
<g transform="translate(522.90 62.27) scale(0.3043 0.3286)"><text x="0" y="0" font-family="Liberation Serif" font-size="40" font-weight="normal" font-style="normal" fill="#111" stroke="#111" stroke-width="1.3">L</text></g>
<g transform="translate(87.20 112.41) scale(0.2975 0.2487)"><text x="0" y="0" font-family="Liberation Serif" font-size="40" font-weight="normal" font-style="normal" fill="#111" stroke="#111" stroke-width="1.3">(<tspan font-style="italic">β</tspan>Ti)</text></g>
<g transform="translate(218.10 138.57) scale(0.2703 0.2300)"><text x="0" y="0" font-family="Liberation Serif" font-size="40" font-weight="normal" font-style="normal" fill="#111" stroke="#111" stroke-width="1.3">TiAl</text></g>
<g transform="translate(124.20 184.42) scale(0.2778 0.2316)"><text x="0" y="0" font-family="Liberation Serif" font-size="40" font-weight="normal" font-style="normal" fill="#111" stroke="#111" stroke-width="1.3">Ti<tspan font-size="31" dy="8">3</tspan><tspan dy="-8" font-size="40">Al</tspan></text></g>
<g transform="translate(308.00 213.48) scale(0.2865 0.2579)"><text x="0" y="0" font-family="Liberation Serif" font-size="40" font-weight="normal" font-style="normal" fill="#111" stroke="#111" stroke-width="1.3">TiAl<tspan font-size="31" dy="8">3</tspan></text></g>
<g transform="translate(46.31 224.86) scale(0.2925 0.2711)"><text x="0" y="0" font-family="Liberation Serif" font-size="40" font-weight="normal" font-style="normal" fill="#111" stroke="#111" stroke-width="1.3">(<tspan font-style="italic">α</tspan>Ti)</text></g>
<g transform="translate(338.72 275.13) scale(0.2800 0.2526)"><text x="0" y="0" font-family="Liberation Serif" font-size="40" font-weight="normal" font-style="normal" fill="#111" stroke="#111" stroke-width="1.3">(Al)</text></g>
<g transform="translate(298.27 275.62) scale(0.2349 0.1974)"><text x="0" y="0" font-family="Liberation Serif" font-size="40" font-weight="normal" font-style="normal" fill="#111" stroke="#111" stroke-width="1.2"><tspan font-style="italic">α</tspan>TiAl<tspan font-size="31" dy="8">3</tspan></text></g>
<g transform="translate(262.40 266.14) scale(0.1966 0.1842)"><text x="0" y="0" font-family="Liberation Serif" font-size="40" font-weight="normal" font-style="normal" fill="#111" stroke="#111" stroke-width="1.8">TiAl<tspan font-size="31" dy="8">2</tspan></text></g>
<g transform="translate(594.62 196.33) scale(0.2785 0.2667)"><text x="0" y="0" font-family="Liberation Serif" font-size="40" font-weight="normal" font-style="normal" fill="#111" stroke="#111" stroke-width="1.3">(<tspan font-style="italic">β</tspan>Ti,Mo)</text></g>
<g transform="translate(484.31 271.27) scale(0.2938 0.2816)"><text x="0" y="0" font-family="Liberation Serif" font-size="40" font-weight="normal" font-style="normal" fill="#111" stroke="#111" stroke-width="1.3">(<tspan font-style="italic">α</tspan>Ti)</text></g>
<g transform="translate(182.40 320.54) scale(0.4000 0.3694)"><text x="0" y="0" font-family="Liberation Serif" font-size="40" font-weight="bold" font-style="normal" fill="#111" >(<tspan font-size="48">a</tspan>)</text></g>
<g transform="translate(613.96 320.79) scale(0.4217 0.3757)"><text x="0" y="0" font-family="Liberation Serif" font-size="40" font-weight="bold" font-style="normal" fill="#111" >(<tspan font-size="42">b</tspan>)</text></g>
<g transform="translate(281.77 175.35) rotate(90) scale(0.1235 0.1679)"><text x="0" y="0" font-family="Liberation Serif" font-size="40" font-weight="bold" font-style="normal" fill="#111" letter-spacing="2.5" stroke="#111" stroke-width="1">SUPERLATTICE STRUCTURES</text></g>
<g transform="translate(274.63 130.42) scale(0.1684 0.1767)"><text x="0" y="0" font-family="Liberation Serif" font-size="40" font-weight="normal" font-style="normal" fill="#111" stroke="#111" stroke-width="1.3"><tspan font-style="italic">δ</tspan></text></g>
<g transform="translate(37.37 56.50) scale(0.1657 0.1552)"><text x="0" y="0" font-family="Liberation Sans" font-size="40" font-weight="normal" font-style="normal" fill="#111" stroke="#111" stroke-width="2.2">1670<tspan font-size="42" dy="-19" dx="1">o</tspan><tspan dy="19" dx="0">C</tspan></text></g>
<g transform="translate(36.84 209.50) scale(0.1647 0.1655)"><text x="0" y="0" font-family="Liberation Sans" font-size="40" font-weight="normal" font-style="normal" fill="#111" stroke="#111" stroke-width="2.2">882<tspan font-size="42" dy="-19" dx="1">o</tspan><tspan dy="19" dx="0">C</tspan></text></g>
<g transform="translate(315.54 246.20) scale(0.1622 0.1448)"><text x="0" y="0" font-family="Liberation Sans" font-size="40" font-weight="normal" font-style="normal" fill="#111" stroke="#111" stroke-width="2.2">665<tspan font-size="42" dy="-19" dx="1">o</tspan><tspan dy="19" dx="0">C</tspan></text></g>
<g transform="translate(376.73 249.60) scale(0.1701 0.1448)"><text x="0" y="0" font-family="Liberation Sans" font-size="40" font-weight="normal" font-style="normal" fill="#111" stroke="#111" stroke-width="2.2">660.452<tspan font-size="42" dy="-19" dx="1">o</tspan><tspan dy="19" dx="0">C</tspan></text></g>
<g transform="translate(183.76 124.20) scale(0.1378 0.1103)"><text x="0" y="0" font-family="Liberation Sans" font-size="40" font-weight="normal" font-style="normal" fill="#111" stroke="#111" stroke-width="2.2">~1285</text></g>
<g transform="translate(175.52 155.00) scale(0.1750 0.1172)"><text x="0" y="0" font-family="Liberation Sans" font-size="40" font-weight="normal" font-style="normal" fill="#111" stroke="#111" stroke-width="2.2">~1125</text></g>
<g transform="translate(462.08 147.00) scale(0.1579 0.1724)"><text x="0" y="0" font-family="Liberation Sans" font-size="40" font-weight="normal" font-style="normal" fill="#111" stroke="#111" stroke-width="2.2">1670<tspan font-size="42" dy="-19" dx="1">o</tspan><tspan dy="19" dx="0">C</tspan></text></g>
<g transform="translate(776.73 33.90) scale(0.1702 0.1621)"><text x="0" y="0" font-family="Liberation Sans" font-size="40" font-weight="normal" font-style="normal" fill="#111" stroke="#111" stroke-width="2.2">2623<tspan font-size="42" dy="-19" dx="1">o</tspan><tspan dy="19" dx="0">C</tspan></text></g>
<g transform="translate(462.43 228.00) scale(0.1714 0.1724)"><text x="0" y="0" font-family="Liberation Sans" font-size="40" font-weight="normal" font-style="normal" fill="#111" stroke="#111" stroke-width="2.2">882<tspan font-size="42" dy="-19" dx="1">o</tspan><tspan dy="19" dx="0">C</tspan></text></g>
<g transform="translate(558.83 231.10) scale(0.1718 0.1552)"><text x="0" y="0" font-family="Liberation Sans" font-size="40" font-weight="normal" font-style="normal" fill="#111" stroke="#111" stroke-width="2.2">~850<tspan font-size="42" dy="-19" dx="1">o</tspan><tspan dy="19" dx="0">C</tspan></text></g>
<g transform="translate(558.13 248.00) scale(0.1718 0.1517)"><text x="0" y="0" font-family="Liberation Sans" font-size="40" font-weight="normal" font-style="normal" fill="#111" stroke="#111" stroke-width="2.2">~695<tspan font-size="42" dy="-19" dx="1">o</tspan><tspan dy="19" dx="0">C</tspan></text></g>
<g transform="translate(494.82 256.00) scale(0.1818 0.1379)"><text x="0" y="0" font-family="Liberation Sans" font-size="40" font-weight="normal" font-style="normal" fill="#111" stroke="#111" stroke-width="2.2">~12</text></g>
</svg>
</body></html>
